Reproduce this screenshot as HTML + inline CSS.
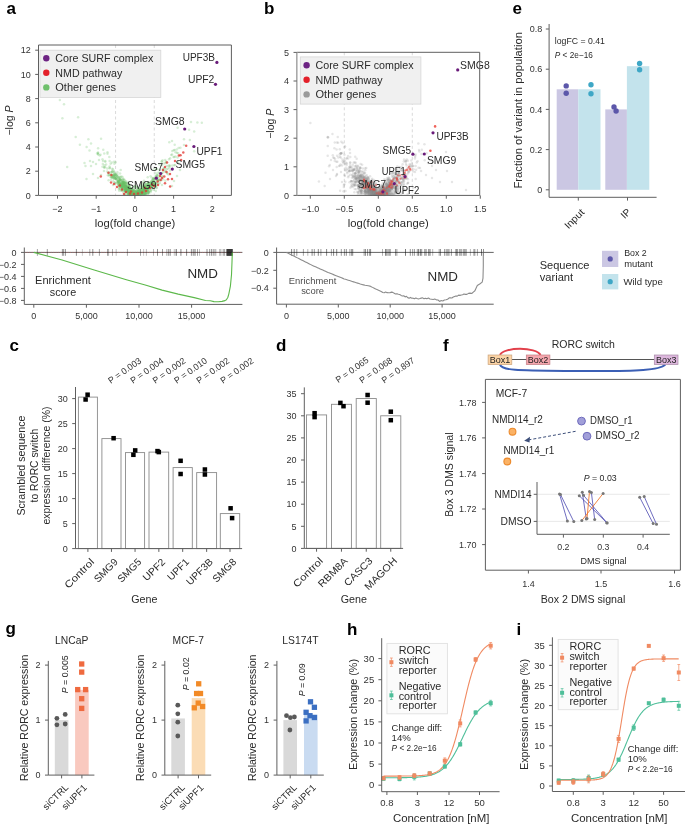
<!DOCTYPE html>
<html><head><meta charset="utf-8"><style>
html,body{margin:0;padding:0;background:#fff;}
svg{display:block;font-family:"Liberation Sans",sans-serif;will-change:transform;}
</style></head><body>
<svg width="685" height="825" viewBox="0 0 685 825">
<rect width="685" height="825" fill="#fff"/>
<text x="6.5" y="13.6" font-size="17" fill="#000" font-weight="bold" >a</text>
<text x="264" y="13.6" font-size="17" fill="#000" font-weight="bold" >b</text>
<text x="512.5" y="13.6" font-size="17" fill="#000" font-weight="bold" >e</text>
<text x="9.5" y="351.1" font-size="17" fill="#000" font-weight="bold" >c</text>
<text x="276" y="351.1" font-size="17" fill="#000" font-weight="bold" >d</text>
<text x="443" y="350.6" font-size="17" fill="#000" font-weight="bold" >f</text>
<text x="5.5" y="633.6" font-size="17" fill="#000" font-weight="bold" >g</text>
<text x="347" y="635.1" font-size="17" fill="#000" font-weight="bold" >h</text>
<text x="516.5" y="634.6" font-size="17" fill="#000" font-weight="bold" >i</text>
<line x1="115.55" y1="45" x2="115.55" y2="195.4" stroke="#d0d0d0" stroke-width="0.8" stroke-dasharray="3,2.5"/>
<line x1="154.25" y1="45" x2="154.25" y2="195.4" stroke="#d0d0d0" stroke-width="0.8" stroke-dasharray="3,2.5"/>
<g fill="#6cbf69" fill-opacity="0.27">
<circle cx="119.27" cy="180.8" r="1.25"/>
<circle cx="147.61" cy="189.91" r="1.25"/>
<circle cx="117.93" cy="180.93" r="1.25"/>
<circle cx="141" cy="189.65" r="1.25"/>
<circle cx="119.37" cy="186.57" r="1.25"/>
<circle cx="143.92" cy="189.47" r="1.25"/>
<circle cx="154.49" cy="178.83" r="1.25"/>
<circle cx="167.73" cy="168.78" r="1.25"/>
<circle cx="124.88" cy="190.82" r="1.25"/>
<circle cx="136.12" cy="194.59" r="1.25"/>
<circle cx="130.5" cy="192.32" r="1.25"/>
<circle cx="138.39" cy="192.22" r="1.25"/>
<circle cx="148.91" cy="186.6" r="1.25"/>
<circle cx="112.04" cy="171.41" r="1.25"/>
<circle cx="116.77" cy="180.09" r="1.25"/>
<circle cx="116.08" cy="178.72" r="1.25"/>
<circle cx="124.96" cy="186.89" r="1.25"/>
<circle cx="175.54" cy="156.4" r="1.25"/>
<circle cx="145.66" cy="193.68" r="1.25"/>
<circle cx="131.22" cy="191.09" r="1.25"/>
<circle cx="133.72" cy="193.73" r="1.25"/>
<circle cx="142.1" cy="194.17" r="1.25"/>
<circle cx="158.8" cy="180.17" r="1.25"/>
<circle cx="143.66" cy="190.99" r="1.25"/>
<circle cx="147.06" cy="190.57" r="1.25"/>
<circle cx="147.66" cy="188.64" r="1.25"/>
<circle cx="151.03" cy="183.41" r="1.25"/>
<circle cx="144.71" cy="188.94" r="1.25"/>
<circle cx="155.87" cy="182.58" r="1.25"/>
<circle cx="141.98" cy="190.62" r="1.25"/>
<circle cx="138.51" cy="193.34" r="1.25"/>
<circle cx="121.94" cy="185.99" r="1.25"/>
<circle cx="142.45" cy="187.56" r="1.25"/>
<circle cx="147.38" cy="185.13" r="1.25"/>
<circle cx="144.83" cy="188.18" r="1.25"/>
<circle cx="137.24" cy="192.62" r="1.25"/>
<circle cx="157.55" cy="180.73" r="1.25"/>
<circle cx="126.04" cy="182.85" r="1.25"/>
<circle cx="138.02" cy="191.73" r="1.25"/>
<circle cx="146.06" cy="192.87" r="1.25"/>
<circle cx="165.98" cy="161.51" r="1.25"/>
<circle cx="137.16" cy="192.71" r="1.25"/>
<circle cx="133.47" cy="193.54" r="1.25"/>
<circle cx="149.15" cy="184.77" r="1.25"/>
<circle cx="135.66" cy="192.08" r="1.25"/>
<circle cx="125.18" cy="185.4" r="1.25"/>
<circle cx="149.1" cy="188.1" r="1.25"/>
<circle cx="112.03" cy="177.77" r="1.25"/>
<circle cx="137.93" cy="192.86" r="1.25"/>
<circle cx="154.67" cy="186.04" r="1.25"/>
<circle cx="134.93" cy="193.98" r="1.25"/>
<circle cx="145.2" cy="183.1" r="1.25"/>
<circle cx="147.73" cy="191.11" r="1.25"/>
<circle cx="129.63" cy="190.91" r="1.25"/>
<circle cx="166.69" cy="165.9" r="1.25"/>
<circle cx="136.35" cy="191.26" r="1.25"/>
<circle cx="133.86" cy="190.46" r="1.25"/>
<circle cx="126.15" cy="189.94" r="1.25"/>
<circle cx="144.11" cy="186.59" r="1.25"/>
<circle cx="143.25" cy="190.4" r="1.25"/>
<circle cx="111.64" cy="176.56" r="1.25"/>
<circle cx="127.1" cy="190.88" r="1.25"/>
<circle cx="142.39" cy="192.7" r="1.25"/>
<circle cx="144.96" cy="189.91" r="1.25"/>
<circle cx="130.65" cy="191.99" r="1.25"/>
<circle cx="140.38" cy="190.67" r="1.25"/>
<circle cx="128.8" cy="191.43" r="1.25"/>
<circle cx="117.49" cy="174.56" r="1.25"/>
<circle cx="153.44" cy="184.09" r="1.25"/>
<circle cx="128.79" cy="194.09" r="1.25"/>
<circle cx="137.07" cy="194.03" r="1.25"/>
<circle cx="162.76" cy="172.58" r="1.25"/>
<circle cx="124.97" cy="194.75" r="1.25"/>
<circle cx="152.9" cy="183.26" r="1.25"/>
<circle cx="114.35" cy="176.14" r="1.25"/>
<circle cx="114.36" cy="163.67" r="1.25"/>
<circle cx="149.19" cy="185.18" r="1.25"/>
<circle cx="123.31" cy="182.25" r="1.25"/>
<circle cx="155.89" cy="185.62" r="1.25"/>
<circle cx="115.31" cy="174.63" r="1.25"/>
<circle cx="145.79" cy="192.58" r="1.25"/>
<circle cx="126.03" cy="190.47" r="1.25"/>
<circle cx="119.71" cy="184.82" r="1.25"/>
<circle cx="150.87" cy="183.33" r="1.25"/>
<circle cx="161.16" cy="175.88" r="1.25"/>
<circle cx="112.2" cy="171.62" r="1.25"/>
<circle cx="153.29" cy="180.55" r="1.25"/>
<circle cx="151.92" cy="183.92" r="1.25"/>
<circle cx="125.73" cy="187.96" r="1.25"/>
<circle cx="130.12" cy="194.71" r="1.25"/>
<circle cx="113.29" cy="181.36" r="1.25"/>
<circle cx="128.84" cy="187.06" r="1.25"/>
<circle cx="137.19" cy="193.09" r="1.25"/>
<circle cx="150.46" cy="188.82" r="1.25"/>
<circle cx="109.74" cy="168.33" r="1.25"/>
<circle cx="126.11" cy="184.78" r="1.25"/>
<circle cx="139.21" cy="190.98" r="1.25"/>
<circle cx="144.09" cy="192.68" r="1.25"/>
<circle cx="125.24" cy="189.05" r="1.25"/>
<circle cx="144.71" cy="187.72" r="1.25"/>
<circle cx="147.81" cy="193.42" r="1.25"/>
<circle cx="133.6" cy="193.12" r="1.25"/>
<circle cx="125.14" cy="186.97" r="1.25"/>
<circle cx="137.85" cy="191.74" r="1.25"/>
<circle cx="124.41" cy="189.51" r="1.25"/>
<circle cx="125.15" cy="182.54" r="1.25"/>
<circle cx="148.83" cy="187.76" r="1.25"/>
<circle cx="137.78" cy="193.92" r="1.25"/>
<circle cx="137.49" cy="194.83" r="1.25"/>
<circle cx="126.7" cy="184.4" r="1.25"/>
<circle cx="141.75" cy="191.97" r="1.25"/>
<circle cx="132.16" cy="193.28" r="1.25"/>
<circle cx="137.41" cy="193.8" r="1.25"/>
<circle cx="125.34" cy="190.17" r="1.25"/>
<circle cx="122.14" cy="188.29" r="1.25"/>
<circle cx="131.49" cy="194.43" r="1.25"/>
<circle cx="126.98" cy="189.02" r="1.25"/>
<circle cx="149.3" cy="186.73" r="1.25"/>
<circle cx="133.25" cy="192.13" r="1.25"/>
<circle cx="129.87" cy="194.62" r="1.25"/>
<circle cx="118.76" cy="185.36" r="1.25"/>
<circle cx="117.15" cy="175.96" r="1.25"/>
<circle cx="139.44" cy="194" r="1.25"/>
<circle cx="153.54" cy="185.75" r="1.25"/>
<circle cx="144.52" cy="188.1" r="1.25"/>
<circle cx="115.15" cy="183.52" r="1.25"/>
<circle cx="123.05" cy="182.96" r="1.25"/>
<circle cx="151.45" cy="189.47" r="1.25"/>
<circle cx="148.29" cy="189" r="1.25"/>
<circle cx="129.88" cy="193.1" r="1.25"/>
<circle cx="122.11" cy="188.81" r="1.25"/>
<circle cx="141.16" cy="186.91" r="1.25"/>
<circle cx="169.79" cy="166.26" r="1.25"/>
<circle cx="112.92" cy="176.79" r="1.25"/>
<circle cx="122.9" cy="179.46" r="1.25"/>
<circle cx="142.19" cy="193.89" r="1.25"/>
<circle cx="146.85" cy="187.17" r="1.25"/>
<circle cx="114.14" cy="178.62" r="1.25"/>
<circle cx="131.84" cy="193.15" r="1.25"/>
<circle cx="123.45" cy="181.49" r="1.25"/>
<circle cx="139.5" cy="192.25" r="1.25"/>
<circle cx="114.53" cy="177.66" r="1.25"/>
<circle cx="145.36" cy="193.75" r="1.25"/>
<circle cx="148.92" cy="188.56" r="1.25"/>
<circle cx="140.04" cy="193.43" r="1.25"/>
<circle cx="137.69" cy="191.36" r="1.25"/>
<circle cx="129.75" cy="187.54" r="1.25"/>
<circle cx="124.91" cy="190.24" r="1.25"/>
<circle cx="143.98" cy="193.87" r="1.25"/>
<circle cx="130.17" cy="189.6" r="1.25"/>
<circle cx="150.36" cy="192.13" r="1.25"/>
<circle cx="141.36" cy="187.31" r="1.25"/>
<circle cx="150.16" cy="187.1" r="1.25"/>
<circle cx="127.23" cy="190.33" r="1.25"/>
<circle cx="120.18" cy="183.88" r="1.25"/>
<circle cx="132.51" cy="194.04" r="1.25"/>
<circle cx="150" cy="187.19" r="1.25"/>
<circle cx="116.28" cy="175.14" r="1.25"/>
<circle cx="121.2" cy="185.46" r="1.25"/>
<circle cx="122.09" cy="185.66" r="1.25"/>
<circle cx="162.79" cy="176.26" r="1.25"/>
<circle cx="133.16" cy="191.57" r="1.25"/>
<circle cx="144.41" cy="188.29" r="1.25"/>
<circle cx="123.86" cy="186.14" r="1.25"/>
<circle cx="141.27" cy="188.96" r="1.25"/>
<circle cx="140.9" cy="193.26" r="1.25"/>
<circle cx="138.05" cy="192.44" r="1.25"/>
<circle cx="130.56" cy="194.27" r="1.25"/>
<circle cx="123.98" cy="183.31" r="1.25"/>
<circle cx="151.26" cy="181.94" r="1.25"/>
<circle cx="145.84" cy="187.03" r="1.25"/>
<circle cx="134.87" cy="193.93" r="1.25"/>
<circle cx="121.46" cy="184.92" r="1.25"/>
<circle cx="125.53" cy="185.92" r="1.25"/>
<circle cx="127.49" cy="190.03" r="1.25"/>
<circle cx="140.01" cy="189.61" r="1.25"/>
<circle cx="124.79" cy="190.16" r="1.25"/>
<circle cx="145.34" cy="193.21" r="1.25"/>
<circle cx="140.68" cy="194.25" r="1.25"/>
<circle cx="144.01" cy="192.22" r="1.25"/>
<circle cx="123.42" cy="179.74" r="1.25"/>
<circle cx="143.99" cy="180.65" r="1.25"/>
<circle cx="140.11" cy="193.95" r="1.25"/>
<circle cx="136.28" cy="191.18" r="1.25"/>
<circle cx="134.56" cy="194.17" r="1.25"/>
<circle cx="141.5" cy="194.74" r="1.25"/>
<circle cx="118.99" cy="178.82" r="1.25"/>
<circle cx="143.4" cy="190.95" r="1.25"/>
<circle cx="123.31" cy="192.2" r="1.25"/>
<circle cx="141.1" cy="192.77" r="1.25"/>
<circle cx="113.4" cy="175.98" r="1.25"/>
<circle cx="115.47" cy="178.17" r="1.25"/>
<circle cx="136.73" cy="193.84" r="1.25"/>
<circle cx="137.67" cy="193.84" r="1.25"/>
<circle cx="120.34" cy="184.43" r="1.25"/>
<circle cx="128.37" cy="191.09" r="1.25"/>
<circle cx="138.35" cy="192.42" r="1.25"/>
<circle cx="155.78" cy="191.01" r="1.25"/>
<circle cx="140.02" cy="193.61" r="1.25"/>
<circle cx="163.97" cy="168.05" r="1.25"/>
<circle cx="113.79" cy="174.66" r="1.25"/>
<circle cx="128.25" cy="187.68" r="1.25"/>
<circle cx="121.42" cy="184.55" r="1.25"/>
<circle cx="133.22" cy="194.44" r="1.25"/>
<circle cx="127.44" cy="194.76" r="1.25"/>
<circle cx="140.78" cy="190.06" r="1.25"/>
<circle cx="137.49" cy="192.98" r="1.25"/>
<circle cx="132.66" cy="193.84" r="1.25"/>
<circle cx="152.89" cy="187.95" r="1.25"/>
<circle cx="125.96" cy="190.54" r="1.25"/>
<circle cx="122.64" cy="187.56" r="1.25"/>
<circle cx="157.85" cy="179.91" r="1.25"/>
<circle cx="133.44" cy="189.34" r="1.25"/>
<circle cx="155.83" cy="185.93" r="1.25"/>
<circle cx="127.49" cy="194.15" r="1.25"/>
<circle cx="127.07" cy="186.74" r="1.25"/>
<circle cx="146.85" cy="188.65" r="1.25"/>
<circle cx="123.4" cy="189.4" r="1.25"/>
<circle cx="138.35" cy="188.08" r="1.25"/>
<circle cx="129.07" cy="193.1" r="1.25"/>
<circle cx="125.99" cy="191.59" r="1.25"/>
<circle cx="122.48" cy="185.89" r="1.25"/>
<circle cx="153.21" cy="183.66" r="1.25"/>
<circle cx="128.38" cy="194.81" r="1.25"/>
<circle cx="137.62" cy="194.33" r="1.25"/>
<circle cx="119.24" cy="185.75" r="1.25"/>
<circle cx="134.36" cy="192.78" r="1.25"/>
<circle cx="142.9" cy="190.89" r="1.25"/>
<circle cx="130.77" cy="191.58" r="1.25"/>
<circle cx="134.75" cy="190.53" r="1.25"/>
<circle cx="120.44" cy="184.48" r="1.25"/>
<circle cx="151.09" cy="186.42" r="1.25"/>
<circle cx="153.1" cy="183.91" r="1.25"/>
<circle cx="117.27" cy="183.46" r="1.25"/>
<circle cx="163.19" cy="170.32" r="1.25"/>
<circle cx="142.64" cy="188.97" r="1.25"/>
<circle cx="142.17" cy="189.1" r="1.25"/>
<circle cx="131.5" cy="193.49" r="1.25"/>
<circle cx="147.46" cy="189.5" r="1.25"/>
<circle cx="117.91" cy="181.47" r="1.25"/>
<circle cx="127.94" cy="188.44" r="1.25"/>
<circle cx="125.7" cy="191.26" r="1.25"/>
<circle cx="130.66" cy="188.4" r="1.25"/>
<circle cx="134.29" cy="194.62" r="1.25"/>
<circle cx="135.02" cy="194.71" r="1.25"/>
<circle cx="146.76" cy="184.57" r="1.25"/>
<circle cx="113.9" cy="171.12" r="1.25"/>
<circle cx="165.53" cy="171.04" r="1.25"/>
<circle cx="159.74" cy="173.12" r="1.25"/>
<circle cx="121.75" cy="182.97" r="1.25"/>
<circle cx="144.31" cy="190.95" r="1.25"/>
<circle cx="105.17" cy="167.22" r="1.25"/>
<circle cx="158.22" cy="179.72" r="1.25"/>
<circle cx="129.88" cy="192.45" r="1.25"/>
<circle cx="124.89" cy="189.76" r="1.25"/>
<circle cx="136.1" cy="194.22" r="1.25"/>
<circle cx="128.42" cy="190.75" r="1.25"/>
<circle cx="117.15" cy="178.02" r="1.25"/>
<circle cx="125.33" cy="187.22" r="1.25"/>
<circle cx="123.32" cy="187.61" r="1.25"/>
<circle cx="166.44" cy="169.27" r="1.25"/>
<circle cx="155.27" cy="176.5" r="1.25"/>
<circle cx="128.46" cy="188.88" r="1.25"/>
<circle cx="128.36" cy="193.64" r="1.25"/>
<circle cx="119.73" cy="185.15" r="1.25"/>
<circle cx="135.13" cy="189.18" r="1.25"/>
<circle cx="157.54" cy="183.55" r="1.25"/>
<circle cx="139.28" cy="193.26" r="1.25"/>
<circle cx="133.14" cy="191.74" r="1.25"/>
<circle cx="130.66" cy="193.11" r="1.25"/>
<circle cx="130.11" cy="192.12" r="1.25"/>
<circle cx="151.32" cy="182.63" r="1.25"/>
<circle cx="117.77" cy="182.09" r="1.25"/>
<circle cx="124.71" cy="184.88" r="1.25"/>
<circle cx="137.77" cy="192.07" r="1.25"/>
<circle cx="140.66" cy="192.16" r="1.25"/>
<circle cx="126.13" cy="187.54" r="1.25"/>
<circle cx="113.03" cy="184.96" r="1.25"/>
<circle cx="127.55" cy="186.69" r="1.25"/>
<circle cx="123.88" cy="185.27" r="1.25"/>
<circle cx="156.26" cy="176.26" r="1.25"/>
<circle cx="139.58" cy="192.82" r="1.25"/>
<circle cx="121.37" cy="185.64" r="1.25"/>
<circle cx="130.65" cy="194.23" r="1.25"/>
<circle cx="139.2" cy="189.91" r="1.25"/>
<circle cx="144.37" cy="189.32" r="1.25"/>
<circle cx="133.44" cy="193.13" r="1.25"/>
<circle cx="122.02" cy="180.81" r="1.25"/>
<circle cx="130.64" cy="191.34" r="1.25"/>
<circle cx="161.31" cy="180.28" r="1.25"/>
<circle cx="146.63" cy="190.72" r="1.25"/>
<circle cx="129.58" cy="189.06" r="1.25"/>
<circle cx="159.75" cy="180.59" r="1.25"/>
<circle cx="135.03" cy="193.28" r="1.25"/>
<circle cx="126.84" cy="187.18" r="1.25"/>
<circle cx="124.88" cy="185.66" r="1.25"/>
<circle cx="140.48" cy="189.69" r="1.25"/>
<circle cx="143.38" cy="194.3" r="1.25"/>
<circle cx="144.49" cy="186.04" r="1.25"/>
<circle cx="142.51" cy="193.24" r="1.25"/>
<circle cx="150.13" cy="185.75" r="1.25"/>
<circle cx="119" cy="183.02" r="1.25"/>
<circle cx="153.02" cy="184.92" r="1.25"/>
<circle cx="113.37" cy="177.69" r="1.25"/>
<circle cx="139.45" cy="192.86" r="1.25"/>
<circle cx="150.51" cy="183.56" r="1.25"/>
<circle cx="147.97" cy="183.85" r="1.25"/>
<circle cx="129.22" cy="192.74" r="1.25"/>
<circle cx="138.91" cy="189.49" r="1.25"/>
<circle cx="113.37" cy="176.61" r="1.25"/>
<circle cx="125.77" cy="186.62" r="1.25"/>
<circle cx="153.6" cy="184.37" r="1.25"/>
<circle cx="119.06" cy="181.7" r="1.25"/>
<circle cx="146.2" cy="190.9" r="1.25"/>
<circle cx="143.63" cy="194.78" r="1.25"/>
<circle cx="148.9" cy="192.01" r="1.25"/>
<circle cx="148.35" cy="193.57" r="1.25"/>
<circle cx="152.52" cy="185.6" r="1.25"/>
<circle cx="115.03" cy="178.46" r="1.25"/>
<circle cx="128.6" cy="189.93" r="1.25"/>
<circle cx="129.41" cy="190.19" r="1.25"/>
<circle cx="138.7" cy="191.27" r="1.25"/>
<circle cx="126.08" cy="181.2" r="1.25"/>
<circle cx="145.12" cy="189.12" r="1.25"/>
<circle cx="148.76" cy="184.3" r="1.25"/>
<circle cx="147.98" cy="186.65" r="1.25"/>
<circle cx="110.73" cy="177.13" r="1.25"/>
<circle cx="140.87" cy="192.36" r="1.25"/>
<circle cx="138.47" cy="192.3" r="1.25"/>
<circle cx="136.76" cy="190.98" r="1.25"/>
<circle cx="127.37" cy="190.73" r="1.25"/>
<circle cx="139.02" cy="191.74" r="1.25"/>
<circle cx="144.96" cy="185.75" r="1.25"/>
<circle cx="128.81" cy="187.73" r="1.25"/>
<circle cx="133.15" cy="189.33" r="1.25"/>
<circle cx="144.93" cy="191.56" r="1.25"/>
<circle cx="104.27" cy="167.84" r="1.25"/>
<circle cx="125.93" cy="188.16" r="1.25"/>
<circle cx="164.41" cy="168.32" r="1.25"/>
<circle cx="119.75" cy="183.27" r="1.25"/>
<circle cx="128.93" cy="182.97" r="1.25"/>
<circle cx="129.74" cy="193.16" r="1.25"/>
<circle cx="149.31" cy="186.72" r="1.25"/>
<circle cx="119.13" cy="177.54" r="1.25"/>
<circle cx="139" cy="192.4" r="1.25"/>
<circle cx="130.58" cy="190.48" r="1.25"/>
<circle cx="145.38" cy="192.51" r="1.25"/>
<circle cx="108.62" cy="180.2" r="1.25"/>
<circle cx="133.26" cy="191.41" r="1.25"/>
<circle cx="147.7" cy="183.79" r="1.25"/>
<circle cx="158.6" cy="178.27" r="1.25"/>
<circle cx="148.38" cy="192.64" r="1.25"/>
<circle cx="143.7" cy="189.85" r="1.25"/>
<circle cx="120.65" cy="183" r="1.25"/>
<circle cx="151.22" cy="186.67" r="1.25"/>
<circle cx="141.68" cy="193.98" r="1.25"/>
<circle cx="139.73" cy="193.81" r="1.25"/>
<circle cx="119.88" cy="183.8" r="1.25"/>
<circle cx="148.14" cy="182.81" r="1.25"/>
<circle cx="130.75" cy="190.37" r="1.25"/>
<circle cx="144.59" cy="189.25" r="1.25"/>
<circle cx="115.09" cy="176.44" r="1.25"/>
<circle cx="122.52" cy="181.57" r="1.25"/>
<circle cx="144.97" cy="188.32" r="1.25"/>
<circle cx="102.51" cy="159.18" r="1.25"/>
<circle cx="143.84" cy="194.56" r="1.25"/>
<circle cx="147.29" cy="188.28" r="1.25"/>
<circle cx="121.9" cy="186.06" r="1.25"/>
<circle cx="174.31" cy="156.96" r="1.25"/>
<circle cx="127.01" cy="190.86" r="1.25"/>
<circle cx="123.58" cy="183.59" r="1.25"/>
<circle cx="131.44" cy="190.78" r="1.25"/>
<circle cx="120.15" cy="179.87" r="1.25"/>
<circle cx="134.55" cy="193.69" r="1.25"/>
<circle cx="150.36" cy="187.6" r="1.25"/>
<circle cx="138.5" cy="193.01" r="1.25"/>
<circle cx="126.1" cy="192.58" r="1.25"/>
<circle cx="140.43" cy="190.49" r="1.25"/>
<circle cx="143.79" cy="194.21" r="1.25"/>
<circle cx="142.63" cy="190.56" r="1.25"/>
<circle cx="138.52" cy="192.79" r="1.25"/>
<circle cx="130.76" cy="191.84" r="1.25"/>
<circle cx="146.74" cy="190.49" r="1.25"/>
<circle cx="116.51" cy="179.58" r="1.25"/>
<circle cx="126.26" cy="186.99" r="1.25"/>
<circle cx="132.98" cy="193.83" r="1.25"/>
<circle cx="118.82" cy="178.51" r="1.25"/>
<circle cx="157.31" cy="180.48" r="1.25"/>
<circle cx="125.55" cy="191.42" r="1.25"/>
<circle cx="146.27" cy="188.93" r="1.25"/>
<circle cx="124.76" cy="183.74" r="1.25"/>
<circle cx="144.67" cy="188.58" r="1.25"/>
<circle cx="112.43" cy="175.04" r="1.25"/>
<circle cx="146.76" cy="184.46" r="1.25"/>
<circle cx="148.1" cy="190.23" r="1.25"/>
<circle cx="125.86" cy="185.61" r="1.25"/>
<circle cx="147.6" cy="184.39" r="1.25"/>
<circle cx="150.23" cy="186.57" r="1.25"/>
<circle cx="144.91" cy="183.44" r="1.25"/>
<circle cx="128.98" cy="192.22" r="1.25"/>
<circle cx="143.19" cy="190.23" r="1.25"/>
<circle cx="117.4" cy="182.68" r="1.25"/>
<circle cx="120.88" cy="177.07" r="1.25"/>
<circle cx="125.74" cy="185.75" r="1.25"/>
<circle cx="159.39" cy="169.73" r="1.25"/>
<circle cx="153.11" cy="177.88" r="1.25"/>
<circle cx="119.12" cy="183.11" r="1.25"/>
<circle cx="125.6" cy="188.94" r="1.25"/>
<circle cx="168.38" cy="174.59" r="1.25"/>
<circle cx="152" cy="180.17" r="1.25"/>
<circle cx="128.36" cy="184.89" r="1.25"/>
<circle cx="135.86" cy="192.09" r="1.25"/>
<circle cx="130.04" cy="192.11" r="1.25"/>
<circle cx="142.79" cy="191.19" r="1.25"/>
<circle cx="165.04" cy="171.75" r="1.25"/>
<circle cx="128.94" cy="192.83" r="1.25"/>
<circle cx="124.98" cy="191.79" r="1.25"/>
<circle cx="122.32" cy="182.22" r="1.25"/>
<circle cx="139.37" cy="190.73" r="1.25"/>
<circle cx="142.76" cy="189.39" r="1.25"/>
<circle cx="127.75" cy="190.66" r="1.25"/>
<circle cx="124.99" cy="187.83" r="1.25"/>
<circle cx="124.46" cy="188.19" r="1.25"/>
<circle cx="132.67" cy="194.32" r="1.25"/>
<circle cx="131.5" cy="194.14" r="1.25"/>
<circle cx="151.63" cy="186.25" r="1.25"/>
<circle cx="121.99" cy="184.15" r="1.25"/>
<circle cx="120.99" cy="187.3" r="1.25"/>
<circle cx="98.14" cy="154.46" r="1.25"/>
<circle cx="148.11" cy="193.27" r="1.25"/>
<circle cx="123.44" cy="184.37" r="1.25"/>
<circle cx="109.52" cy="174.82" r="1.25"/>
<circle cx="119.52" cy="183.01" r="1.25"/>
<circle cx="109.71" cy="167.69" r="1.25"/>
<circle cx="133.06" cy="193.4" r="1.25"/>
<circle cx="130.86" cy="192.97" r="1.25"/>
<circle cx="144.76" cy="188.02" r="1.25"/>
<circle cx="122.06" cy="184.89" r="1.25"/>
<circle cx="153.54" cy="181.56" r="1.25"/>
<circle cx="125.59" cy="188.43" r="1.25"/>
<circle cx="130.46" cy="189.76" r="1.25"/>
<circle cx="135.33" cy="194.41" r="1.25"/>
<circle cx="163.14" cy="179.25" r="1.25"/>
<circle cx="121.95" cy="190.26" r="1.25"/>
<circle cx="114.56" cy="173.83" r="1.25"/>
<circle cx="138.63" cy="189.77" r="1.25"/>
<circle cx="109.68" cy="175.03" r="1.25"/>
<circle cx="153.34" cy="179.81" r="1.25"/>
<circle cx="146.2" cy="186.63" r="1.25"/>
<circle cx="135.31" cy="193.38" r="1.25"/>
<circle cx="132.82" cy="193.17" r="1.25"/>
<circle cx="153.46" cy="187.51" r="1.25"/>
<circle cx="125.32" cy="186.19" r="1.25"/>
<circle cx="131.54" cy="193.35" r="1.25"/>
<circle cx="161.7" cy="173.13" r="1.25"/>
<circle cx="129.57" cy="188.58" r="1.25"/>
<circle cx="167.05" cy="173.51" r="1.25"/>
<circle cx="126.34" cy="188.41" r="1.25"/>
<circle cx="126.78" cy="183.01" r="1.25"/>
<circle cx="141.61" cy="193.3" r="1.25"/>
<circle cx="141.17" cy="194.6" r="1.25"/>
<circle cx="127.17" cy="189.16" r="1.25"/>
<circle cx="165.39" cy="180.7" r="1.25"/>
<circle cx="140.27" cy="189.46" r="1.25"/>
<circle cx="144.35" cy="184.95" r="1.25"/>
<circle cx="140.65" cy="192.38" r="1.25"/>
<circle cx="155.78" cy="185.73" r="1.25"/>
<circle cx="124.87" cy="194.03" r="1.25"/>
<circle cx="130.02" cy="191.45" r="1.25"/>
<circle cx="136.73" cy="192.7" r="1.25"/>
<circle cx="138.83" cy="192.05" r="1.25"/>
<circle cx="123.36" cy="190.74" r="1.25"/>
<circle cx="121.81" cy="181.21" r="1.25"/>
<circle cx="147.65" cy="191.07" r="1.25"/>
<circle cx="136.32" cy="192.92" r="1.25"/>
<circle cx="151.87" cy="187.15" r="1.25"/>
<circle cx="131.84" cy="189.79" r="1.25"/>
<circle cx="165.69" cy="163.05" r="1.25"/>
<circle cx="120.33" cy="181.66" r="1.25"/>
<circle cx="131.08" cy="192.77" r="1.25"/>
<circle cx="126.43" cy="190.19" r="1.25"/>
<circle cx="134.77" cy="191.36" r="1.25"/>
<circle cx="143.83" cy="189.66" r="1.25"/>
<circle cx="131.97" cy="190.31" r="1.25"/>
<circle cx="145.5" cy="183.88" r="1.25"/>
<circle cx="138.23" cy="194.04" r="1.25"/>
<circle cx="114.23" cy="175.19" r="1.25"/>
<circle cx="112.89" cy="169.22" r="1.25"/>
<circle cx="126.86" cy="189.19" r="1.25"/>
<circle cx="117.65" cy="182.16" r="1.25"/>
<circle cx="123" cy="182.22" r="1.25"/>
<circle cx="110.24" cy="172.33" r="1.25"/>
<circle cx="128.68" cy="193.68" r="1.25"/>
<circle cx="142.43" cy="192.26" r="1.25"/>
<circle cx="127.62" cy="191.1" r="1.25"/>
<circle cx="114.43" cy="174.54" r="1.25"/>
<circle cx="136.21" cy="192.25" r="1.25"/>
<circle cx="137.92" cy="191" r="1.25"/>
<circle cx="131.47" cy="192.92" r="1.25"/>
<circle cx="118.3" cy="184.24" r="1.25"/>
<circle cx="111.62" cy="177.27" r="1.25"/>
<circle cx="138.02" cy="192.83" r="1.25"/>
<circle cx="149.76" cy="186.18" r="1.25"/>
<circle cx="122.26" cy="183.66" r="1.25"/>
<circle cx="133.04" cy="189.94" r="1.25"/>
<circle cx="159.91" cy="172.95" r="1.25"/>
<circle cx="120.39" cy="184.94" r="1.25"/>
<circle cx="141.59" cy="190.39" r="1.25"/>
<circle cx="145.61" cy="189.03" r="1.25"/>
<circle cx="123.61" cy="188.88" r="1.25"/>
<circle cx="133.33" cy="191.24" r="1.25"/>
<circle cx="155.01" cy="178.31" r="1.25"/>
<circle cx="139.53" cy="191.63" r="1.25"/>
<circle cx="145.4" cy="185.98" r="1.25"/>
<circle cx="145.83" cy="194.22" r="1.25"/>
<circle cx="147.08" cy="187.47" r="1.25"/>
<circle cx="129.03" cy="189.61" r="1.25"/>
<circle cx="138.58" cy="193.95" r="1.25"/>
<circle cx="113.33" cy="175.25" r="1.25"/>
<circle cx="142.01" cy="192.13" r="1.25"/>
<circle cx="114.62" cy="175.4" r="1.25"/>
<circle cx="144.09" cy="190.2" r="1.25"/>
<circle cx="140.34" cy="193.85" r="1.25"/>
<circle cx="126.5" cy="187.39" r="1.25"/>
<circle cx="130.37" cy="191.61" r="1.25"/>
<circle cx="175.54" cy="152.33" r="1.25"/>
<circle cx="136.13" cy="193.19" r="1.25"/>
<circle cx="125.9" cy="189.05" r="1.25"/>
<circle cx="106.11" cy="164.43" r="1.25"/>
<circle cx="127.3" cy="187.67" r="1.25"/>
<circle cx="152.33" cy="185.02" r="1.25"/>
<circle cx="147.47" cy="187.59" r="1.25"/>
<circle cx="132.29" cy="194.2" r="1.25"/>
<circle cx="124.03" cy="182.79" r="1.25"/>
<circle cx="146.14" cy="192.42" r="1.25"/>
<circle cx="145.66" cy="191.88" r="1.25"/>
<circle cx="115.68" cy="173.88" r="1.25"/>
<circle cx="118.56" cy="177.26" r="1.25"/>
<circle cx="137.45" cy="192.21" r="1.25"/>
<circle cx="141.43" cy="189.22" r="1.25"/>
<circle cx="139.34" cy="191.99" r="1.25"/>
<circle cx="138.08" cy="191.4" r="1.25"/>
<circle cx="129.9" cy="189.09" r="1.25"/>
<circle cx="154.14" cy="183.03" r="1.25"/>
<circle cx="140.52" cy="194.18" r="1.25"/>
<circle cx="131.22" cy="192.08" r="1.25"/>
<circle cx="130.53" cy="194.43" r="1.25"/>
<circle cx="134.52" cy="194.72" r="1.25"/>
<circle cx="139.03" cy="191.83" r="1.25"/>
<circle cx="112.25" cy="168.85" r="1.25"/>
<circle cx="130.16" cy="190.78" r="1.25"/>
<circle cx="146.02" cy="190.55" r="1.25"/>
<circle cx="137.06" cy="194.78" r="1.25"/>
<circle cx="129.4" cy="188.98" r="1.25"/>
<circle cx="157.8" cy="175.09" r="1.25"/>
<circle cx="124.92" cy="182.97" r="1.25"/>
<circle cx="130.64" cy="192.38" r="1.25"/>
<circle cx="127.49" cy="188.47" r="1.25"/>
<circle cx="141.96" cy="191.63" r="1.25"/>
<circle cx="132.22" cy="193.82" r="1.25"/>
<circle cx="129.78" cy="189.1" r="1.25"/>
<circle cx="128.26" cy="190.76" r="1.25"/>
<circle cx="140.1" cy="191.66" r="1.25"/>
<circle cx="131.08" cy="188.78" r="1.25"/>
<circle cx="124.44" cy="185.4" r="1.25"/>
<circle cx="140.99" cy="193.99" r="1.25"/>
<circle cx="131.83" cy="191.04" r="1.25"/>
<circle cx="135.69" cy="194.47" r="1.25"/>
<circle cx="152.71" cy="183.34" r="1.25"/>
<circle cx="113.64" cy="178.84" r="1.25"/>
<circle cx="145.52" cy="190.16" r="1.25"/>
<circle cx="121.18" cy="190.38" r="1.25"/>
<circle cx="139.01" cy="189.87" r="1.25"/>
<circle cx="118.98" cy="189.17" r="1.25"/>
<circle cx="141.22" cy="193.88" r="1.25"/>
<circle cx="131.17" cy="193.48" r="1.25"/>
<circle cx="123.44" cy="184.79" r="1.25"/>
<circle cx="146.57" cy="187.92" r="1.25"/>
<circle cx="127.84" cy="187.19" r="1.25"/>
<circle cx="133.5" cy="193.1" r="1.25"/>
<circle cx="123.04" cy="183.73" r="1.25"/>
<circle cx="144.34" cy="186.83" r="1.25"/>
<circle cx="135.26" cy="194.29" r="1.25"/>
<circle cx="127.6" cy="187.41" r="1.25"/>
<circle cx="144.76" cy="187.13" r="1.25"/>
<circle cx="130.02" cy="194.89" r="1.25"/>
<circle cx="125.47" cy="186.23" r="1.25"/>
<circle cx="146.9" cy="187.58" r="1.25"/>
<circle cx="148.97" cy="185.95" r="1.25"/>
<circle cx="122.57" cy="187.14" r="1.25"/>
<circle cx="130.44" cy="190.4" r="1.25"/>
<circle cx="146.56" cy="188.63" r="1.25"/>
<circle cx="147.72" cy="190.78" r="1.25"/>
<circle cx="133.48" cy="191.01" r="1.25"/>
<circle cx="140.53" cy="190.12" r="1.25"/>
<circle cx="111.11" cy="179.74" r="1.25"/>
<circle cx="124.02" cy="183.66" r="1.25"/>
<circle cx="155.42" cy="183.88" r="1.25"/>
<circle cx="122.51" cy="188.41" r="1.25"/>
<circle cx="123.68" cy="184.68" r="1.25"/>
<circle cx="130.97" cy="187.92" r="1.25"/>
<circle cx="144.02" cy="192.72" r="1.25"/>
<circle cx="137.9" cy="194.5" r="1.25"/>
<circle cx="144.88" cy="187.55" r="1.25"/>
<circle cx="130.55" cy="189.99" r="1.25"/>
<circle cx="142.1" cy="192.17" r="1.25"/>
<circle cx="138.15" cy="192.39" r="1.25"/>
<circle cx="130.93" cy="194.15" r="1.25"/>
<circle cx="150.9" cy="185.65" r="1.25"/>
<circle cx="127.48" cy="188.45" r="1.25"/>
<circle cx="116.41" cy="178.88" r="1.25"/>
<circle cx="117.84" cy="182.07" r="1.25"/>
<circle cx="112.55" cy="177.54" r="1.25"/>
<circle cx="146.18" cy="189.85" r="1.25"/>
<circle cx="119.7" cy="176.75" r="1.25"/>
<circle cx="127.05" cy="185.27" r="1.25"/>
<circle cx="128.35" cy="194.31" r="1.25"/>
<circle cx="158.11" cy="180.53" r="1.25"/>
<circle cx="144.49" cy="187.03" r="1.25"/>
<circle cx="118.48" cy="181.01" r="1.25"/>
<circle cx="127.75" cy="188.3" r="1.25"/>
<circle cx="135.69" cy="193.41" r="1.25"/>
<circle cx="131.27" cy="191.39" r="1.25"/>
<circle cx="128.3" cy="190.52" r="1.25"/>
<circle cx="139.34" cy="193.08" r="1.25"/>
<circle cx="150.87" cy="182.49" r="1.25"/>
<circle cx="145.53" cy="187.62" r="1.25"/>
<circle cx="148.28" cy="182.26" r="1.25"/>
<circle cx="137.79" cy="194.77" r="1.25"/>
<circle cx="134.53" cy="192.52" r="1.25"/>
<circle cx="124.06" cy="182.3" r="1.25"/>
<circle cx="148.09" cy="192.95" r="1.25"/>
<circle cx="122.74" cy="186.83" r="1.25"/>
<circle cx="146.09" cy="194.17" r="1.25"/>
<circle cx="143.67" cy="189.02" r="1.25"/>
<circle cx="130.41" cy="193.7" r="1.25"/>
<circle cx="135.75" cy="194.73" r="1.25"/>
<circle cx="108.8" cy="175.43" r="1.25"/>
<circle cx="141.63" cy="192.49" r="1.25"/>
<circle cx="129.81" cy="194.11" r="1.25"/>
<circle cx="126.2" cy="190.73" r="1.25"/>
<circle cx="169.88" cy="170.47" r="1.25"/>
<circle cx="154.15" cy="181.04" r="1.25"/>
<circle cx="137.67" cy="193.77" r="1.25"/>
<circle cx="130.25" cy="187.96" r="1.25"/>
<circle cx="141.36" cy="192.43" r="1.25"/>
<circle cx="133.47" cy="193.93" r="1.25"/>
<circle cx="120.75" cy="184.56" r="1.25"/>
<circle cx="127.21" cy="187.78" r="1.25"/>
<circle cx="132.22" cy="191.15" r="1.25"/>
<circle cx="118.84" cy="185.59" r="1.25"/>
<circle cx="147.49" cy="188.74" r="1.25"/>
<circle cx="129.37" cy="194.36" r="1.25"/>
<circle cx="137.66" cy="193.24" r="1.25"/>
<circle cx="143.78" cy="191.81" r="1.25"/>
<circle cx="128.45" cy="190.43" r="1.25"/>
<circle cx="133.78" cy="194.21" r="1.25"/>
<circle cx="128.39" cy="191.08" r="1.25"/>
<circle cx="127.69" cy="191.45" r="1.25"/>
<circle cx="136.96" cy="191.91" r="1.25"/>
<circle cx="128.31" cy="188.85" r="1.25"/>
<circle cx="139.32" cy="193.17" r="1.25"/>
<circle cx="143.48" cy="192.64" r="1.25"/>
<circle cx="142.04" cy="191.16" r="1.25"/>
<circle cx="98.14" cy="154.12" r="1.25"/>
<circle cx="142.49" cy="186.39" r="1.25"/>
<circle cx="121.75" cy="184.21" r="1.25"/>
<circle cx="150" cy="184.91" r="1.25"/>
<circle cx="125.05" cy="191.04" r="1.25"/>
<circle cx="129.78" cy="185.6" r="1.25"/>
<circle cx="161.97" cy="184.96" r="1.25"/>
<circle cx="112.23" cy="171.8" r="1.25"/>
<circle cx="142.56" cy="191.39" r="1.25"/>
<circle cx="138.59" cy="193.16" r="1.25"/>
<circle cx="121.39" cy="179.99" r="1.25"/>
<circle cx="129.25" cy="188.25" r="1.25"/>
<circle cx="143.65" cy="190.87" r="1.25"/>
<circle cx="136.74" cy="194.75" r="1.25"/>
<circle cx="111.96" cy="175.33" r="1.25"/>
<circle cx="116.34" cy="175.14" r="1.25"/>
<circle cx="145.13" cy="194.53" r="1.25"/>
<circle cx="140.77" cy="192.81" r="1.25"/>
<circle cx="147.23" cy="189.54" r="1.25"/>
<circle cx="137.25" cy="194.72" r="1.25"/>
<circle cx="126.78" cy="190.06" r="1.25"/>
<circle cx="125.53" cy="186.23" r="1.25"/>
<circle cx="122.04" cy="189.66" r="1.25"/>
<circle cx="122.89" cy="182.28" r="1.25"/>
<circle cx="128.61" cy="188.95" r="1.25"/>
<circle cx="144.21" cy="192.08" r="1.25"/>
<circle cx="144.47" cy="189" r="1.25"/>
<circle cx="131.51" cy="194.33" r="1.25"/>
<circle cx="140.48" cy="191.96" r="1.25"/>
<circle cx="126.91" cy="186.83" r="1.25"/>
<circle cx="149.97" cy="186.21" r="1.25"/>
<circle cx="125.66" cy="186.69" r="1.25"/>
<circle cx="104.25" cy="167.06" r="1.25"/>
<circle cx="142.29" cy="186.38" r="1.25"/>
<circle cx="125.68" cy="183.79" r="1.25"/>
<circle cx="164.28" cy="163.49" r="1.25"/>
<circle cx="105.26" cy="160.88" r="1.25"/>
<circle cx="137.38" cy="191.99" r="1.25"/>
<circle cx="132.09" cy="189.82" r="1.25"/>
<circle cx="145.56" cy="190.6" r="1.25"/>
<circle cx="139.78" cy="191.03" r="1.25"/>
<circle cx="142.12" cy="192.04" r="1.25"/>
<circle cx="126.65" cy="191.07" r="1.25"/>
<circle cx="129.44" cy="192.75" r="1.25"/>
<circle cx="115.01" cy="182.77" r="1.25"/>
<circle cx="146.04" cy="192.79" r="1.25"/>
<circle cx="118.37" cy="181.29" r="1.25"/>
<circle cx="153.25" cy="179.09" r="1.25"/>
<circle cx="129.72" cy="194.19" r="1.25"/>
<circle cx="128.15" cy="192.71" r="1.25"/>
<circle cx="127.99" cy="188.84" r="1.25"/>
<circle cx="121.47" cy="186.75" r="1.25"/>
<circle cx="131.65" cy="193.11" r="1.25"/>
<circle cx="125.22" cy="190.05" r="1.25"/>
<circle cx="120.61" cy="185.88" r="1.25"/>
<circle cx="141.57" cy="192.9" r="1.25"/>
<circle cx="98.14" cy="152.81" r="1.25"/>
<circle cx="113.93" cy="171.93" r="1.25"/>
<circle cx="162.03" cy="165.18" r="1.25"/>
<circle cx="125.59" cy="187.96" r="1.25"/>
<circle cx="144.83" cy="193.85" r="1.25"/>
<circle cx="157.1" cy="182.71" r="1.25"/>
<circle cx="139.57" cy="193.37" r="1.25"/>
<circle cx="148.7" cy="191.2" r="1.25"/>
<circle cx="134.8" cy="191.36" r="1.25"/>
<circle cx="119.72" cy="181.35" r="1.25"/>
<circle cx="140.5" cy="194.13" r="1.25"/>
<circle cx="131.5" cy="189.49" r="1.25"/>
<circle cx="149.45" cy="184.98" r="1.25"/>
<circle cx="136.08" cy="190.87" r="1.25"/>
<circle cx="148.34" cy="192.11" r="1.25"/>
<circle cx="108.47" cy="172.69" r="1.25"/>
<circle cx="130.99" cy="191.7" r="1.25"/>
<circle cx="146.35" cy="188.55" r="1.25"/>
<circle cx="150.89" cy="190.56" r="1.25"/>
<circle cx="140.89" cy="191.51" r="1.25"/>
<circle cx="115.9" cy="173.95" r="1.25"/>
<circle cx="114.5" cy="182.45" r="1.25"/>
<circle cx="169.03" cy="159.37" r="1.25"/>
<circle cx="139.73" cy="189.78" r="1.25"/>
<circle cx="149.61" cy="190.49" r="1.25"/>
<circle cx="141.1" cy="188.78" r="1.25"/>
<circle cx="132.86" cy="193.78" r="1.25"/>
<circle cx="128.97" cy="189.01" r="1.25"/>
<circle cx="127.82" cy="191.61" r="1.25"/>
<circle cx="119.21" cy="185.18" r="1.25"/>
<circle cx="137.72" cy="193.09" r="1.25"/>
<circle cx="129.95" cy="194.43" r="1.25"/>
<circle cx="139.27" cy="192.58" r="1.25"/>
<circle cx="151.24" cy="187.11" r="1.25"/>
<circle cx="129.62" cy="190.14" r="1.25"/>
<circle cx="154.48" cy="182.66" r="1.25"/>
<circle cx="130.06" cy="189.39" r="1.25"/>
<circle cx="145.84" cy="186.15" r="1.25"/>
<circle cx="113.84" cy="173.03" r="1.25"/>
<circle cx="123.04" cy="183.9" r="1.25"/>
<circle cx="104.48" cy="165.2" r="1.25"/>
<circle cx="123.57" cy="182.32" r="1.25"/>
<circle cx="136.48" cy="191.76" r="1.25"/>
<circle cx="129.26" cy="186" r="1.25"/>
<circle cx="129.2" cy="186.12" r="1.25"/>
<circle cx="128.65" cy="193.32" r="1.25"/>
<circle cx="146.47" cy="190.35" r="1.25"/>
<circle cx="130.49" cy="191.87" r="1.25"/>
<circle cx="125.83" cy="187.16" r="1.25"/>
<circle cx="105.31" cy="161.81" r="1.25"/>
<circle cx="129.65" cy="187.66" r="1.25"/>
<circle cx="130.4" cy="193.76" r="1.25"/>
<circle cx="129.12" cy="190.34" r="1.25"/>
<circle cx="142.6" cy="192.94" r="1.25"/>
<circle cx="124.65" cy="185.94" r="1.25"/>
<circle cx="121.39" cy="186.38" r="1.25"/>
<circle cx="156.96" cy="175.18" r="1.25"/>
<circle cx="145.22" cy="188.49" r="1.25"/>
<circle cx="120.48" cy="179.54" r="1.25"/>
<circle cx="129.2" cy="193.24" r="1.25"/>
<circle cx="159.92" cy="182.96" r="1.25"/>
<circle cx="152.79" cy="183.3" r="1.25"/>
<circle cx="123.02" cy="185.18" r="1.25"/>
<circle cx="124.04" cy="186.11" r="1.25"/>
<circle cx="126.59" cy="192.35" r="1.25"/>
<circle cx="169.27" cy="167.79" r="1.25"/>
<circle cx="147.69" cy="188.37" r="1.25"/>
<circle cx="143.68" cy="194.64" r="1.25"/>
<circle cx="147.9" cy="186.62" r="1.25"/>
<circle cx="119.72" cy="179.68" r="1.25"/>
<circle cx="142.6" cy="183.4" r="1.25"/>
<circle cx="138" cy="191.85" r="1.25"/>
<circle cx="142.87" cy="189.29" r="1.25"/>
<circle cx="144.12" cy="187.07" r="1.25"/>
<circle cx="119.85" cy="186.52" r="1.25"/>
<circle cx="134.4" cy="191.01" r="1.25"/>
<circle cx="145.39" cy="187.56" r="1.25"/>
<circle cx="160.09" cy="175.91" r="1.25"/>
<circle cx="160.43" cy="179.38" r="1.25"/>
<circle cx="146.64" cy="188.55" r="1.25"/>
<circle cx="119.52" cy="183.27" r="1.25"/>
<circle cx="152.15" cy="180.59" r="1.25"/>
<circle cx="130.06" cy="188.94" r="1.25"/>
<circle cx="146.63" cy="186.17" r="1.25"/>
<circle cx="138.67" cy="193.01" r="1.25"/>
<circle cx="124.28" cy="187.1" r="1.25"/>
<circle cx="131.24" cy="192.32" r="1.25"/>
<circle cx="137.73" cy="191.65" r="1.25"/>
<circle cx="121.67" cy="185.73" r="1.25"/>
<circle cx="138.45" cy="194.82" r="1.25"/>
<circle cx="139.26" cy="194.67" r="1.25"/>
<circle cx="150.21" cy="187.01" r="1.25"/>
<circle cx="120.27" cy="180.56" r="1.25"/>
<circle cx="156.48" cy="188.05" r="1.25"/>
<circle cx="133.3" cy="194.1" r="1.25"/>
<circle cx="148.31" cy="182.85" r="1.25"/>
<circle cx="143.61" cy="188.1" r="1.25"/>
<circle cx="140.97" cy="192.36" r="1.25"/>
<circle cx="124.48" cy="179.69" r="1.25"/>
<circle cx="119.48" cy="187.43" r="1.25"/>
<circle cx="147.6" cy="187.35" r="1.25"/>
<circle cx="143.65" cy="189.95" r="1.25"/>
<circle cx="156.75" cy="174.63" r="1.25"/>
<circle cx="127.87" cy="187.26" r="1.25"/>
<circle cx="119.78" cy="188.38" r="1.25"/>
<circle cx="150.52" cy="187.45" r="1.25"/>
<circle cx="107.26" cy="168.42" r="1.25"/>
<circle cx="126.41" cy="187.33" r="1.25"/>
<circle cx="125.77" cy="185.99" r="1.25"/>
<circle cx="122.99" cy="185.3" r="1.25"/>
<circle cx="122.23" cy="183.53" r="1.25"/>
<circle cx="158" cy="176.65" r="1.25"/>
<circle cx="149.38" cy="185.38" r="1.25"/>
<circle cx="122.57" cy="186.25" r="1.25"/>
<circle cx="135.9" cy="194" r="1.25"/>
<circle cx="127.21" cy="187.75" r="1.25"/>
<circle cx="125.71" cy="187.98" r="1.25"/>
<circle cx="147.93" cy="187.86" r="1.25"/>
<circle cx="136.39" cy="194.87" r="1.25"/>
<circle cx="107.83" cy="175.13" r="1.25"/>
<circle cx="123.45" cy="183.04" r="1.25"/>
<circle cx="127.55" cy="188.07" r="1.25"/>
<circle cx="121.72" cy="187.22" r="1.25"/>
<circle cx="128.94" cy="188.08" r="1.25"/>
<circle cx="113.63" cy="176.67" r="1.25"/>
<circle cx="140.23" cy="192.61" r="1.25"/>
<circle cx="134.77" cy="193.58" r="1.25"/>
<circle cx="143.16" cy="193.51" r="1.25"/>
<circle cx="130.6" cy="188.55" r="1.25"/>
<circle cx="166.48" cy="162.2" r="1.25"/>
<circle cx="140.48" cy="194.88" r="1.25"/>
<circle cx="125.2" cy="182.78" r="1.25"/>
<circle cx="155.23" cy="179.53" r="1.25"/>
<circle cx="151.97" cy="183.29" r="1.25"/>
<circle cx="107.21" cy="171.5" r="1.25"/>
<circle cx="133.15" cy="194.54" r="1.25"/>
<circle cx="154.46" cy="184.98" r="1.25"/>
<circle cx="133.72" cy="194.69" r="1.25"/>
<circle cx="119.22" cy="190.86" r="1.25"/>
<circle cx="139.27" cy="193.98" r="1.25"/>
<circle cx="121.95" cy="183.62" r="1.25"/>
<circle cx="143.17" cy="189.63" r="1.25"/>
<circle cx="152.97" cy="179.35" r="1.25"/>
<circle cx="126.81" cy="192.21" r="1.25"/>
<circle cx="139.76" cy="192.4" r="1.25"/>
<circle cx="123.23" cy="178.82" r="1.25"/>
<circle cx="108.07" cy="172.96" r="1.25"/>
<circle cx="138.1" cy="191.61" r="1.25"/>
<circle cx="111.11" cy="174.84" r="1.25"/>
<circle cx="153.46" cy="178.26" r="1.25"/>
<circle cx="131.72" cy="193" r="1.25"/>
<circle cx="123.58" cy="185.04" r="1.25"/>
<circle cx="121.49" cy="190.87" r="1.25"/>
<circle cx="115.38" cy="177.75" r="1.25"/>
<circle cx="117.99" cy="176.83" r="1.25"/>
<circle cx="151.5" cy="181.65" r="1.25"/>
<circle cx="143.39" cy="187.9" r="1.25"/>
<circle cx="138.39" cy="191.76" r="1.25"/>
<circle cx="141" cy="190.46" r="1.25"/>
<circle cx="121.91" cy="186.79" r="1.25"/>
<circle cx="122.14" cy="182.24" r="1.25"/>
<circle cx="141.49" cy="194.42" r="1.25"/>
<circle cx="122.27" cy="186.85" r="1.25"/>
<circle cx="146.2" cy="189.63" r="1.25"/>
<circle cx="131.88" cy="194.89" r="1.25"/>
<circle cx="133.44" cy="190.67" r="1.25"/>
<circle cx="126.13" cy="189.56" r="1.25"/>
<circle cx="156.83" cy="177.33" r="1.25"/>
<circle cx="120.33" cy="179.49" r="1.25"/>
<circle cx="118.75" cy="179.59" r="1.25"/>
<circle cx="102.48" cy="166.75" r="1.25"/>
<circle cx="146.78" cy="190.74" r="1.25"/>
<circle cx="125.67" cy="187.98" r="1.25"/>
<circle cx="126.28" cy="183.51" r="1.25"/>
<circle cx="154.2" cy="181.5" r="1.25"/>
<circle cx="120.18" cy="184.75" r="1.25"/>
<circle cx="131.25" cy="191.53" r="1.25"/>
<circle cx="155.6" cy="183.37" r="1.25"/>
<circle cx="139.85" cy="190.17" r="1.25"/>
<circle cx="129.9" cy="192.53" r="1.25"/>
<circle cx="158.29" cy="184.05" r="1.25"/>
<circle cx="130.38" cy="194.31" r="1.25"/>
<circle cx="154.28" cy="184.45" r="1.25"/>
<circle cx="128.49" cy="185.45" r="1.25"/>
<circle cx="125.4" cy="188.43" r="1.25"/>
<circle cx="132.3" cy="191.78" r="1.25"/>
<circle cx="144.86" cy="187.71" r="1.25"/>
<circle cx="133.42" cy="192.5" r="1.25"/>
<circle cx="132.27" cy="190.72" r="1.25"/>
<circle cx="140.19" cy="194.1" r="1.25"/>
<circle cx="150.84" cy="190.91" r="1.25"/>
<circle cx="122.53" cy="187.79" r="1.25"/>
<circle cx="119.54" cy="188.76" r="1.25"/>
<circle cx="163.17" cy="169.72" r="1.25"/>
<circle cx="120.29" cy="178.67" r="1.25"/>
<circle cx="136.36" cy="192.32" r="1.25"/>
<circle cx="120.72" cy="179.68" r="1.25"/>
<circle cx="149.12" cy="188.48" r="1.25"/>
<circle cx="124.08" cy="187.85" r="1.25"/>
<circle cx="138.39" cy="187.95" r="1.25"/>
<circle cx="158.24" cy="172.64" r="1.25"/>
<circle cx="132.18" cy="194.22" r="1.25"/>
<circle cx="139.73" cy="193.93" r="1.25"/>
<circle cx="128.99" cy="191.5" r="1.25"/>
<circle cx="145.86" cy="189.72" r="1.25"/>
<circle cx="138.06" cy="194.69" r="1.25"/>
<circle cx="132.5" cy="194.45" r="1.25"/>
<circle cx="151.23" cy="184.57" r="1.25"/>
<circle cx="154.2" cy="183.34" r="1.25"/>
<circle cx="148.66" cy="191.99" r="1.25"/>
<circle cx="129.83" cy="191.78" r="1.25"/>
<circle cx="126.86" cy="189.49" r="1.25"/>
<circle cx="123.12" cy="186.33" r="1.25"/>
<circle cx="126.43" cy="188.81" r="1.25"/>
<circle cx="129.75" cy="191.49" r="1.25"/>
<circle cx="118.65" cy="181.08" r="1.25"/>
<circle cx="151.05" cy="186.3" r="1.25"/>
<circle cx="142.04" cy="190.25" r="1.25"/>
<circle cx="124.72" cy="183.33" r="1.25"/>
<circle cx="167.24" cy="172.87" r="1.25"/>
<circle cx="162.57" cy="176.95" r="1.25"/>
<circle cx="153.73" cy="189.8" r="1.25"/>
<circle cx="149.59" cy="186.26" r="1.25"/>
<circle cx="118.54" cy="184.17" r="1.25"/>
<circle cx="121.53" cy="187.22" r="1.25"/>
<circle cx="139.86" cy="193.63" r="1.25"/>
<circle cx="102.8" cy="163.93" r="1.25"/>
<circle cx="140.99" cy="192.32" r="1.25"/>
<circle cx="156.7" cy="187.45" r="1.25"/>
<circle cx="138.12" cy="193.95" r="1.25"/>
<circle cx="144.27" cy="194.51" r="1.25"/>
<circle cx="118.21" cy="181.56" r="1.25"/>
<circle cx="139.69" cy="193.27" r="1.25"/>
<circle cx="141.44" cy="194.71" r="1.25"/>
<circle cx="128.87" cy="188.77" r="1.25"/>
<circle cx="156.71" cy="179.68" r="1.25"/>
<circle cx="133.6" cy="191.47" r="1.25"/>
<circle cx="123.51" cy="186.66" r="1.25"/>
<circle cx="128.51" cy="193.2" r="1.25"/>
<circle cx="137.49" cy="189.44" r="1.25"/>
<circle cx="138.18" cy="192.78" r="1.25"/>
<circle cx="134.59" cy="192.67" r="1.25"/>
<circle cx="161.4" cy="173.61" r="1.25"/>
<circle cx="150.65" cy="181.7" r="1.25"/>
<circle cx="117.41" cy="172.25" r="1.25"/>
<circle cx="115.52" cy="175.95" r="1.25"/>
<circle cx="156.64" cy="169.12" r="1.25"/>
<circle cx="141.14" cy="185.79" r="1.25"/>
<circle cx="116.54" cy="177.25" r="1.25"/>
<circle cx="178.56" cy="148" r="1.25"/>
<circle cx="172" cy="141.01" r="1.25"/>
<circle cx="107.48" cy="152.19" r="1.25"/>
<circle cx="124.34" cy="180.48" r="1.25"/>
<circle cx="120.09" cy="173.54" r="1.25"/>
<circle cx="135.79" cy="194.8" r="1.25"/>
<circle cx="137.72" cy="193.59" r="1.25"/>
<circle cx="172.29" cy="165.41" r="1.25"/>
<circle cx="169.27" cy="142.23" r="1.25"/>
<circle cx="124.65" cy="182.25" r="1.25"/>
<circle cx="155.65" cy="173.07" r="1.25"/>
<circle cx="107.49" cy="153.63" r="1.25"/>
<circle cx="156.65" cy="169.06" r="1.25"/>
<circle cx="127.18" cy="188.03" r="1.25"/>
<circle cx="174.32" cy="165.3" r="1.25"/>
<circle cx="125.12" cy="186.71" r="1.25"/>
<circle cx="111.41" cy="172.78" r="1.25"/>
<circle cx="141.16" cy="184.65" r="1.25"/>
<circle cx="140.03" cy="191.25" r="1.25"/>
<circle cx="114.75" cy="178.61" r="1.25"/>
<circle cx="159.49" cy="164.58" r="1.25"/>
<circle cx="109.54" cy="166.56" r="1.25"/>
<circle cx="120.7" cy="170.12" r="1.25"/>
<circle cx="134.45" cy="186.85" r="1.25"/>
<circle cx="134.89" cy="186.26" r="1.25"/>
<circle cx="177.57" cy="157.45" r="1.25"/>
<circle cx="129.53" cy="190.86" r="1.25"/>
<circle cx="110.6" cy="163.81" r="1.25"/>
<circle cx="97.83" cy="152.69" r="1.25"/>
<circle cx="137.73" cy="189.46" r="1.25"/>
<circle cx="111.39" cy="176.8" r="1.25"/>
<circle cx="99.66" cy="155.54" r="1.25"/>
<circle cx="126.93" cy="182.73" r="1.25"/>
<circle cx="122.58" cy="176.93" r="1.25"/>
<circle cx="144.54" cy="185.04" r="1.25"/>
<circle cx="134.5" cy="186.29" r="1.25"/>
<circle cx="115.62" cy="162.27" r="1.25"/>
<circle cx="169.59" cy="165.15" r="1.25"/>
<circle cx="178.12" cy="153.36" r="1.25"/>
<circle cx="156.39" cy="176.63" r="1.25"/>
<circle cx="109.31" cy="156.97" r="1.25"/>
<circle cx="104.27" cy="153.38" r="1.25"/>
<circle cx="142.74" cy="182.26" r="1.25"/>
<circle cx="138.98" cy="193.6" r="1.25"/>
<circle cx="137.51" cy="188.85" r="1.25"/>
<circle cx="148.78" cy="185.96" r="1.25"/>
<circle cx="137.59" cy="187.98" r="1.25"/>
<circle cx="176.92" cy="152.82" r="1.25"/>
<circle cx="103.24" cy="149.85" r="1.25"/>
<circle cx="165.18" cy="159.88" r="1.25"/>
<circle cx="171.32" cy="154.92" r="1.25"/>
<circle cx="142.39" cy="185.37" r="1.25"/>
<circle cx="136.32" cy="186.73" r="1.25"/>
<circle cx="138.05" cy="192.2" r="1.25"/>
<circle cx="114.1" cy="161.85" r="1.25"/>
<circle cx="177.63" cy="127.71" r="1.25"/>
<circle cx="162.55" cy="160.28" r="1.25"/>
<circle cx="162.87" cy="169.12" r="1.25"/>
<circle cx="121.44" cy="176.5" r="1.25"/>
<circle cx="98.1" cy="148.22" r="1.25"/>
<circle cx="162.08" cy="161.7" r="1.25"/>
<circle cx="173.79" cy="150.31" r="1.25"/>
<circle cx="151.72" cy="177.69" r="1.25"/>
<circle cx="168.7" cy="165.81" r="1.25"/>
<circle cx="153.96" cy="169.61" r="1.25"/>
<circle cx="148.03" cy="182.42" r="1.25"/>
<circle cx="101.07" cy="138.76" r="1.25"/>
<circle cx="161.55" cy="161.46" r="1.25"/>
<circle cx="174.7" cy="144.65" r="1.25"/>
<circle cx="128.19" cy="190.18" r="1.25"/>
<circle cx="109.6" cy="160.94" r="1.25"/>
<circle cx="150.58" cy="176.19" r="1.25"/>
<circle cx="139.12" cy="191" r="1.25"/>
<circle cx="111.79" cy="162.55" r="1.25"/>
<circle cx="174.6" cy="149.96" r="1.25"/>
<circle cx="172.04" cy="154.48" r="1.25"/>
<circle cx="147.73" cy="177.31" r="1.25"/>
<circle cx="123.93" cy="182.21" r="1.25"/>
<circle cx="136.79" cy="186.5" r="1.25"/>
<circle cx="140.75" cy="185.29" r="1.25"/>
<circle cx="116.98" cy="176.29" r="1.25"/>
<circle cx="116.28" cy="178.9" r="1.25"/>
<circle cx="100.54" cy="154.83" r="1.25"/>
<circle cx="59.9" cy="99.9" r="1.25"/>
<circle cx="64" cy="104.2" r="1.25"/>
<circle cx="62.4" cy="118.2" r="1.25"/>
<circle cx="78.1" cy="117.3" r="1.25"/>
<circle cx="75.7" cy="137" r="1.25"/>
<circle cx="88.4" cy="139.3" r="1.25"/>
<circle cx="91" cy="143.6" r="1.25"/>
<circle cx="79.9" cy="144.7" r="1.25"/>
<circle cx="86.6" cy="146.9" r="1.25"/>
<circle cx="89.5" cy="150.6" r="1.25"/>
<circle cx="97.1" cy="153.5" r="1.25"/>
<circle cx="67.2" cy="167.1" r="1.25"/>
<circle cx="90" cy="161" r="1.25"/>
<circle cx="93" cy="162" r="1.25"/>
<circle cx="99" cy="160" r="1.25"/>
<circle cx="103" cy="161" r="1.25"/>
<circle cx="84.5" cy="163" r="1.25"/>
<circle cx="85.5" cy="166" r="1.25"/>
<circle cx="91" cy="166" r="1.25"/>
<circle cx="96" cy="164" r="1.25"/>
<circle cx="86.5" cy="179" r="1.25"/>
<circle cx="98" cy="178" r="1.25"/>
<circle cx="93" cy="174" r="1.25"/>
<circle cx="101" cy="175" r="1.25"/>
<circle cx="104" cy="171" r="1.25"/>
<circle cx="191" cy="122" r="1.25"/>
<circle cx="197.4" cy="122.4" r="1.25"/>
<circle cx="201.8" cy="122.8" r="1.25"/>
<circle cx="189.1" cy="129.7" r="1.25"/>
<circle cx="194.2" cy="131.6" r="1.25"/>
<circle cx="184" cy="139.2" r="1.25"/>
<circle cx="189.9" cy="139.9" r="1.25"/>
<circle cx="184" cy="145" r="1.25"/>
<circle cx="180.4" cy="147.7" r="1.25"/>
<circle cx="176.7" cy="149.4" r="1.25"/>
<circle cx="172.3" cy="150.9" r="1.25"/>
<circle cx="173.5" cy="157" r="1.25"/>
<circle cx="170.1" cy="158.2" r="1.25"/>
<circle cx="194.2" cy="151.2" r="1.25"/>
<circle cx="178" cy="162" r="1.25"/>
<circle cx="175" cy="165" r="1.25"/>
<circle cx="180" cy="170" r="1.25"/>
<circle cx="177" cy="176" r="1.25"/>
<circle cx="174" cy="181" r="1.25"/>
<circle cx="172" cy="186" r="1.25"/>
</g>
<circle cx="108.5" cy="172.8" r="1.25" fill="#e2332e" fill-opacity="0.75"/>
<circle cx="111.4" cy="175.1" r="1.25" fill="#e2332e" fill-opacity="0.75"/>
<circle cx="100.8" cy="176.6" r="1.25" fill="#e2332e" fill-opacity="0.75"/>
<circle cx="111" cy="182.4" r="1.25" fill="#e2332e" fill-opacity="0.75"/>
<circle cx="119.8" cy="185.6" r="1.25" fill="#e2332e" fill-opacity="0.75"/>
<circle cx="186.2" cy="145.8" r="1.25" fill="#e2332e" fill-opacity="0.75"/>
<circle cx="183.3" cy="152.6" r="1.25" fill="#e2332e" fill-opacity="0.75"/>
<circle cx="178.9" cy="155.5" r="1.25" fill="#e2332e" fill-opacity="0.75"/>
<circle cx="180.5" cy="155.3" r="1.25" fill="#e2332e" fill-opacity="0.75"/>
<circle cx="181.1" cy="159.9" r="1.25" fill="#e2332e" fill-opacity="0.75"/>
<circle cx="165" cy="166.9" r="1.25" fill="#e2332e" fill-opacity="0.75"/>
<circle cx="166.5" cy="172" r="1.25" fill="#e2332e" fill-opacity="0.75"/>
<circle cx="164.3" cy="176.4" r="1.25" fill="#e2332e" fill-opacity="0.75"/>
<circle cx="168" cy="179.3" r="1.25" fill="#e2332e" fill-opacity="0.75"/>
<circle cx="170.1" cy="186.6" r="1.25" fill="#e2332e" fill-opacity="0.75"/>
<circle cx="165" cy="183.3" r="1.25" fill="#e2332e" fill-opacity="0.75"/>
<circle cx="160.7" cy="180.1" r="1.25" fill="#e2332e" fill-opacity="0.75"/>
<circle cx="157.7" cy="181.5" r="1.25" fill="#e2332e" fill-opacity="0.75"/>
<circle cx="162" cy="178" r="1.25" fill="#e2332e" fill-opacity="0.75"/>
<circle cx="158" cy="185" r="1.25" fill="#e2332e" fill-opacity="0.75"/>
<circle cx="154" cy="186" r="1.25" fill="#e2332e" fill-opacity="0.75"/>
<circle cx="150" cy="188" r="1.25" fill="#e2332e" fill-opacity="0.75"/>
<circle cx="146" cy="191" r="1.25" fill="#e2332e" fill-opacity="0.75"/>
<circle cx="142" cy="192.5" r="1.25" fill="#e2332e" fill-opacity="0.75"/>
<circle cx="138" cy="193.5" r="1.25" fill="#e2332e" fill-opacity="0.75"/>
<circle cx="134" cy="194" r="1.25" fill="#e2332e" fill-opacity="0.75"/>
<circle cx="130" cy="193.5" r="1.25" fill="#e2332e" fill-opacity="0.75"/>
<circle cx="126" cy="192" r="1.25" fill="#e2332e" fill-opacity="0.75"/>
<circle cx="122" cy="189.5" r="1.25" fill="#e2332e" fill-opacity="0.75"/>
<circle cx="117" cy="187" r="1.25" fill="#e2332e" fill-opacity="0.75"/>
<circle cx="114" cy="184" r="1.25" fill="#e2332e" fill-opacity="0.75"/>
<circle cx="124" cy="194" r="1.25" fill="#e2332e" fill-opacity="0.75"/>
<circle cx="131" cy="191.6" r="1.25" fill="#e2332e" fill-opacity="0.75"/>
<circle cx="145" cy="188" r="1.25" fill="#e2332e" fill-opacity="0.75"/>
<circle cx="152" cy="184.5" r="1.25" fill="#e2332e" fill-opacity="0.75"/>
<circle cx="160" cy="176" r="1.25" fill="#e2332e" fill-opacity="0.75"/>
<circle cx="163" cy="170" r="1.25" fill="#e2332e" fill-opacity="0.75"/>
<circle cx="170" cy="174" r="1.25" fill="#e2332e" fill-opacity="0.75"/>
<circle cx="172" cy="179" r="1.25" fill="#e2332e" fill-opacity="0.75"/>
<circle cx="167" cy="162.5" r="1.25" fill="#e2332e" fill-opacity="0.75"/>
<circle cx="175" cy="161" r="1.25" fill="#e2332e" fill-opacity="0.75"/>
<rect x="40" y="50.2" width="120.8" height="47.2" fill="#f0f0f0" stroke="#d6d6d6" stroke-width="0.8" />
<circle cx="46.3" cy="58.2" r="3.2" fill="#6d2383"/>
<text x="55.3" y="61.9" font-size="10.6" fill="#2a2a2a" textLength="98" lengthAdjust="spacingAndGlyphs" >Core SURF complex</text>
<circle cx="46.3" cy="72.8" r="3.2" fill="#e3202a"/>
<text x="55.3" y="76.5" font-size="10.6" fill="#2a2a2a" textLength="67" lengthAdjust="spacingAndGlyphs" >NMD pathway</text>
<circle cx="46.3" cy="87.4" r="3.2" fill="#6fc06c"/>
<text x="55.3" y="91.1" font-size="10.6" fill="#2a2a2a" textLength="60.7" lengthAdjust="spacingAndGlyphs" >Other genes</text>
<circle cx="216.9" cy="62.4" r="1.6" fill="#6a1b7a"/>
<circle cx="215.5" cy="84.3" r="1.6" fill="#6a1b7a"/>
<circle cx="184.7" cy="129" r="1.6" fill="#6a1b7a"/>
<circle cx="193.9" cy="146.5" r="1.6" fill="#6a1b7a"/>
<circle cx="172.3" cy="169.1" r="1.6" fill="#6a1b7a"/>
<circle cx="160.7" cy="173.5" r="1.6" fill="#6a1b7a"/>
<circle cx="156.3" cy="178.2" r="1.6" fill="#6a1b7a"/>
<text x="182.7" y="60.7" font-size="10.2" fill="#2a2a2a" textLength="32.3" lengthAdjust="spacingAndGlyphs" >UPF3B</text>
<text x="187.9" y="83" font-size="10.2" fill="#2a2a2a" textLength="26.5" lengthAdjust="spacingAndGlyphs" >UPF2</text>
<text x="155" y="124.7" font-size="10.2" fill="#2a2a2a" textLength="29.7" lengthAdjust="spacingAndGlyphs" >SMG8</text>
<text x="196.5" y="155.3" font-size="10.2" fill="#2a2a2a" textLength="26" lengthAdjust="spacingAndGlyphs" >UPF1</text>
<text x="175.5" y="168.2" font-size="10.2" fill="#2a2a2a" textLength="29.5" lengthAdjust="spacingAndGlyphs" >SMG5</text>
<text x="134.6" y="170.7" font-size="10.2" fill="#2a2a2a" textLength="28.6" lengthAdjust="spacingAndGlyphs" >SMG7</text>
<text x="127" y="189.3" font-size="10.2" fill="#2a2a2a" textLength="29.5" lengthAdjust="spacingAndGlyphs" >SMG9</text>
<path d="M38.5,45 H231.4 V195.4 H38.5 Z" fill="none" stroke="#5f5f5f" stroke-width="1"/>
<line x1="57.5" y1="195.4" x2="57.5" y2="198.7" stroke="#5f5f5f" stroke-width="1" />
<text x="57.5" y="211.7" font-size="9" text-anchor="middle" fill="#333" >−2</text>
<line x1="96.2" y1="195.4" x2="96.2" y2="198.7" stroke="#5f5f5f" stroke-width="1" />
<text x="96.2" y="211.7" font-size="9" text-anchor="middle" fill="#333" >−1</text>
<line x1="134.9" y1="195.4" x2="134.9" y2="198.7" stroke="#5f5f5f" stroke-width="1" />
<text x="134.9" y="211.7" font-size="9" text-anchor="middle" fill="#333" >0</text>
<line x1="173.6" y1="195.4" x2="173.6" y2="198.7" stroke="#5f5f5f" stroke-width="1" />
<text x="173.6" y="211.7" font-size="9" text-anchor="middle" fill="#333" >1</text>
<line x1="212.3" y1="195.4" x2="212.3" y2="198.7" stroke="#5f5f5f" stroke-width="1" />
<text x="212.3" y="211.7" font-size="9" text-anchor="middle" fill="#333" >2</text>
<line x1="35.2" y1="195.4" x2="38.5" y2="195.4" stroke="#5f5f5f" stroke-width="1" />
<text x="30.7" y="198.6" font-size="9" text-anchor="end" fill="#333" >0</text>
<line x1="35.2" y1="171.2" x2="38.5" y2="171.2" stroke="#5f5f5f" stroke-width="1" />
<text x="30.7" y="174.4" font-size="9" text-anchor="end" fill="#333" >2</text>
<line x1="35.2" y1="147" x2="38.5" y2="147" stroke="#5f5f5f" stroke-width="1" />
<text x="30.7" y="150.2" font-size="9" text-anchor="end" fill="#333" >4</text>
<line x1="35.2" y1="122.8" x2="38.5" y2="122.8" stroke="#5f5f5f" stroke-width="1" />
<text x="30.7" y="126" font-size="9" text-anchor="end" fill="#333" >6</text>
<line x1="35.2" y1="98.6" x2="38.5" y2="98.6" stroke="#5f5f5f" stroke-width="1" />
<text x="30.7" y="101.8" font-size="9" text-anchor="end" fill="#333" >8</text>
<line x1="35.2" y1="74.4" x2="38.5" y2="74.4" stroke="#5f5f5f" stroke-width="1" />
<text x="30.7" y="77.6" font-size="9" text-anchor="end" fill="#333" >10</text>
<line x1="35.2" y1="50.2" x2="38.5" y2="50.2" stroke="#5f5f5f" stroke-width="1" />
<text x="30.7" y="53.4" font-size="9" text-anchor="end" fill="#333" >12</text>
<text x="134.95" y="226.5" font-size="10.5" text-anchor="middle" fill="#2a2a2a" textLength="80.6" lengthAdjust="spacingAndGlyphs" >log(fold change)</text>
<text transform="translate(12.6,120.5) rotate(-90)" font-size="10.5" text-anchor="middle" fill="#2a2a2a" >−log <tspan font-style="italic">P</tspan></text>
<line x1="33.8" y1="304.4" x2="33.8" y2="307.7" stroke="#5f5f5f" stroke-width="1" />
<text x="33.8" y="318.8" font-size="9" text-anchor="middle" fill="#333" >0</text>
<line x1="86.4" y1="304.4" x2="86.4" y2="307.7" stroke="#5f5f5f" stroke-width="1" />
<text x="86.4" y="318.8" font-size="9" text-anchor="middle" fill="#333" >5,000</text>
<line x1="139" y1="304.4" x2="139" y2="307.7" stroke="#5f5f5f" stroke-width="1" />
<text x="139" y="318.8" font-size="9" text-anchor="middle" fill="#333" >10,000</text>
<line x1="191.6" y1="304.4" x2="191.6" y2="307.7" stroke="#5f5f5f" stroke-width="1" />
<text x="191.6" y="318.8" font-size="9" text-anchor="middle" fill="#333" >15,000</text>
<line x1="21" y1="252.4" x2="24.3" y2="252.4" stroke="#5f5f5f" stroke-width="1" />
<text x="16.5" y="255.6" font-size="9" text-anchor="end" fill="#333" >0</text>
<line x1="21" y1="264.4" x2="24.3" y2="264.4" stroke="#5f5f5f" stroke-width="1" />
<text x="16.5" y="267.6" font-size="9" text-anchor="end" fill="#333" >−0.2</text>
<line x1="21" y1="276.4" x2="24.3" y2="276.4" stroke="#5f5f5f" stroke-width="1" />
<text x="16.5" y="279.6" font-size="9" text-anchor="end" fill="#333" >−0.4</text>
<line x1="21" y1="288.4" x2="24.3" y2="288.4" stroke="#5f5f5f" stroke-width="1" />
<text x="16.5" y="291.6" font-size="9" text-anchor="end" fill="#333" >−0.6</text>
<line x1="21" y1="300.4" x2="24.3" y2="300.4" stroke="#5f5f5f" stroke-width="1" />
<text x="16.5" y="303.6" font-size="9" text-anchor="end" fill="#333" >−0.8</text>
<line x1="24.3" y1="252.4" x2="242.4" y2="252.4" stroke="#3a3a3a" stroke-width="0.8" />
<line x1="24.3" y1="252.4" x2="242.4" y2="252.4" stroke="#c66" stroke-width="0.5" stroke-dasharray="1.2,1.2"/>
<line x1="37.4" y1="249" x2="37.4" y2="255.8" stroke="#111" stroke-width="0.6" stroke-opacity="0.63"/>
<line x1="47.3" y1="249" x2="47.3" y2="255.8" stroke="#111" stroke-width="0.6" stroke-opacity="0.68"/>
<line x1="62.4" y1="249" x2="62.4" y2="255.8" stroke="#111" stroke-width="0.6" stroke-opacity="0.71"/>
<line x1="63.7" y1="249" x2="63.7" y2="255.8" stroke="#111" stroke-width="0.6" stroke-opacity="0.77"/>
<line x1="65.5" y1="249" x2="65.5" y2="255.8" stroke="#111" stroke-width="0.6" stroke-opacity="0.68"/>
<line x1="76.4" y1="249" x2="76.4" y2="255.8" stroke="#111" stroke-width="0.6" stroke-opacity="0.77"/>
<line x1="82.4" y1="249" x2="82.4" y2="255.8" stroke="#111" stroke-width="0.6" stroke-opacity="0.36"/>
<line x1="89.8" y1="249" x2="89.8" y2="255.8" stroke="#111" stroke-width="0.6" stroke-opacity="0.56"/>
<line x1="92.8" y1="249" x2="92.8" y2="255.8" stroke="#111" stroke-width="0.6" stroke-opacity="0.77"/>
<line x1="99.4" y1="249" x2="99.4" y2="255.8" stroke="#111" stroke-width="0.6" stroke-opacity="0.64"/>
<line x1="107.7" y1="249" x2="107.7" y2="255.8" stroke="#111" stroke-width="0.6" stroke-opacity="0.76"/>
<line x1="108.6" y1="249" x2="108.6" y2="255.8" stroke="#111" stroke-width="0.6" stroke-opacity="0.4"/>
<line x1="112.5" y1="249" x2="112.5" y2="255.8" stroke="#111" stroke-width="0.6" stroke-opacity="0.56"/>
<line x1="116.2" y1="249" x2="116.2" y2="255.8" stroke="#111" stroke-width="0.6" stroke-opacity="0.46"/>
<line x1="127.4" y1="249" x2="127.4" y2="255.8" stroke="#111" stroke-width="0.6" stroke-opacity="0.59"/>
<line x1="140.5" y1="249" x2="140.5" y2="255.8" stroke="#111" stroke-width="0.6" stroke-opacity="0.61"/>
<line x1="143.6" y1="249" x2="143.6" y2="255.8" stroke="#111" stroke-width="0.6" stroke-opacity="0.36"/>
<line x1="146.4" y1="249" x2="146.4" y2="255.8" stroke="#111" stroke-width="0.6" stroke-opacity="0.45"/>
<line x1="153.5" y1="249" x2="153.5" y2="255.8" stroke="#111" stroke-width="0.6" stroke-opacity="0.48"/>
<line x1="157.5" y1="249" x2="157.5" y2="255.8" stroke="#111" stroke-width="0.6" stroke-opacity="0.76"/>
<line x1="162.5" y1="249" x2="162.5" y2="255.8" stroke="#111" stroke-width="0.6" stroke-opacity="0.69"/>
<line x1="166.5" y1="249" x2="166.5" y2="255.8" stroke="#111" stroke-width="0.6" stroke-opacity="0.42"/>
<line x1="168.2" y1="249" x2="168.2" y2="255.8" stroke="#111" stroke-width="0.6" stroke-opacity="0.71"/>
<line x1="169.1" y1="249" x2="169.1" y2="255.8" stroke="#111" stroke-width="0.6" stroke-opacity="0.41"/>
<line x1="170.4" y1="249" x2="170.4" y2="255.8" stroke="#111" stroke-width="0.6" stroke-opacity="0.63"/>
<line x1="174.3" y1="249" x2="174.3" y2="255.8" stroke="#111" stroke-width="0.6" stroke-opacity="0.41"/>
<line x1="175.6" y1="249" x2="175.6" y2="255.8" stroke="#111" stroke-width="0.6" stroke-opacity="0.35"/>
<line x1="176.5" y1="249" x2="176.5" y2="255.8" stroke="#111" stroke-width="0.6" stroke-opacity="0.74"/>
<line x1="180.5" y1="249" x2="180.5" y2="255.8" stroke="#111" stroke-width="0.6" stroke-opacity="0.44"/>
<line x1="181.3" y1="249" x2="181.3" y2="255.8" stroke="#111" stroke-width="0.6" stroke-opacity="0.45"/>
<line x1="186.6" y1="249" x2="186.6" y2="255.8" stroke="#111" stroke-width="0.6" stroke-opacity="0.79"/>
<line x1="191.4" y1="249" x2="191.4" y2="255.8" stroke="#111" stroke-width="0.6" stroke-opacity="0.74"/>
<line x1="193" y1="249" x2="193" y2="255.8" stroke="#111" stroke-width="0.6" stroke-opacity="0.48"/>
<line x1="194" y1="249" x2="194" y2="255.8" stroke="#111" stroke-width="0.6" stroke-opacity="0.78"/>
<line x1="195.3" y1="249" x2="195.3" y2="255.8" stroke="#111" stroke-width="0.6" stroke-opacity="0.59"/>
<line x1="197.5" y1="249" x2="197.5" y2="255.8" stroke="#111" stroke-width="0.6" stroke-opacity="0.66"/>
<line x1="199.5" y1="249" x2="199.5" y2="255.8" stroke="#111" stroke-width="0.6" stroke-opacity="0.44"/>
<line x1="207" y1="249" x2="207" y2="255.8" stroke="#111" stroke-width="0.6" stroke-opacity="0.77"/>
<line x1="209.6" y1="249" x2="209.6" y2="255.8" stroke="#111" stroke-width="0.6" stroke-opacity="0.66"/>
<line x1="211.4" y1="249" x2="211.4" y2="255.8" stroke="#111" stroke-width="0.6" stroke-opacity="0.78"/>
<line x1="213.2" y1="249" x2="213.2" y2="255.8" stroke="#111" stroke-width="0.6" stroke-opacity="0.75"/>
<line x1="214.7" y1="249" x2="214.7" y2="255.8" stroke="#111" stroke-width="0.6" stroke-opacity="0.48"/>
<line x1="215.8" y1="249" x2="215.8" y2="255.8" stroke="#111" stroke-width="0.6" stroke-opacity="0.51"/>
<line x1="219.5" y1="249" x2="219.5" y2="255.8" stroke="#111" stroke-width="0.6" stroke-opacity="0.42"/>
<line x1="220.5" y1="249" x2="220.5" y2="255.8" stroke="#111" stroke-width="0.6" stroke-opacity="0.42"/>
<line x1="222" y1="249" x2="222" y2="255.8" stroke="#111" stroke-width="0.6" stroke-opacity="0.38"/>
<line x1="223.5" y1="249" x2="223.5" y2="255.8" stroke="#111" stroke-width="0.6" stroke-opacity="0.49"/>
<line x1="224.6" y1="249" x2="224.6" y2="255.8" stroke="#111" stroke-width="0.6" stroke-opacity="0.62"/>
<line x1="226.8" y1="249" x2="226.8" y2="255.8" stroke="#111" stroke-width="0.6" stroke-opacity="0.95"/>
<line x1="227.2" y1="249" x2="227.2" y2="255.8" stroke="#111" stroke-width="0.6" stroke-opacity="0.95"/>
<line x1="227.6" y1="249" x2="227.6" y2="255.8" stroke="#111" stroke-width="0.6" stroke-opacity="0.95"/>
<line x1="228" y1="249" x2="228" y2="255.8" stroke="#111" stroke-width="0.6" stroke-opacity="0.95"/>
<line x1="228.4" y1="249" x2="228.4" y2="255.8" stroke="#111" stroke-width="0.6" stroke-opacity="0.95"/>
<line x1="228.8" y1="249" x2="228.8" y2="255.8" stroke="#111" stroke-width="0.6" stroke-opacity="0.95"/>
<line x1="229.2" y1="249" x2="229.2" y2="255.8" stroke="#111" stroke-width="0.6" stroke-opacity="0.95"/>
<line x1="229.6" y1="249" x2="229.6" y2="255.8" stroke="#111" stroke-width="0.6" stroke-opacity="0.95"/>
<line x1="230" y1="249" x2="230" y2="255.8" stroke="#111" stroke-width="0.6" stroke-opacity="0.95"/>
<line x1="230.4" y1="249" x2="230.4" y2="255.8" stroke="#111" stroke-width="0.6" stroke-opacity="0.95"/>
<line x1="230.8" y1="249" x2="230.8" y2="255.8" stroke="#111" stroke-width="0.6" stroke-opacity="0.95"/>
<line x1="231.2" y1="249" x2="231.2" y2="255.8" stroke="#111" stroke-width="0.6" stroke-opacity="0.95"/>
<line x1="231.6" y1="249" x2="231.6" y2="255.8" stroke="#111" stroke-width="0.6" stroke-opacity="0.95"/>
<line x1="232" y1="249" x2="232" y2="255.8" stroke="#111" stroke-width="0.6" stroke-opacity="0.95"/>
<line x1="232.4" y1="249" x2="232.4" y2="255.8" stroke="#111" stroke-width="0.6" stroke-opacity="0.95"/>
<path d="M33.8,252.4 L62.1,260 L94.2,270.1 L126.4,279.7 L146.1,285.3 L162.1,290.1 L178.2,294.1 L194.2,297.6 L205.5,300.5 L210.3,300.8 L214,301.6 L218.3,301.8 L222,301.4 L225,300.6 L226.4,299.7 L227.8,297.5 L228.8,294.1 L230.4,286.1 L231.5,274.8 L232,262 L232.3,252.6" fill="none" stroke="#5cb84a" stroke-width="1.1" stroke-linejoin="round"/>
<line x1="24.3" y1="247.5" x2="24.3" y2="304.4" stroke="#5f5f5f" stroke-width="1" />
<line x1="24.3" y1="304.4" x2="242.4" y2="304.4" stroke="#5f5f5f" stroke-width="1" />
<text x="63" y="283.5" font-size="10.8" text-anchor="middle" fill="#2a2a2a" textLength="55.9" lengthAdjust="spacingAndGlyphs" >Enrichment</text>
<text x="63" y="295.6" font-size="10.8" text-anchor="middle" fill="#2a2a2a" >score</text>
<text x="187.4" y="277.8" font-size="12.8" fill="#2a2a2a" textLength="30.5" lengthAdjust="spacingAndGlyphs" >NMD</text>
<line x1="344.3" y1="52.3" x2="344.3" y2="195.4" stroke="#d0d0d0" stroke-width="0.8" stroke-dasharray="3,2.5"/>
<line x1="412.3" y1="52.3" x2="412.3" y2="195.4" stroke="#d0d0d0" stroke-width="0.8" stroke-dasharray="3,2.5"/>
<g fill="#8c8c8c" fill-opacity="0.22">
<circle cx="387.39" cy="182.36" r="1.25"/>
<circle cx="366.38" cy="186.39" r="1.25"/>
<circle cx="389.99" cy="185.11" r="1.25"/>
<circle cx="366.27" cy="167.92" r="1.25"/>
<circle cx="389.28" cy="187.67" r="1.25"/>
<circle cx="373.45" cy="191.56" r="1.25"/>
<circle cx="369.18" cy="192.02" r="1.25"/>
<circle cx="376.37" cy="192.94" r="1.25"/>
<circle cx="369.54" cy="191.5" r="1.25"/>
<circle cx="363.87" cy="183.6" r="1.25"/>
<circle cx="405.93" cy="178.3" r="1.25"/>
<circle cx="370.36" cy="188.33" r="1.25"/>
<circle cx="369.02" cy="185.43" r="1.25"/>
<circle cx="367.79" cy="186.71" r="1.25"/>
<circle cx="364.78" cy="180.26" r="1.25"/>
<circle cx="341.34" cy="141.83" r="1.25"/>
<circle cx="382.49" cy="192.08" r="1.25"/>
<circle cx="362.15" cy="184.95" r="1.25"/>
<circle cx="379.94" cy="192.35" r="1.25"/>
<circle cx="388.08" cy="189.43" r="1.25"/>
<circle cx="373.94" cy="189.79" r="1.25"/>
<circle cx="367.54" cy="185.84" r="1.25"/>
<circle cx="356.68" cy="158.85" r="1.25"/>
<circle cx="373.77" cy="188.08" r="1.25"/>
<circle cx="365.14" cy="183.05" r="1.25"/>
<circle cx="405.44" cy="161.53" r="1.25"/>
<circle cx="387.16" cy="191.8" r="1.25"/>
<circle cx="372.57" cy="186.23" r="1.25"/>
<circle cx="388.02" cy="187.76" r="1.25"/>
<circle cx="381.74" cy="194.01" r="1.25"/>
<circle cx="375.76" cy="184.74" r="1.25"/>
<circle cx="375.8" cy="193.87" r="1.25"/>
<circle cx="389.65" cy="189.76" r="1.25"/>
<circle cx="354.64" cy="185.12" r="1.25"/>
<circle cx="362.7" cy="185.27" r="1.25"/>
<circle cx="362.25" cy="193.22" r="1.25"/>
<circle cx="359.19" cy="184.7" r="1.25"/>
<circle cx="364.87" cy="193.69" r="1.25"/>
<circle cx="396.41" cy="192.84" r="1.25"/>
<circle cx="381.51" cy="191.99" r="1.25"/>
<circle cx="368.83" cy="189.5" r="1.25"/>
<circle cx="373.22" cy="190.27" r="1.25"/>
<circle cx="384.71" cy="194.74" r="1.25"/>
<circle cx="391.86" cy="176.8" r="1.25"/>
<circle cx="382.7" cy="192.64" r="1.25"/>
<circle cx="376.71" cy="194.31" r="1.25"/>
<circle cx="398.62" cy="175.02" r="1.25"/>
<circle cx="373.65" cy="193.8" r="1.25"/>
<circle cx="374.63" cy="191.07" r="1.25"/>
<circle cx="365.07" cy="172.97" r="1.25"/>
<circle cx="358.23" cy="192.73" r="1.25"/>
<circle cx="375.06" cy="194.37" r="1.25"/>
<circle cx="370.81" cy="193.25" r="1.25"/>
<circle cx="400.41" cy="188.56" r="1.25"/>
<circle cx="386.48" cy="186.84" r="1.25"/>
<circle cx="375.97" cy="187.9" r="1.25"/>
<circle cx="387.91" cy="191.75" r="1.25"/>
<circle cx="374.2" cy="192.09" r="1.25"/>
<circle cx="360.13" cy="176.07" r="1.25"/>
<circle cx="367.94" cy="183.91" r="1.25"/>
<circle cx="366.42" cy="186.31" r="1.25"/>
<circle cx="380.6" cy="194.51" r="1.25"/>
<circle cx="377.46" cy="191.67" r="1.25"/>
<circle cx="351.45" cy="184.52" r="1.25"/>
<circle cx="359.78" cy="180.04" r="1.25"/>
<circle cx="377.4" cy="194.8" r="1.25"/>
<circle cx="355.08" cy="173.47" r="1.25"/>
<circle cx="408.08" cy="182.64" r="1.25"/>
<circle cx="358.67" cy="177.42" r="1.25"/>
<circle cx="388.61" cy="187" r="1.25"/>
<circle cx="370.05" cy="186.26" r="1.25"/>
<circle cx="386.9" cy="190.21" r="1.25"/>
<circle cx="382.07" cy="185.6" r="1.25"/>
<circle cx="398.7" cy="191.4" r="1.25"/>
<circle cx="365.81" cy="177.74" r="1.25"/>
<circle cx="373.86" cy="182.45" r="1.25"/>
<circle cx="375.53" cy="186.41" r="1.25"/>
<circle cx="372.26" cy="192.16" r="1.25"/>
<circle cx="373.87" cy="193.38" r="1.25"/>
<circle cx="389.99" cy="188.96" r="1.25"/>
<circle cx="368.48" cy="189.01" r="1.25"/>
<circle cx="383.81" cy="190.02" r="1.25"/>
<circle cx="375.34" cy="192.83" r="1.25"/>
<circle cx="375.47" cy="193.41" r="1.25"/>
<circle cx="395.21" cy="191.64" r="1.25"/>
<circle cx="381.03" cy="194.64" r="1.25"/>
<circle cx="384.87" cy="185.5" r="1.25"/>
<circle cx="395.23" cy="187.92" r="1.25"/>
<circle cx="385.03" cy="189.24" r="1.25"/>
<circle cx="366.6" cy="186.18" r="1.25"/>
<circle cx="372.99" cy="191.03" r="1.25"/>
<circle cx="395.01" cy="181.22" r="1.25"/>
<circle cx="395.38" cy="192.28" r="1.25"/>
<circle cx="362.31" cy="177.58" r="1.25"/>
<circle cx="358.37" cy="187.92" r="1.25"/>
<circle cx="380.89" cy="193.71" r="1.25"/>
<circle cx="389.49" cy="193.41" r="1.25"/>
<circle cx="354.76" cy="166.18" r="1.25"/>
<circle cx="383.31" cy="190.31" r="1.25"/>
<circle cx="386.78" cy="183.74" r="1.25"/>
<circle cx="369.38" cy="182.23" r="1.25"/>
<circle cx="368.79" cy="189.21" r="1.25"/>
<circle cx="354.8" cy="162.4" r="1.25"/>
<circle cx="388.9" cy="182.74" r="1.25"/>
<circle cx="369.89" cy="191.36" r="1.25"/>
<circle cx="390.89" cy="186.23" r="1.25"/>
<circle cx="399.97" cy="175.78" r="1.25"/>
<circle cx="400.5" cy="185.52" r="1.25"/>
<circle cx="408.02" cy="182.98" r="1.25"/>
<circle cx="407.6" cy="193.98" r="1.25"/>
<circle cx="364.27" cy="187.81" r="1.25"/>
<circle cx="363.48" cy="186.29" r="1.25"/>
<circle cx="393.69" cy="172.41" r="1.25"/>
<circle cx="383.42" cy="193.04" r="1.25"/>
<circle cx="369.68" cy="189.4" r="1.25"/>
<circle cx="386.3" cy="191.69" r="1.25"/>
<circle cx="368.84" cy="185.09" r="1.25"/>
<circle cx="391.02" cy="184.35" r="1.25"/>
<circle cx="397.1" cy="178.91" r="1.25"/>
<circle cx="401.86" cy="166.83" r="1.25"/>
<circle cx="389.82" cy="189.73" r="1.25"/>
<circle cx="377.2" cy="191.19" r="1.25"/>
<circle cx="375.98" cy="189.81" r="1.25"/>
<circle cx="365.07" cy="182.89" r="1.25"/>
<circle cx="372.55" cy="192.17" r="1.25"/>
<circle cx="377.24" cy="194.67" r="1.25"/>
<circle cx="375.29" cy="192.43" r="1.25"/>
<circle cx="359.94" cy="191.37" r="1.25"/>
<circle cx="367.09" cy="185.89" r="1.25"/>
<circle cx="350.27" cy="162.6" r="1.25"/>
<circle cx="380.91" cy="194.31" r="1.25"/>
<circle cx="362.49" cy="179.46" r="1.25"/>
<circle cx="358.38" cy="181.33" r="1.25"/>
<circle cx="363.53" cy="181.76" r="1.25"/>
<circle cx="401.18" cy="178.36" r="1.25"/>
<circle cx="385.02" cy="194.74" r="1.25"/>
<circle cx="402.54" cy="178.63" r="1.25"/>
<circle cx="370.28" cy="193.16" r="1.25"/>
<circle cx="371.33" cy="192.03" r="1.25"/>
<circle cx="380.74" cy="194.9" r="1.25"/>
<circle cx="392.41" cy="187.99" r="1.25"/>
<circle cx="394.05" cy="181.76" r="1.25"/>
<circle cx="383.64" cy="192.42" r="1.25"/>
<circle cx="362.33" cy="174.71" r="1.25"/>
<circle cx="362.06" cy="181.56" r="1.25"/>
<circle cx="357.31" cy="192.34" r="1.25"/>
<circle cx="360.94" cy="184.85" r="1.25"/>
<circle cx="395.95" cy="188.04" r="1.25"/>
<circle cx="380.85" cy="193.2" r="1.25"/>
<circle cx="373.49" cy="193.44" r="1.25"/>
<circle cx="373.23" cy="187.32" r="1.25"/>
<circle cx="398.29" cy="181.48" r="1.25"/>
<circle cx="385.03" cy="189.14" r="1.25"/>
<circle cx="383.81" cy="189.46" r="1.25"/>
<circle cx="368" cy="188.09" r="1.25"/>
<circle cx="374.74" cy="191.95" r="1.25"/>
<circle cx="366.66" cy="186.6" r="1.25"/>
<circle cx="374.81" cy="193.43" r="1.25"/>
<circle cx="364.04" cy="182.57" r="1.25"/>
<circle cx="405" cy="173.64" r="1.25"/>
<circle cx="372.58" cy="185.01" r="1.25"/>
<circle cx="360.8" cy="173.72" r="1.25"/>
<circle cx="405.95" cy="160.63" r="1.25"/>
<circle cx="370.82" cy="191.57" r="1.25"/>
<circle cx="382.97" cy="188.82" r="1.25"/>
<circle cx="368.36" cy="194.47" r="1.25"/>
<circle cx="364.48" cy="178.74" r="1.25"/>
<circle cx="383.07" cy="192.48" r="1.25"/>
<circle cx="383.51" cy="188.65" r="1.25"/>
<circle cx="368.14" cy="190.2" r="1.25"/>
<circle cx="356.15" cy="165.53" r="1.25"/>
<circle cx="368.97" cy="192.57" r="1.25"/>
<circle cx="363.52" cy="183.49" r="1.25"/>
<circle cx="364.1" cy="182.1" r="1.25"/>
<circle cx="388.52" cy="177.9" r="1.25"/>
<circle cx="377.38" cy="193.82" r="1.25"/>
<circle cx="385.03" cy="192.68" r="1.25"/>
<circle cx="378.79" cy="190.77" r="1.25"/>
<circle cx="372.65" cy="191.71" r="1.25"/>
<circle cx="395.1" cy="187.65" r="1.25"/>
<circle cx="402.76" cy="191.71" r="1.25"/>
<circle cx="365.7" cy="191.47" r="1.25"/>
<circle cx="404.88" cy="177.51" r="1.25"/>
<circle cx="388.98" cy="186.95" r="1.25"/>
<circle cx="384.81" cy="190.56" r="1.25"/>
<circle cx="368.25" cy="188.68" r="1.25"/>
<circle cx="381.65" cy="193.26" r="1.25"/>
<circle cx="357.35" cy="177.97" r="1.25"/>
<circle cx="371.12" cy="190.94" r="1.25"/>
<circle cx="359.9" cy="180.93" r="1.25"/>
<circle cx="366.02" cy="186.06" r="1.25"/>
<circle cx="381.34" cy="189.87" r="1.25"/>
<circle cx="384.89" cy="194.89" r="1.25"/>
<circle cx="371.73" cy="190.78" r="1.25"/>
<circle cx="371.86" cy="192.76" r="1.25"/>
<circle cx="391.14" cy="185.47" r="1.25"/>
<circle cx="369.24" cy="189.5" r="1.25"/>
<circle cx="350.39" cy="187.8" r="1.25"/>
<circle cx="367.53" cy="186.89" r="1.25"/>
<circle cx="367.51" cy="191.58" r="1.25"/>
<circle cx="403.97" cy="183.83" r="1.25"/>
<circle cx="356.79" cy="175.38" r="1.25"/>
<circle cx="375.07" cy="190.85" r="1.25"/>
<circle cx="387.66" cy="180.02" r="1.25"/>
<circle cx="368.2" cy="187.42" r="1.25"/>
<circle cx="369.99" cy="194.3" r="1.25"/>
<circle cx="370.25" cy="192.84" r="1.25"/>
<circle cx="376.09" cy="191.09" r="1.25"/>
<circle cx="383.5" cy="192.31" r="1.25"/>
<circle cx="349.15" cy="171.29" r="1.25"/>
<circle cx="387.23" cy="178.06" r="1.25"/>
<circle cx="342.63" cy="143.05" r="1.25"/>
<circle cx="369.2" cy="189.69" r="1.25"/>
<circle cx="352.84" cy="186.93" r="1.25"/>
<circle cx="349.39" cy="170.89" r="1.25"/>
<circle cx="395.75" cy="176.8" r="1.25"/>
<circle cx="383.52" cy="192.45" r="1.25"/>
<circle cx="395" cy="194.34" r="1.25"/>
<circle cx="393.99" cy="177.94" r="1.25"/>
<circle cx="392.02" cy="172.72" r="1.25"/>
<circle cx="389.71" cy="191.13" r="1.25"/>
<circle cx="364.13" cy="184.53" r="1.25"/>
<circle cx="363.9" cy="192.37" r="1.25"/>
<circle cx="385.43" cy="189.45" r="1.25"/>
<circle cx="366.1" cy="181.65" r="1.25"/>
<circle cx="371.82" cy="190.6" r="1.25"/>
<circle cx="386.51" cy="190.89" r="1.25"/>
<circle cx="374.61" cy="190.65" r="1.25"/>
<circle cx="389.29" cy="183.04" r="1.25"/>
<circle cx="358.38" cy="175.7" r="1.25"/>
<circle cx="354.72" cy="182.01" r="1.25"/>
<circle cx="360.54" cy="178.84" r="1.25"/>
<circle cx="356.05" cy="189.2" r="1.25"/>
<circle cx="357.72" cy="191.64" r="1.25"/>
<circle cx="381.53" cy="194.62" r="1.25"/>
<circle cx="372.69" cy="193.05" r="1.25"/>
<circle cx="365.73" cy="184.59" r="1.25"/>
<circle cx="389.87" cy="191.32" r="1.25"/>
<circle cx="385.15" cy="194.07" r="1.25"/>
<circle cx="384.17" cy="192.23" r="1.25"/>
<circle cx="360.14" cy="168.47" r="1.25"/>
<circle cx="371.62" cy="192.98" r="1.25"/>
<circle cx="382.59" cy="193.24" r="1.25"/>
<circle cx="366.37" cy="185.13" r="1.25"/>
<circle cx="382.87" cy="183.36" r="1.25"/>
<circle cx="374.68" cy="189.53" r="1.25"/>
<circle cx="363.28" cy="180.02" r="1.25"/>
<circle cx="373.16" cy="193.03" r="1.25"/>
<circle cx="385.53" cy="183.86" r="1.25"/>
<circle cx="383.83" cy="194.2" r="1.25"/>
<circle cx="381.32" cy="194.76" r="1.25"/>
<circle cx="388.11" cy="193.72" r="1.25"/>
<circle cx="357.39" cy="181.78" r="1.25"/>
<circle cx="407.12" cy="183.73" r="1.25"/>
<circle cx="394.36" cy="187.43" r="1.25"/>
<circle cx="383.29" cy="193.44" r="1.25"/>
<circle cx="388.78" cy="185.53" r="1.25"/>
<circle cx="384.17" cy="193.3" r="1.25"/>
<circle cx="364.03" cy="177.51" r="1.25"/>
<circle cx="373.23" cy="189.45" r="1.25"/>
<circle cx="392.72" cy="180.25" r="1.25"/>
<circle cx="384.71" cy="194.48" r="1.25"/>
<circle cx="390.37" cy="184.18" r="1.25"/>
<circle cx="360.66" cy="179.91" r="1.25"/>
<circle cx="361.93" cy="180.6" r="1.25"/>
<circle cx="365.54" cy="184.17" r="1.25"/>
<circle cx="363.74" cy="181.88" r="1.25"/>
<circle cx="359.5" cy="181.94" r="1.25"/>
<circle cx="388.69" cy="188.66" r="1.25"/>
<circle cx="358.83" cy="172.72" r="1.25"/>
<circle cx="365.06" cy="189.82" r="1.25"/>
<circle cx="405.43" cy="179.09" r="1.25"/>
<circle cx="359.95" cy="189.99" r="1.25"/>
<circle cx="395.42" cy="179.3" r="1.25"/>
<circle cx="349.51" cy="182.19" r="1.25"/>
<circle cx="387.22" cy="185.63" r="1.25"/>
<circle cx="381.04" cy="193.29" r="1.25"/>
<circle cx="362.66" cy="184.33" r="1.25"/>
<circle cx="381.42" cy="192.35" r="1.25"/>
<circle cx="360.58" cy="185.74" r="1.25"/>
<circle cx="365.05" cy="191.51" r="1.25"/>
<circle cx="392" cy="180.69" r="1.25"/>
<circle cx="408.41" cy="172.67" r="1.25"/>
<circle cx="366.52" cy="181.51" r="1.25"/>
<circle cx="355.66" cy="173.1" r="1.25"/>
<circle cx="369.02" cy="190.47" r="1.25"/>
<circle cx="374.43" cy="194" r="1.25"/>
<circle cx="396.76" cy="181.91" r="1.25"/>
<circle cx="366.36" cy="186.23" r="1.25"/>
<circle cx="398.67" cy="175.9" r="1.25"/>
<circle cx="374.81" cy="193.97" r="1.25"/>
<circle cx="378.16" cy="194.58" r="1.25"/>
<circle cx="384.47" cy="193.62" r="1.25"/>
<circle cx="367.68" cy="191.67" r="1.25"/>
<circle cx="352.87" cy="170.72" r="1.25"/>
<circle cx="365.65" cy="190.2" r="1.25"/>
<circle cx="355.52" cy="176.7" r="1.25"/>
<circle cx="367.65" cy="192.2" r="1.25"/>
<circle cx="379.23" cy="192.95" r="1.25"/>
<circle cx="373.52" cy="193.79" r="1.25"/>
<circle cx="375.99" cy="192.33" r="1.25"/>
<circle cx="370.69" cy="190.8" r="1.25"/>
<circle cx="367.76" cy="177.17" r="1.25"/>
<circle cx="366.24" cy="182.53" r="1.25"/>
<circle cx="393.62" cy="185.95" r="1.25"/>
<circle cx="382.66" cy="194.62" r="1.25"/>
<circle cx="383.77" cy="193.85" r="1.25"/>
<circle cx="384.29" cy="192.74" r="1.25"/>
<circle cx="363.95" cy="187.34" r="1.25"/>
<circle cx="368.71" cy="189.61" r="1.25"/>
<circle cx="395.71" cy="181.04" r="1.25"/>
<circle cx="359.58" cy="185.99" r="1.25"/>
<circle cx="381.3" cy="194.16" r="1.25"/>
<circle cx="369.86" cy="191.17" r="1.25"/>
<circle cx="392.05" cy="184.63" r="1.25"/>
<circle cx="380.57" cy="194.32" r="1.25"/>
<circle cx="409.62" cy="164.29" r="1.25"/>
<circle cx="371.55" cy="189.66" r="1.25"/>
<circle cx="363.27" cy="182.89" r="1.25"/>
<circle cx="361.42" cy="190.16" r="1.25"/>
<circle cx="378.84" cy="189.63" r="1.25"/>
<circle cx="372.17" cy="192.47" r="1.25"/>
<circle cx="365.54" cy="186.69" r="1.25"/>
<circle cx="395.66" cy="183.38" r="1.25"/>
<circle cx="359.08" cy="170.72" r="1.25"/>
<circle cx="362.84" cy="187.61" r="1.25"/>
<circle cx="389.11" cy="191.9" r="1.25"/>
<circle cx="364.98" cy="191.24" r="1.25"/>
<circle cx="396.97" cy="179.33" r="1.25"/>
<circle cx="373.96" cy="194.56" r="1.25"/>
<circle cx="397.47" cy="186.87" r="1.25"/>
<circle cx="388.23" cy="185.64" r="1.25"/>
<circle cx="376.87" cy="194.72" r="1.25"/>
<circle cx="370.45" cy="189.59" r="1.25"/>
<circle cx="383.97" cy="191.52" r="1.25"/>
<circle cx="370.74" cy="191.29" r="1.25"/>
<circle cx="368.21" cy="192.18" r="1.25"/>
<circle cx="365.88" cy="194.34" r="1.25"/>
<circle cx="345.52" cy="191.12" r="1.25"/>
<circle cx="382.2" cy="189.32" r="1.25"/>
<circle cx="373.97" cy="194.11" r="1.25"/>
<circle cx="364.62" cy="181.44" r="1.25"/>
<circle cx="339.79" cy="149.28" r="1.25"/>
<circle cx="392.62" cy="188.41" r="1.25"/>
<circle cx="394.45" cy="190.47" r="1.25"/>
<circle cx="385.94" cy="192.01" r="1.25"/>
<circle cx="400.12" cy="171.02" r="1.25"/>
<circle cx="352.27" cy="174.66" r="1.25"/>
<circle cx="379.25" cy="193.65" r="1.25"/>
<circle cx="388.06" cy="190.13" r="1.25"/>
<circle cx="386.85" cy="186.16" r="1.25"/>
<circle cx="375.38" cy="193.73" r="1.25"/>
<circle cx="368.79" cy="183.05" r="1.25"/>
<circle cx="386.84" cy="181.31" r="1.25"/>
<circle cx="407.04" cy="178.21" r="1.25"/>
<circle cx="380.94" cy="194.37" r="1.25"/>
<circle cx="403.89" cy="181.33" r="1.25"/>
<circle cx="390.73" cy="188.03" r="1.25"/>
<circle cx="390.93" cy="187.19" r="1.25"/>
<circle cx="390.55" cy="190.91" r="1.25"/>
<circle cx="358.33" cy="172.32" r="1.25"/>
<circle cx="367.32" cy="186.21" r="1.25"/>
<circle cx="356.08" cy="178.84" r="1.25"/>
<circle cx="371.2" cy="193.62" r="1.25"/>
<circle cx="391.11" cy="186.72" r="1.25"/>
<circle cx="345.34" cy="170.55" r="1.25"/>
<circle cx="385.24" cy="187.86" r="1.25"/>
<circle cx="382.8" cy="192.19" r="1.25"/>
<circle cx="371.23" cy="185.19" r="1.25"/>
<circle cx="375.86" cy="194.59" r="1.25"/>
<circle cx="351.38" cy="181.45" r="1.25"/>
<circle cx="381.71" cy="186.78" r="1.25"/>
<circle cx="363.85" cy="180.16" r="1.25"/>
<circle cx="408.97" cy="171.39" r="1.25"/>
<circle cx="364.41" cy="172.93" r="1.25"/>
<circle cx="374.06" cy="193.55" r="1.25"/>
<circle cx="382.66" cy="192.53" r="1.25"/>
<circle cx="383.49" cy="187.75" r="1.25"/>
<circle cx="373.13" cy="192.59" r="1.25"/>
<circle cx="386.66" cy="192.57" r="1.25"/>
<circle cx="350.19" cy="174.64" r="1.25"/>
<circle cx="383.43" cy="194.89" r="1.25"/>
<circle cx="369.75" cy="185.09" r="1.25"/>
<circle cx="394.73" cy="192.51" r="1.25"/>
<circle cx="371.44" cy="192.51" r="1.25"/>
<circle cx="369.47" cy="185.69" r="1.25"/>
<circle cx="370.73" cy="185" r="1.25"/>
<circle cx="374.83" cy="194.29" r="1.25"/>
<circle cx="391.83" cy="193.37" r="1.25"/>
<circle cx="377.22" cy="187.92" r="1.25"/>
<circle cx="364.89" cy="190.09" r="1.25"/>
<circle cx="400" cy="183.09" r="1.25"/>
<circle cx="380.39" cy="190.57" r="1.25"/>
<circle cx="386.62" cy="189.26" r="1.25"/>
<circle cx="378.64" cy="194.49" r="1.25"/>
<circle cx="377.63" cy="194.01" r="1.25"/>
<circle cx="375.85" cy="194.31" r="1.25"/>
<circle cx="365.88" cy="186.01" r="1.25"/>
<circle cx="389.59" cy="181.73" r="1.25"/>
<circle cx="362.14" cy="187.75" r="1.25"/>
<circle cx="372.33" cy="189.86" r="1.25"/>
<circle cx="389.6" cy="179.91" r="1.25"/>
<circle cx="387.82" cy="188.04" r="1.25"/>
<circle cx="362.04" cy="191.16" r="1.25"/>
<circle cx="361.33" cy="192.66" r="1.25"/>
<circle cx="365.27" cy="170.37" r="1.25"/>
<circle cx="369.67" cy="183" r="1.25"/>
<circle cx="369.8" cy="189" r="1.25"/>
<circle cx="364.35" cy="183.08" r="1.25"/>
<circle cx="366.1" cy="194.77" r="1.25"/>
<circle cx="374.53" cy="194.29" r="1.25"/>
<circle cx="391.99" cy="188.64" r="1.25"/>
<circle cx="382.22" cy="192.38" r="1.25"/>
<circle cx="403.76" cy="161.56" r="1.25"/>
<circle cx="362.46" cy="184.72" r="1.25"/>
<circle cx="392.74" cy="181.25" r="1.25"/>
<circle cx="359.57" cy="179.85" r="1.25"/>
<circle cx="387.35" cy="186.15" r="1.25"/>
<circle cx="368.45" cy="178.64" r="1.25"/>
<circle cx="404.28" cy="189.66" r="1.25"/>
<circle cx="360.33" cy="186.65" r="1.25"/>
<circle cx="399.01" cy="172.78" r="1.25"/>
<circle cx="383.46" cy="193.35" r="1.25"/>
<circle cx="370.58" cy="184.74" r="1.25"/>
<circle cx="352.57" cy="183.87" r="1.25"/>
<circle cx="382.48" cy="194.49" r="1.25"/>
<circle cx="403.47" cy="178.58" r="1.25"/>
<circle cx="368.98" cy="183.41" r="1.25"/>
<circle cx="391.87" cy="194.13" r="1.25"/>
<circle cx="398.31" cy="175.01" r="1.25"/>
<circle cx="395.71" cy="192.52" r="1.25"/>
<circle cx="389.73" cy="194.43" r="1.25"/>
<circle cx="357.11" cy="167.99" r="1.25"/>
<circle cx="381.31" cy="191.97" r="1.25"/>
<circle cx="350.09" cy="167.1" r="1.25"/>
<circle cx="356.71" cy="168.07" r="1.25"/>
<circle cx="382.34" cy="192.73" r="1.25"/>
<circle cx="392.9" cy="194.56" r="1.25"/>
<circle cx="392.02" cy="182.25" r="1.25"/>
<circle cx="387.8" cy="188.68" r="1.25"/>
<circle cx="387.04" cy="194.02" r="1.25"/>
<circle cx="365.79" cy="184.64" r="1.25"/>
<circle cx="360.39" cy="175.33" r="1.25"/>
<circle cx="365.85" cy="191.38" r="1.25"/>
<circle cx="395.41" cy="184.14" r="1.25"/>
<circle cx="413.17" cy="188.12" r="1.25"/>
<circle cx="371.77" cy="190.96" r="1.25"/>
<circle cx="364.57" cy="177.02" r="1.25"/>
<circle cx="343.48" cy="191.3" r="1.25"/>
<circle cx="399.94" cy="191.72" r="1.25"/>
<circle cx="402.84" cy="176.53" r="1.25"/>
<circle cx="369.99" cy="184.71" r="1.25"/>
<circle cx="392.1" cy="182.73" r="1.25"/>
<circle cx="369.39" cy="188.82" r="1.25"/>
<circle cx="362.54" cy="175.49" r="1.25"/>
<circle cx="400.12" cy="167.46" r="1.25"/>
<circle cx="348.46" cy="169.23" r="1.25"/>
<circle cx="375.87" cy="194.82" r="1.25"/>
<circle cx="379.81" cy="194.51" r="1.25"/>
<circle cx="385.26" cy="189.91" r="1.25"/>
<circle cx="364.7" cy="190.97" r="1.25"/>
<circle cx="370.66" cy="186.84" r="1.25"/>
<circle cx="383.43" cy="193.8" r="1.25"/>
<circle cx="364.99" cy="181.05" r="1.25"/>
<circle cx="345.31" cy="181.63" r="1.25"/>
<circle cx="369.08" cy="186.17" r="1.25"/>
<circle cx="390.65" cy="183.35" r="1.25"/>
<circle cx="397.48" cy="191.72" r="1.25"/>
<circle cx="374.91" cy="192.66" r="1.25"/>
<circle cx="370.91" cy="189.24" r="1.25"/>
<circle cx="373.89" cy="190.86" r="1.25"/>
<circle cx="367.97" cy="189.86" r="1.25"/>
<circle cx="382.98" cy="193.8" r="1.25"/>
<circle cx="395.5" cy="188.99" r="1.25"/>
<circle cx="386.59" cy="193.41" r="1.25"/>
<circle cx="383.93" cy="189.02" r="1.25"/>
<circle cx="398.35" cy="172.94" r="1.25"/>
<circle cx="364.04" cy="180.24" r="1.25"/>
<circle cx="358.32" cy="185.35" r="1.25"/>
<circle cx="369.31" cy="182.85" r="1.25"/>
<circle cx="369.84" cy="191.02" r="1.25"/>
<circle cx="357.11" cy="169.38" r="1.25"/>
<circle cx="358.82" cy="188.99" r="1.25"/>
<circle cx="383.05" cy="186.32" r="1.25"/>
<circle cx="396.12" cy="192.02" r="1.25"/>
<circle cx="366.46" cy="193.54" r="1.25"/>
<circle cx="393.07" cy="185.72" r="1.25"/>
<circle cx="361.77" cy="183.66" r="1.25"/>
<circle cx="353.61" cy="176.82" r="1.25"/>
<circle cx="371.29" cy="188.68" r="1.25"/>
<circle cx="407.26" cy="174.32" r="1.25"/>
<circle cx="386.17" cy="192.38" r="1.25"/>
<circle cx="373.27" cy="191.08" r="1.25"/>
<circle cx="372.42" cy="189.21" r="1.25"/>
<circle cx="367.85" cy="186.05" r="1.25"/>
<circle cx="389.82" cy="191.03" r="1.25"/>
<circle cx="384.35" cy="191.87" r="1.25"/>
<circle cx="384.58" cy="189.7" r="1.25"/>
<circle cx="366.22" cy="178.57" r="1.25"/>
<circle cx="374.2" cy="191.62" r="1.25"/>
<circle cx="384.66" cy="194.47" r="1.25"/>
<circle cx="367.61" cy="193.37" r="1.25"/>
<circle cx="357.32" cy="185.47" r="1.25"/>
<circle cx="373.93" cy="193" r="1.25"/>
<circle cx="367.89" cy="191.87" r="1.25"/>
<circle cx="357.46" cy="179.94" r="1.25"/>
<circle cx="397.06" cy="180.97" r="1.25"/>
<circle cx="370.22" cy="183.4" r="1.25"/>
<circle cx="387.51" cy="183.73" r="1.25"/>
<circle cx="349.68" cy="166.93" r="1.25"/>
<circle cx="385.86" cy="189.54" r="1.25"/>
<circle cx="396.8" cy="176.94" r="1.25"/>
<circle cx="380.19" cy="194.24" r="1.25"/>
<circle cx="396.2" cy="182.02" r="1.25"/>
<circle cx="366.35" cy="192.56" r="1.25"/>
<circle cx="392.92" cy="186.05" r="1.25"/>
<circle cx="366.41" cy="184.69" r="1.25"/>
<circle cx="357.65" cy="177.75" r="1.25"/>
<circle cx="362.86" cy="181.73" r="1.25"/>
<circle cx="376.28" cy="194.52" r="1.25"/>
<circle cx="385.13" cy="192.7" r="1.25"/>
<circle cx="384.1" cy="185.53" r="1.25"/>
<circle cx="367.89" cy="187.66" r="1.25"/>
<circle cx="375.01" cy="189.9" r="1.25"/>
<circle cx="381.47" cy="193.61" r="1.25"/>
<circle cx="375.92" cy="194.78" r="1.25"/>
<circle cx="381.5" cy="188.99" r="1.25"/>
<circle cx="381.62" cy="193.66" r="1.25"/>
<circle cx="361.21" cy="183.11" r="1.25"/>
<circle cx="388.03" cy="190.64" r="1.25"/>
<circle cx="383.36" cy="190.24" r="1.25"/>
<circle cx="376.48" cy="194.88" r="1.25"/>
<circle cx="386.96" cy="186.93" r="1.25"/>
<circle cx="371.9" cy="189.81" r="1.25"/>
<circle cx="365.56" cy="188.55" r="1.25"/>
<circle cx="390.47" cy="193.16" r="1.25"/>
<circle cx="346.1" cy="163.15" r="1.25"/>
<circle cx="374.06" cy="188.11" r="1.25"/>
<circle cx="376.38" cy="194.13" r="1.25"/>
<circle cx="362.65" cy="187.38" r="1.25"/>
<circle cx="371.91" cy="183.61" r="1.25"/>
<circle cx="391.08" cy="183.46" r="1.25"/>
<circle cx="386.31" cy="191.01" r="1.25"/>
<circle cx="369.26" cy="187.6" r="1.25"/>
<circle cx="404.26" cy="185.61" r="1.25"/>
<circle cx="363.32" cy="183.71" r="1.25"/>
<circle cx="371.51" cy="194.45" r="1.25"/>
<circle cx="384.64" cy="191.84" r="1.25"/>
<circle cx="358.63" cy="172.59" r="1.25"/>
<circle cx="353.16" cy="175.95" r="1.25"/>
<circle cx="346.94" cy="169.56" r="1.25"/>
<circle cx="385.46" cy="179.53" r="1.25"/>
<circle cx="344.53" cy="174.97" r="1.25"/>
<circle cx="368.87" cy="191.23" r="1.25"/>
<circle cx="381.08" cy="192.15" r="1.25"/>
<circle cx="370.05" cy="187.49" r="1.25"/>
<circle cx="380.2" cy="194.49" r="1.25"/>
<circle cx="372.24" cy="191.5" r="1.25"/>
<circle cx="379.96" cy="190.23" r="1.25"/>
<circle cx="386.2" cy="190.63" r="1.25"/>
<circle cx="415.7" cy="179.12" r="1.25"/>
<circle cx="382.68" cy="188.21" r="1.25"/>
<circle cx="350.12" cy="167.92" r="1.25"/>
<circle cx="366.29" cy="178.13" r="1.25"/>
<circle cx="381.63" cy="193.96" r="1.25"/>
<circle cx="362.31" cy="189.25" r="1.25"/>
<circle cx="388.27" cy="193.98" r="1.25"/>
<circle cx="368.86" cy="185.52" r="1.25"/>
<circle cx="361.17" cy="192.03" r="1.25"/>
<circle cx="374.48" cy="193.35" r="1.25"/>
<circle cx="391.21" cy="181.32" r="1.25"/>
<circle cx="359.94" cy="179.87" r="1.25"/>
<circle cx="376.7" cy="188.65" r="1.25"/>
<circle cx="352.76" cy="164.79" r="1.25"/>
<circle cx="384.05" cy="187.56" r="1.25"/>
<circle cx="388.32" cy="189.9" r="1.25"/>
<circle cx="370.51" cy="189.36" r="1.25"/>
<circle cx="372.28" cy="178.87" r="1.25"/>
<circle cx="354.9" cy="176.01" r="1.25"/>
<circle cx="364.67" cy="184.37" r="1.25"/>
<circle cx="377.39" cy="190.5" r="1.25"/>
<circle cx="396.76" cy="186.08" r="1.25"/>
<circle cx="363.62" cy="177.11" r="1.25"/>
<circle cx="387.23" cy="187.13" r="1.25"/>
<circle cx="381.72" cy="191.94" r="1.25"/>
<circle cx="369.13" cy="194.06" r="1.25"/>
<circle cx="386.25" cy="192.73" r="1.25"/>
<circle cx="353.87" cy="185.37" r="1.25"/>
<circle cx="358.01" cy="185.26" r="1.25"/>
<circle cx="397.35" cy="177.54" r="1.25"/>
<circle cx="379.46" cy="190.97" r="1.25"/>
<circle cx="375.03" cy="190.09" r="1.25"/>
<circle cx="387.29" cy="192.04" r="1.25"/>
<circle cx="351.04" cy="181.13" r="1.25"/>
<circle cx="373.46" cy="191.18" r="1.25"/>
<circle cx="380.59" cy="194.22" r="1.25"/>
<circle cx="396.72" cy="179.48" r="1.25"/>
<circle cx="371.19" cy="194.8" r="1.25"/>
<circle cx="399.61" cy="186.74" r="1.25"/>
<circle cx="370.99" cy="194.14" r="1.25"/>
<circle cx="390.32" cy="194.27" r="1.25"/>
<circle cx="383.22" cy="194.16" r="1.25"/>
<circle cx="374.08" cy="180.07" r="1.25"/>
<circle cx="364.13" cy="177.42" r="1.25"/>
<circle cx="365.24" cy="182.21" r="1.25"/>
<circle cx="383.49" cy="191.52" r="1.25"/>
<circle cx="353.11" cy="170.14" r="1.25"/>
<circle cx="354.68" cy="188.88" r="1.25"/>
<circle cx="378.71" cy="193.8" r="1.25"/>
<circle cx="373.71" cy="187.26" r="1.25"/>
<circle cx="393.18" cy="185.59" r="1.25"/>
<circle cx="387.97" cy="189.5" r="1.25"/>
<circle cx="391.86" cy="180.97" r="1.25"/>
<circle cx="359.95" cy="187.55" r="1.25"/>
<circle cx="397.04" cy="185.81" r="1.25"/>
<circle cx="352.94" cy="177.46" r="1.25"/>
<circle cx="372.86" cy="186.02" r="1.25"/>
<circle cx="392.26" cy="185.67" r="1.25"/>
<circle cx="381.66" cy="193.72" r="1.25"/>
<circle cx="363.16" cy="178.43" r="1.25"/>
<circle cx="360.3" cy="190.87" r="1.25"/>
<circle cx="350.99" cy="181.1" r="1.25"/>
<circle cx="366.3" cy="183.1" r="1.25"/>
<circle cx="370.78" cy="189.17" r="1.25"/>
<circle cx="388.4" cy="193.66" r="1.25"/>
<circle cx="369.01" cy="190.16" r="1.25"/>
<circle cx="387.57" cy="189.29" r="1.25"/>
<circle cx="387.05" cy="186.85" r="1.25"/>
<circle cx="389.01" cy="184.41" r="1.25"/>
<circle cx="366.19" cy="187.26" r="1.25"/>
<circle cx="383.87" cy="194.58" r="1.25"/>
<circle cx="363.22" cy="183.87" r="1.25"/>
<circle cx="391.24" cy="188.35" r="1.25"/>
<circle cx="393.56" cy="193.83" r="1.25"/>
<circle cx="339.68" cy="154.43" r="1.25"/>
<circle cx="369.54" cy="184.3" r="1.25"/>
<circle cx="360.86" cy="176.39" r="1.25"/>
<circle cx="343.35" cy="163.09" r="1.25"/>
<circle cx="376.38" cy="193.97" r="1.25"/>
<circle cx="408.1" cy="171.96" r="1.25"/>
<circle cx="376.08" cy="194.01" r="1.25"/>
<circle cx="376.76" cy="189.33" r="1.25"/>
<circle cx="361.74" cy="184.54" r="1.25"/>
<circle cx="366.57" cy="186.68" r="1.25"/>
<circle cx="398.42" cy="188.35" r="1.25"/>
<circle cx="373.44" cy="194.67" r="1.25"/>
<circle cx="396.63" cy="175.12" r="1.25"/>
<circle cx="360.83" cy="182.13" r="1.25"/>
<circle cx="367" cy="188.63" r="1.25"/>
<circle cx="401.34" cy="182.13" r="1.25"/>
<circle cx="364.52" cy="181.48" r="1.25"/>
<circle cx="344.92" cy="176.07" r="1.25"/>
<circle cx="374.77" cy="194.08" r="1.25"/>
<circle cx="369.1" cy="189.45" r="1.25"/>
<circle cx="384.18" cy="189.57" r="1.25"/>
<circle cx="393.08" cy="176.72" r="1.25"/>
<circle cx="369.56" cy="185.5" r="1.25"/>
<circle cx="395.14" cy="189.73" r="1.25"/>
<circle cx="355.94" cy="166.39" r="1.25"/>
<circle cx="359.77" cy="167.43" r="1.25"/>
<circle cx="381.32" cy="192.55" r="1.25"/>
<circle cx="389.01" cy="182.04" r="1.25"/>
<circle cx="369.93" cy="185.4" r="1.25"/>
<circle cx="384.67" cy="194.57" r="1.25"/>
<circle cx="355.21" cy="177.74" r="1.25"/>
<circle cx="413.3" cy="165.95" r="1.25"/>
<circle cx="398.06" cy="189.11" r="1.25"/>
<circle cx="383.27" cy="185.57" r="1.25"/>
<circle cx="382.01" cy="191.07" r="1.25"/>
<circle cx="361.08" cy="188.33" r="1.25"/>
<circle cx="382.43" cy="192.06" r="1.25"/>
<circle cx="377.9" cy="192.94" r="1.25"/>
<circle cx="358.52" cy="188.34" r="1.25"/>
<circle cx="352.19" cy="180.95" r="1.25"/>
<circle cx="373.15" cy="193.21" r="1.25"/>
<circle cx="388.62" cy="186.67" r="1.25"/>
<circle cx="360.78" cy="193.09" r="1.25"/>
<circle cx="369.58" cy="193.72" r="1.25"/>
<circle cx="358.98" cy="180.88" r="1.25"/>
<circle cx="389.98" cy="185.21" r="1.25"/>
<circle cx="363.66" cy="181.23" r="1.25"/>
<circle cx="374.14" cy="186.8" r="1.25"/>
<circle cx="367" cy="180.16" r="1.25"/>
<circle cx="392.06" cy="184.43" r="1.25"/>
<circle cx="398.53" cy="182.95" r="1.25"/>
<circle cx="369.33" cy="194.45" r="1.25"/>
<circle cx="367.27" cy="185.85" r="1.25"/>
<circle cx="399.05" cy="172.53" r="1.25"/>
<circle cx="362.23" cy="178.15" r="1.25"/>
<circle cx="397.8" cy="184.41" r="1.25"/>
<circle cx="367.67" cy="184.83" r="1.25"/>
<circle cx="389.2" cy="191.81" r="1.25"/>
<circle cx="336.92" cy="174.66" r="1.25"/>
<circle cx="388.52" cy="186.01" r="1.25"/>
<circle cx="365.94" cy="185.82" r="1.25"/>
<circle cx="399.94" cy="168.4" r="1.25"/>
<circle cx="371.13" cy="193.66" r="1.25"/>
<circle cx="368.35" cy="181.28" r="1.25"/>
<circle cx="378.06" cy="192.37" r="1.25"/>
<circle cx="374.45" cy="194.75" r="1.25"/>
<circle cx="394.92" cy="177.59" r="1.25"/>
<circle cx="367.99" cy="193.15" r="1.25"/>
<circle cx="370.45" cy="187.42" r="1.25"/>
<circle cx="379.91" cy="193.7" r="1.25"/>
<circle cx="367.63" cy="187.21" r="1.25"/>
<circle cx="384.94" cy="190.93" r="1.25"/>
<circle cx="391.57" cy="194.75" r="1.25"/>
<circle cx="390.58" cy="181.35" r="1.25"/>
<circle cx="391.96" cy="181.21" r="1.25"/>
<circle cx="359.23" cy="185.26" r="1.25"/>
<circle cx="391.43" cy="187.63" r="1.25"/>
<circle cx="389.45" cy="190.38" r="1.25"/>
<circle cx="376.57" cy="192.47" r="1.25"/>
<circle cx="386.69" cy="189.43" r="1.25"/>
<circle cx="388.42" cy="190.39" r="1.25"/>
<circle cx="404.68" cy="173.42" r="1.25"/>
<circle cx="384.28" cy="192.47" r="1.25"/>
<circle cx="336.66" cy="166.93" r="1.25"/>
<circle cx="368.65" cy="182.37" r="1.25"/>
<circle cx="377.79" cy="188.3" r="1.25"/>
<circle cx="344.46" cy="184.26" r="1.25"/>
<circle cx="384.7" cy="193.36" r="1.25"/>
<circle cx="372.58" cy="190.64" r="1.25"/>
<circle cx="393.88" cy="194.06" r="1.25"/>
<circle cx="383.44" cy="194.73" r="1.25"/>
<circle cx="375.52" cy="194.5" r="1.25"/>
<circle cx="381.5" cy="189.56" r="1.25"/>
<circle cx="384.27" cy="187.76" r="1.25"/>
<circle cx="352.18" cy="171.1" r="1.25"/>
<circle cx="375.64" cy="194.76" r="1.25"/>
<circle cx="398.34" cy="193.68" r="1.25"/>
<circle cx="381.36" cy="194.16" r="1.25"/>
<circle cx="389.18" cy="186.49" r="1.25"/>
<circle cx="392.28" cy="193.22" r="1.25"/>
<circle cx="358.82" cy="180.7" r="1.25"/>
<circle cx="340.55" cy="164.62" r="1.25"/>
<circle cx="351.24" cy="186.57" r="1.25"/>
<circle cx="350.05" cy="165" r="1.25"/>
<circle cx="341.08" cy="153.41" r="1.25"/>
<circle cx="362.55" cy="178.47" r="1.25"/>
<circle cx="343.8" cy="184.88" r="1.25"/>
<circle cx="392.42" cy="183.29" r="1.25"/>
<circle cx="376.14" cy="190.73" r="1.25"/>
<circle cx="358.11" cy="186.73" r="1.25"/>
<circle cx="392.5" cy="190.59" r="1.25"/>
<circle cx="372.09" cy="190.72" r="1.25"/>
<circle cx="379.48" cy="194.55" r="1.25"/>
<circle cx="363.71" cy="182.8" r="1.25"/>
<circle cx="360.52" cy="185.6" r="1.25"/>
<circle cx="355.99" cy="178.73" r="1.25"/>
<circle cx="402.19" cy="181.95" r="1.25"/>
<circle cx="364.96" cy="193.61" r="1.25"/>
<circle cx="389.3" cy="184.57" r="1.25"/>
<circle cx="383.13" cy="192.7" r="1.25"/>
<circle cx="377.17" cy="193.56" r="1.25"/>
<circle cx="357" cy="177.43" r="1.25"/>
<circle cx="371.25" cy="191.25" r="1.25"/>
<circle cx="356.33" cy="179.07" r="1.25"/>
<circle cx="379.93" cy="191.71" r="1.25"/>
<circle cx="371.6" cy="189.51" r="1.25"/>
<circle cx="376.19" cy="192.96" r="1.25"/>
<circle cx="382.6" cy="194.66" r="1.25"/>
<circle cx="373.18" cy="191.26" r="1.25"/>
<circle cx="387.16" cy="192.31" r="1.25"/>
<circle cx="362.03" cy="187.44" r="1.25"/>
<circle cx="345.8" cy="167.82" r="1.25"/>
<circle cx="392.01" cy="192.31" r="1.25"/>
<circle cx="392.44" cy="180.24" r="1.25"/>
<circle cx="374.78" cy="193.46" r="1.25"/>
<circle cx="364.89" cy="183.07" r="1.25"/>
<circle cx="386.56" cy="194.59" r="1.25"/>
<circle cx="384.68" cy="190.17" r="1.25"/>
<circle cx="385.93" cy="183.53" r="1.25"/>
<circle cx="386.82" cy="187.52" r="1.25"/>
<circle cx="376.33" cy="194.22" r="1.25"/>
<circle cx="400.8" cy="182.62" r="1.25"/>
<circle cx="354.27" cy="179.36" r="1.25"/>
<circle cx="377.75" cy="192.91" r="1.25"/>
<circle cx="360.19" cy="167.68" r="1.25"/>
<circle cx="358.77" cy="171.56" r="1.25"/>
<circle cx="397.14" cy="178.6" r="1.25"/>
<circle cx="370.87" cy="186.98" r="1.25"/>
<circle cx="368.68" cy="186.62" r="1.25"/>
<circle cx="362.56" cy="188.22" r="1.25"/>
<circle cx="361.22" cy="184.36" r="1.25"/>
<circle cx="374.69" cy="194.55" r="1.25"/>
<circle cx="371.9" cy="190.31" r="1.25"/>
<circle cx="375.16" cy="193.43" r="1.25"/>
<circle cx="406.53" cy="176.56" r="1.25"/>
<circle cx="355.54" cy="177.63" r="1.25"/>
<circle cx="384.86" cy="189" r="1.25"/>
<circle cx="388.38" cy="185.13" r="1.25"/>
<circle cx="364.54" cy="180.8" r="1.25"/>
<circle cx="361.56" cy="180.36" r="1.25"/>
<circle cx="385.44" cy="190.09" r="1.25"/>
<circle cx="369.29" cy="182.76" r="1.25"/>
<circle cx="394.57" cy="178.04" r="1.25"/>
<circle cx="415.03" cy="155.49" r="1.25"/>
<circle cx="374.19" cy="194.72" r="1.25"/>
<circle cx="357.52" cy="180.53" r="1.25"/>
<circle cx="385.66" cy="190.85" r="1.25"/>
<circle cx="370.09" cy="191.88" r="1.25"/>
<circle cx="382.52" cy="193.07" r="1.25"/>
<circle cx="355.24" cy="173.23" r="1.25"/>
<circle cx="358.54" cy="169.15" r="1.25"/>
<circle cx="386.35" cy="188.73" r="1.25"/>
<circle cx="372.86" cy="185.85" r="1.25"/>
<circle cx="347.11" cy="173.15" r="1.25"/>
<circle cx="389.32" cy="194.58" r="1.25"/>
<circle cx="367.81" cy="187.25" r="1.25"/>
<circle cx="382.34" cy="194.11" r="1.25"/>
<circle cx="396.12" cy="185.6" r="1.25"/>
<circle cx="361" cy="184.82" r="1.25"/>
<circle cx="382.63" cy="193.85" r="1.25"/>
<circle cx="366.24" cy="180.17" r="1.25"/>
<circle cx="367.33" cy="188.66" r="1.25"/>
<circle cx="366.21" cy="188.8" r="1.25"/>
<circle cx="365.95" cy="191.58" r="1.25"/>
<circle cx="384.51" cy="190.22" r="1.25"/>
<circle cx="386.99" cy="192.05" r="1.25"/>
<circle cx="354.86" cy="182.88" r="1.25"/>
<circle cx="362.91" cy="187.2" r="1.25"/>
<circle cx="370.53" cy="181.34" r="1.25"/>
<circle cx="393.35" cy="178.56" r="1.25"/>
<circle cx="362.9" cy="168.55" r="1.25"/>
<circle cx="353.31" cy="173.01" r="1.25"/>
<circle cx="372.32" cy="194.38" r="1.25"/>
<circle cx="358.67" cy="184.1" r="1.25"/>
<circle cx="382.9" cy="192.94" r="1.25"/>
<circle cx="370.26" cy="185.14" r="1.25"/>
<circle cx="381.15" cy="189.98" r="1.25"/>
<circle cx="358.58" cy="175.18" r="1.25"/>
<circle cx="380.52" cy="191.99" r="1.25"/>
<circle cx="393" cy="185.31" r="1.25"/>
<circle cx="381.83" cy="191.58" r="1.25"/>
<circle cx="362.66" cy="182.03" r="1.25"/>
<circle cx="388.74" cy="189.39" r="1.25"/>
<circle cx="382.44" cy="188.74" r="1.25"/>
<circle cx="379.67" cy="194.76" r="1.25"/>
<circle cx="374.39" cy="187.83" r="1.25"/>
<circle cx="387.24" cy="183.94" r="1.25"/>
<circle cx="384.18" cy="188.95" r="1.25"/>
<circle cx="375.35" cy="193.71" r="1.25"/>
<circle cx="351.91" cy="177.72" r="1.25"/>
<circle cx="365.67" cy="191.97" r="1.25"/>
<circle cx="356.34" cy="176.23" r="1.25"/>
<circle cx="354.74" cy="175.65" r="1.25"/>
<circle cx="372.65" cy="186.47" r="1.25"/>
<circle cx="386.37" cy="186.24" r="1.25"/>
<circle cx="358.99" cy="177.79" r="1.25"/>
<circle cx="382.39" cy="190.95" r="1.25"/>
<circle cx="356.91" cy="170.76" r="1.25"/>
<circle cx="381.56" cy="194.62" r="1.25"/>
<circle cx="399.18" cy="183.35" r="1.25"/>
<circle cx="372.78" cy="181.92" r="1.25"/>
<circle cx="387.95" cy="179.83" r="1.25"/>
<circle cx="359.54" cy="175.57" r="1.25"/>
<circle cx="386.46" cy="194.73" r="1.25"/>
<circle cx="375.26" cy="189.95" r="1.25"/>
<circle cx="391.53" cy="188.32" r="1.25"/>
<circle cx="374.59" cy="193.92" r="1.25"/>
<circle cx="386.32" cy="188.7" r="1.25"/>
<circle cx="386.25" cy="191.69" r="1.25"/>
<circle cx="365.02" cy="181.69" r="1.25"/>
<circle cx="374.39" cy="191.14" r="1.25"/>
<circle cx="358.21" cy="173.23" r="1.25"/>
<circle cx="358.02" cy="185.47" r="1.25"/>
<circle cx="354.55" cy="185.72" r="1.25"/>
<circle cx="373.09" cy="194.11" r="1.25"/>
<circle cx="360.75" cy="194.19" r="1.25"/>
<circle cx="348.63" cy="175.88" r="1.25"/>
<circle cx="367.4" cy="189.71" r="1.25"/>
<circle cx="357.71" cy="175.3" r="1.25"/>
<circle cx="366.58" cy="185.27" r="1.25"/>
<circle cx="367.99" cy="178.35" r="1.25"/>
<circle cx="395.44" cy="188.53" r="1.25"/>
<circle cx="367.6" cy="187.94" r="1.25"/>
<circle cx="376.07" cy="193.59" r="1.25"/>
<circle cx="380.88" cy="190.86" r="1.25"/>
<circle cx="369.03" cy="191.41" r="1.25"/>
<circle cx="392.54" cy="185.97" r="1.25"/>
<circle cx="359.09" cy="190.77" r="1.25"/>
<circle cx="385.67" cy="189.09" r="1.25"/>
<circle cx="366.13" cy="185.28" r="1.25"/>
<circle cx="404.54" cy="171.65" r="1.25"/>
<circle cx="364.06" cy="183.85" r="1.25"/>
<circle cx="368.26" cy="177.3" r="1.25"/>
<circle cx="374.25" cy="192.9" r="1.25"/>
<circle cx="361.75" cy="181.5" r="1.25"/>
<circle cx="373.41" cy="190.29" r="1.25"/>
<circle cx="368.94" cy="186.55" r="1.25"/>
<circle cx="393.31" cy="172.67" r="1.25"/>
<circle cx="394.62" cy="185.14" r="1.25"/>
<circle cx="373.54" cy="186.21" r="1.25"/>
<circle cx="349.24" cy="170.9" r="1.25"/>
<circle cx="386.53" cy="187" r="1.25"/>
<circle cx="348.05" cy="155.99" r="1.25"/>
<circle cx="375.2" cy="194.05" r="1.25"/>
<circle cx="362.43" cy="187.5" r="1.25"/>
<circle cx="363.22" cy="182.32" r="1.25"/>
<circle cx="361.95" cy="190.86" r="1.25"/>
<circle cx="360.62" cy="174.98" r="1.25"/>
<circle cx="385.11" cy="192.79" r="1.25"/>
<circle cx="370.24" cy="189.85" r="1.25"/>
<circle cx="388.52" cy="186.59" r="1.25"/>
<circle cx="369.15" cy="187.85" r="1.25"/>
<circle cx="400.92" cy="185.09" r="1.25"/>
<circle cx="367.85" cy="183.01" r="1.25"/>
<circle cx="373.78" cy="194.35" r="1.25"/>
<circle cx="404.54" cy="174.49" r="1.25"/>
<circle cx="401.36" cy="169.78" r="1.25"/>
<circle cx="399.93" cy="179.54" r="1.25"/>
<circle cx="369.48" cy="190.59" r="1.25"/>
<circle cx="378.08" cy="193.38" r="1.25"/>
<circle cx="370.24" cy="188.56" r="1.25"/>
<circle cx="359.75" cy="170.3" r="1.25"/>
<circle cx="388.6" cy="188.96" r="1.25"/>
<circle cx="389.72" cy="179.65" r="1.25"/>
<circle cx="372.49" cy="187.79" r="1.25"/>
<circle cx="384.46" cy="188.18" r="1.25"/>
<circle cx="398.43" cy="180.88" r="1.25"/>
<circle cx="383.97" cy="191.32" r="1.25"/>
<circle cx="372.83" cy="193.12" r="1.25"/>
<circle cx="385.08" cy="187.81" r="1.25"/>
<circle cx="354.84" cy="173.5" r="1.25"/>
<circle cx="348.11" cy="177.17" r="1.25"/>
<circle cx="362.86" cy="183.32" r="1.25"/>
<circle cx="351.8" cy="167.57" r="1.25"/>
<circle cx="385.11" cy="194.46" r="1.25"/>
<circle cx="363.5" cy="194" r="1.25"/>
<circle cx="399.97" cy="178.83" r="1.25"/>
<circle cx="372.99" cy="187.64" r="1.25"/>
<circle cx="377.34" cy="192.68" r="1.25"/>
<circle cx="377.02" cy="193.81" r="1.25"/>
<circle cx="389.58" cy="189.91" r="1.25"/>
<circle cx="379.69" cy="193.46" r="1.25"/>
<circle cx="360.51" cy="176.54" r="1.25"/>
<circle cx="376.74" cy="194.87" r="1.25"/>
<circle cx="407.92" cy="160.82" r="1.25"/>
<circle cx="360.51" cy="180.21" r="1.25"/>
<circle cx="364.83" cy="178.71" r="1.25"/>
<circle cx="368.97" cy="187.81" r="1.25"/>
<circle cx="345.46" cy="169.73" r="1.25"/>
<circle cx="367.89" cy="185.8" r="1.25"/>
<circle cx="369.3" cy="186.02" r="1.25"/>
<circle cx="363.1" cy="184.18" r="1.25"/>
<circle cx="366.13" cy="191.66" r="1.25"/>
<circle cx="382.61" cy="192.23" r="1.25"/>
<circle cx="385.72" cy="182.51" r="1.25"/>
<circle cx="390.4" cy="188.6" r="1.25"/>
<circle cx="388.01" cy="184.92" r="1.25"/>
<circle cx="358.82" cy="178.24" r="1.25"/>
<circle cx="340.89" cy="153.4" r="1.25"/>
<circle cx="360.85" cy="185.17" r="1.25"/>
<circle cx="386.23" cy="192.9" r="1.25"/>
<circle cx="382.21" cy="192.29" r="1.25"/>
<circle cx="350.3" cy="170.88" r="1.25"/>
<circle cx="393.69" cy="176.25" r="1.25"/>
<circle cx="389.51" cy="192.71" r="1.25"/>
<circle cx="369.2" cy="180.57" r="1.25"/>
<circle cx="395.68" cy="186.65" r="1.25"/>
<circle cx="364.23" cy="191.79" r="1.25"/>
<circle cx="372.47" cy="188.97" r="1.25"/>
<circle cx="397.09" cy="175.5" r="1.25"/>
<circle cx="394.63" cy="173.71" r="1.25"/>
<circle cx="356.1" cy="181.01" r="1.25"/>
<circle cx="382.6" cy="190.06" r="1.25"/>
<circle cx="383.65" cy="194.27" r="1.25"/>
<circle cx="375.63" cy="193.5" r="1.25"/>
<circle cx="385.32" cy="190.05" r="1.25"/>
<circle cx="371.77" cy="179.64" r="1.25"/>
<circle cx="361.4" cy="191.07" r="1.25"/>
<circle cx="380.76" cy="187.79" r="1.25"/>
<circle cx="379" cy="194.88" r="1.25"/>
<circle cx="375.43" cy="193.92" r="1.25"/>
<circle cx="385.56" cy="192.65" r="1.25"/>
<circle cx="366.93" cy="187.64" r="1.25"/>
<circle cx="369.81" cy="185.5" r="1.25"/>
<circle cx="377.23" cy="194.52" r="1.25"/>
<circle cx="361.05" cy="191.71" r="1.25"/>
<circle cx="413.59" cy="169.35" r="1.25"/>
<circle cx="370.45" cy="188.13" r="1.25"/>
<circle cx="392.82" cy="180.95" r="1.25"/>
<circle cx="402.01" cy="183.39" r="1.25"/>
<circle cx="387.49" cy="188.95" r="1.25"/>
<circle cx="389.66" cy="178.87" r="1.25"/>
<circle cx="379.01" cy="192.49" r="1.25"/>
<circle cx="379.54" cy="192.32" r="1.25"/>
<circle cx="397.79" cy="185.99" r="1.25"/>
<circle cx="373.17" cy="193.89" r="1.25"/>
<circle cx="360.05" cy="176.29" r="1.25"/>
<circle cx="397.41" cy="173.93" r="1.25"/>
<circle cx="371.33" cy="191.26" r="1.25"/>
<circle cx="401.43" cy="193.55" r="1.25"/>
<circle cx="403.43" cy="189.04" r="1.25"/>
<circle cx="391.81" cy="187.1" r="1.25"/>
<circle cx="384.92" cy="194.86" r="1.25"/>
<circle cx="365.16" cy="168.2" r="1.25"/>
<circle cx="366.38" cy="184.83" r="1.25"/>
<circle cx="387.92" cy="191.48" r="1.25"/>
<circle cx="402.09" cy="178.16" r="1.25"/>
<circle cx="367.62" cy="184.38" r="1.25"/>
<circle cx="373.27" cy="191.54" r="1.25"/>
<circle cx="394.48" cy="187.12" r="1.25"/>
<circle cx="385.1" cy="191.27" r="1.25"/>
<circle cx="362.56" cy="181.3" r="1.25"/>
<circle cx="398.02" cy="180.77" r="1.25"/>
<circle cx="367.33" cy="192.26" r="1.25"/>
<circle cx="411.29" cy="160.56" r="1.25"/>
<circle cx="403.89" cy="169.95" r="1.25"/>
<circle cx="369.82" cy="194.87" r="1.25"/>
<circle cx="377.66" cy="194.84" r="1.25"/>
<circle cx="367.48" cy="193.99" r="1.25"/>
<circle cx="385.41" cy="187.72" r="1.25"/>
<circle cx="366.89" cy="190.99" r="1.25"/>
<circle cx="364.3" cy="184.37" r="1.25"/>
<circle cx="389.06" cy="193.82" r="1.25"/>
<circle cx="365.5" cy="193.24" r="1.25"/>
<circle cx="353.8" cy="184.14" r="1.25"/>
<circle cx="365.27" cy="184.8" r="1.25"/>
<circle cx="361.34" cy="187.17" r="1.25"/>
<circle cx="373.77" cy="192" r="1.25"/>
<circle cx="382.93" cy="194.37" r="1.25"/>
<circle cx="382.33" cy="192.49" r="1.25"/>
<circle cx="388.62" cy="182.05" r="1.25"/>
<circle cx="394.75" cy="177.91" r="1.25"/>
<circle cx="361.44" cy="190.71" r="1.25"/>
<circle cx="396.13" cy="183.66" r="1.25"/>
<circle cx="375.09" cy="189.72" r="1.25"/>
<circle cx="369.27" cy="186.25" r="1.25"/>
<circle cx="367.24" cy="188.25" r="1.25"/>
<circle cx="372.48" cy="187.29" r="1.25"/>
<circle cx="358.89" cy="192.53" r="1.25"/>
<circle cx="362.63" cy="175.66" r="1.25"/>
<circle cx="368.12" cy="190.74" r="1.25"/>
<circle cx="373.44" cy="189.24" r="1.25"/>
<circle cx="363.11" cy="186.75" r="1.25"/>
<circle cx="366.31" cy="186.58" r="1.25"/>
<circle cx="365.47" cy="192.22" r="1.25"/>
<circle cx="360.79" cy="176.18" r="1.25"/>
<circle cx="358.8" cy="188.36" r="1.25"/>
<circle cx="366.55" cy="190.93" r="1.25"/>
<circle cx="372.85" cy="189.97" r="1.25"/>
<circle cx="392.75" cy="187.52" r="1.25"/>
<circle cx="355.99" cy="173.09" r="1.25"/>
<circle cx="382.14" cy="186.17" r="1.25"/>
<circle cx="386.6" cy="190.42" r="1.25"/>
<circle cx="357.68" cy="181.64" r="1.25"/>
<circle cx="362.99" cy="182.46" r="1.25"/>
<circle cx="360.65" cy="179.97" r="1.25"/>
<circle cx="387.74" cy="194.37" r="1.25"/>
<circle cx="386.97" cy="190.71" r="1.25"/>
<circle cx="373.66" cy="191.33" r="1.25"/>
<circle cx="380.53" cy="193.26" r="1.25"/>
<circle cx="373.11" cy="192.42" r="1.25"/>
<circle cx="359.49" cy="171.59" r="1.25"/>
<circle cx="375.05" cy="192.54" r="1.25"/>
<circle cx="352.07" cy="170.69" r="1.25"/>
<circle cx="381.82" cy="187.41" r="1.25"/>
<circle cx="368.37" cy="191.51" r="1.25"/>
<circle cx="361.81" cy="177.56" r="1.25"/>
<circle cx="354.91" cy="168.98" r="1.25"/>
<circle cx="378.76" cy="188.2" r="1.25"/>
<circle cx="368.8" cy="189.29" r="1.25"/>
<circle cx="383.73" cy="189.14" r="1.25"/>
<circle cx="369.25" cy="191.26" r="1.25"/>
<circle cx="348.81" cy="167.6" r="1.25"/>
<circle cx="381.81" cy="194.78" r="1.25"/>
<circle cx="387.94" cy="187.28" r="1.25"/>
<circle cx="383.15" cy="194.63" r="1.25"/>
<circle cx="369.06" cy="184.29" r="1.25"/>
<circle cx="375.56" cy="183.96" r="1.25"/>
<circle cx="390.61" cy="188.35" r="1.25"/>
<circle cx="371.83" cy="189.18" r="1.25"/>
<circle cx="382.09" cy="193.78" r="1.25"/>
<circle cx="366.73" cy="187.68" r="1.25"/>
<circle cx="353.72" cy="177.04" r="1.25"/>
<circle cx="398.16" cy="189.7" r="1.25"/>
<circle cx="385.69" cy="189.17" r="1.25"/>
<circle cx="368.01" cy="182.06" r="1.25"/>
<circle cx="375.19" cy="187.9" r="1.25"/>
<circle cx="376.47" cy="193.19" r="1.25"/>
<circle cx="366.57" cy="188.11" r="1.25"/>
<circle cx="370.45" cy="191.42" r="1.25"/>
<circle cx="383.01" cy="188.41" r="1.25"/>
<circle cx="366.88" cy="179.99" r="1.25"/>
<circle cx="360.57" cy="167.74" r="1.25"/>
<circle cx="389.16" cy="185.74" r="1.25"/>
<circle cx="388.36" cy="186.11" r="1.25"/>
<circle cx="344.42" cy="154.82" r="1.25"/>
<circle cx="375.98" cy="194.67" r="1.25"/>
<circle cx="373.65" cy="194.69" r="1.25"/>
<circle cx="368.34" cy="191.35" r="1.25"/>
<circle cx="373.64" cy="191.81" r="1.25"/>
<circle cx="376.56" cy="194.84" r="1.25"/>
<circle cx="387.47" cy="179.65" r="1.25"/>
<circle cx="380.71" cy="193.67" r="1.25"/>
<circle cx="415.7" cy="166.07" r="1.25"/>
<circle cx="389.93" cy="182.64" r="1.25"/>
<circle cx="351.17" cy="166.81" r="1.25"/>
<circle cx="352.28" cy="175.52" r="1.25"/>
<circle cx="387.44" cy="193.5" r="1.25"/>
<circle cx="393.96" cy="184.87" r="1.25"/>
<circle cx="366.9" cy="184.06" r="1.25"/>
<circle cx="379.68" cy="189.78" r="1.25"/>
<circle cx="389.01" cy="187.37" r="1.25"/>
<circle cx="374.01" cy="189.65" r="1.25"/>
<circle cx="377.13" cy="194.49" r="1.25"/>
<circle cx="389.46" cy="181.47" r="1.25"/>
<circle cx="373.82" cy="193.63" r="1.25"/>
<circle cx="385.48" cy="185.03" r="1.25"/>
<circle cx="354.35" cy="192.23" r="1.25"/>
<circle cx="393.11" cy="187.57" r="1.25"/>
<circle cx="369.52" cy="192.55" r="1.25"/>
<circle cx="359.89" cy="177.63" r="1.25"/>
<circle cx="368.7" cy="189.85" r="1.25"/>
<circle cx="355.74" cy="178.98" r="1.25"/>
<circle cx="369.58" cy="185.08" r="1.25"/>
<circle cx="355.42" cy="181.9" r="1.25"/>
<circle cx="367.11" cy="184.8" r="1.25"/>
<circle cx="374.11" cy="194.31" r="1.25"/>
<circle cx="354.1" cy="180.59" r="1.25"/>
<circle cx="361.48" cy="193.33" r="1.25"/>
<circle cx="367.45" cy="177.57" r="1.25"/>
<circle cx="362.15" cy="164.67" r="1.25"/>
<circle cx="375.06" cy="191.34" r="1.25"/>
<circle cx="391.95" cy="189.8" r="1.25"/>
<circle cx="412.73" cy="166.02" r="1.25"/>
<circle cx="409.2" cy="166.89" r="1.25"/>
<circle cx="376.87" cy="193.07" r="1.25"/>
<circle cx="403.29" cy="179.94" r="1.25"/>
<circle cx="358.19" cy="194.24" r="1.25"/>
<circle cx="390.34" cy="188.5" r="1.25"/>
<circle cx="352.02" cy="185.95" r="1.25"/>
<circle cx="383.04" cy="192.25" r="1.25"/>
<circle cx="369.09" cy="193.35" r="1.25"/>
<circle cx="354.54" cy="185.11" r="1.25"/>
<circle cx="363.67" cy="186.37" r="1.25"/>
<circle cx="372.94" cy="193" r="1.25"/>
<circle cx="388.82" cy="184.45" r="1.25"/>
<circle cx="354.15" cy="168.79" r="1.25"/>
<circle cx="368.86" cy="188.03" r="1.25"/>
<circle cx="362.08" cy="181.54" r="1.25"/>
<circle cx="373.12" cy="194.46" r="1.25"/>
<circle cx="371.41" cy="194.31" r="1.25"/>
<circle cx="379.82" cy="193.98" r="1.25"/>
<circle cx="415.7" cy="154.4" r="1.25"/>
<circle cx="387.63" cy="194.78" r="1.25"/>
<circle cx="366.92" cy="185.3" r="1.25"/>
<circle cx="357.99" cy="165.79" r="1.25"/>
<circle cx="391.22" cy="190.99" r="1.25"/>
<circle cx="371.56" cy="194.2" r="1.25"/>
<circle cx="373.45" cy="187.67" r="1.25"/>
<circle cx="380.58" cy="190.95" r="1.25"/>
<circle cx="376.31" cy="193.96" r="1.25"/>
<circle cx="395.92" cy="173.28" r="1.25"/>
<circle cx="362.67" cy="175.91" r="1.25"/>
<circle cx="361.01" cy="177.22" r="1.25"/>
<circle cx="415.23" cy="156.64" r="1.25"/>
<circle cx="358.42" cy="176.96" r="1.25"/>
<circle cx="391.71" cy="188.69" r="1.25"/>
<circle cx="375.57" cy="192.46" r="1.25"/>
<circle cx="386.74" cy="184.31" r="1.25"/>
<circle cx="355.53" cy="185.37" r="1.25"/>
<circle cx="383.37" cy="189.97" r="1.25"/>
<circle cx="343.84" cy="186.96" r="1.25"/>
<circle cx="396.22" cy="190.78" r="1.25"/>
<circle cx="352.23" cy="169.23" r="1.25"/>
<circle cx="350.4" cy="169.91" r="1.25"/>
<circle cx="386.7" cy="194.28" r="1.25"/>
<circle cx="385.34" cy="190.86" r="1.25"/>
<circle cx="394.3" cy="175.34" r="1.25"/>
<circle cx="376.38" cy="189.98" r="1.25"/>
<circle cx="365.8" cy="179.37" r="1.25"/>
<circle cx="363.69" cy="174.2" r="1.25"/>
<circle cx="390.02" cy="188.3" r="1.25"/>
<circle cx="359.87" cy="184.29" r="1.25"/>
<circle cx="403.5" cy="181.66" r="1.25"/>
<circle cx="350.07" cy="162.78" r="1.25"/>
<circle cx="381.43" cy="191.06" r="1.25"/>
<circle cx="336.97" cy="173.94" r="1.25"/>
<circle cx="392.38" cy="187.88" r="1.25"/>
<circle cx="365.21" cy="191.08" r="1.25"/>
<circle cx="366.81" cy="179.34" r="1.25"/>
<circle cx="381.18" cy="193.72" r="1.25"/>
<circle cx="371.64" cy="194.63" r="1.25"/>
<circle cx="396.6" cy="189.02" r="1.25"/>
<circle cx="382.43" cy="192.62" r="1.25"/>
<circle cx="386.91" cy="187.34" r="1.25"/>
<circle cx="373.73" cy="192.59" r="1.25"/>
<circle cx="391.39" cy="184.73" r="1.25"/>
<circle cx="354.2" cy="170.08" r="1.25"/>
<circle cx="378.22" cy="193.28" r="1.25"/>
<circle cx="380.25" cy="192.74" r="1.25"/>
<circle cx="385.82" cy="191.15" r="1.25"/>
<circle cx="367.92" cy="185.8" r="1.25"/>
<circle cx="367.47" cy="186.32" r="1.25"/>
<circle cx="384.14" cy="190.34" r="1.25"/>
<circle cx="367.91" cy="183.19" r="1.25"/>
<circle cx="386.29" cy="191.81" r="1.25"/>
<circle cx="381.9" cy="194.72" r="1.25"/>
<circle cx="413.08" cy="171.41" r="1.25"/>
<circle cx="363.37" cy="171.57" r="1.25"/>
<circle cx="355.58" cy="178.28" r="1.25"/>
<circle cx="346.62" cy="164.96" r="1.25"/>
<circle cx="397.01" cy="187.67" r="1.25"/>
<circle cx="396.11" cy="184.65" r="1.25"/>
<circle cx="392.31" cy="187.12" r="1.25"/>
<circle cx="366.72" cy="182.53" r="1.25"/>
<circle cx="355.94" cy="182.03" r="1.25"/>
<circle cx="364.07" cy="190.17" r="1.25"/>
<circle cx="383.64" cy="187.49" r="1.25"/>
<circle cx="369.43" cy="181.62" r="1.25"/>
<circle cx="388.11" cy="190.24" r="1.25"/>
<circle cx="405.2" cy="190.27" r="1.25"/>
<circle cx="354.13" cy="169.72" r="1.25"/>
<circle cx="375.09" cy="189.12" r="1.25"/>
<circle cx="402.58" cy="170.37" r="1.25"/>
<circle cx="366" cy="186.55" r="1.25"/>
<circle cx="373.94" cy="192.11" r="1.25"/>
<circle cx="383.41" cy="190.44" r="1.25"/>
<circle cx="363.69" cy="182.44" r="1.25"/>
<circle cx="397.14" cy="191.56" r="1.25"/>
<circle cx="380.36" cy="192.58" r="1.25"/>
<circle cx="400.9" cy="185.15" r="1.25"/>
<circle cx="364.98" cy="186.47" r="1.25"/>
<circle cx="356.12" cy="183.63" r="1.25"/>
<circle cx="388.18" cy="191.52" r="1.25"/>
<circle cx="374.67" cy="192.07" r="1.25"/>
<circle cx="379.62" cy="192.61" r="1.25"/>
<circle cx="397.11" cy="189.89" r="1.25"/>
<circle cx="397.85" cy="180.02" r="1.25"/>
<circle cx="347.44" cy="172.11" r="1.25"/>
<circle cx="382.48" cy="189.08" r="1.25"/>
<circle cx="372.52" cy="184.54" r="1.25"/>
<circle cx="373.26" cy="192.57" r="1.25"/>
<circle cx="390.12" cy="190.09" r="1.25"/>
<circle cx="384.27" cy="191.78" r="1.25"/>
<circle cx="367.82" cy="187.67" r="1.25"/>
<circle cx="384.33" cy="188.56" r="1.25"/>
<circle cx="403.64" cy="178.97" r="1.25"/>
<circle cx="389.56" cy="184.83" r="1.25"/>
<circle cx="361.04" cy="189.72" r="1.25"/>
<circle cx="364.87" cy="183.29" r="1.25"/>
<circle cx="371.73" cy="193.17" r="1.25"/>
<circle cx="373.65" cy="192.68" r="1.25"/>
<circle cx="373.44" cy="194.63" r="1.25"/>
<circle cx="375.76" cy="188.77" r="1.25"/>
<circle cx="372.56" cy="183.88" r="1.25"/>
<circle cx="380.26" cy="194.05" r="1.25"/>
<circle cx="395.32" cy="178.09" r="1.25"/>
<circle cx="373.56" cy="192.63" r="1.25"/>
<circle cx="381.73" cy="190.4" r="1.25"/>
<circle cx="355.74" cy="181.44" r="1.25"/>
<circle cx="391.47" cy="188.92" r="1.25"/>
<circle cx="389.1" cy="190.73" r="1.25"/>
<circle cx="401.72" cy="176.39" r="1.25"/>
<circle cx="366.92" cy="180.88" r="1.25"/>
<circle cx="386.25" cy="190.43" r="1.25"/>
<circle cx="371.96" cy="190.76" r="1.25"/>
<circle cx="366.51" cy="179.55" r="1.25"/>
<circle cx="369.25" cy="186.58" r="1.25"/>
<circle cx="366.75" cy="187.5" r="1.25"/>
<circle cx="377.15" cy="194.29" r="1.25"/>
<circle cx="388.3" cy="191.62" r="1.25"/>
<circle cx="386.28" cy="184.78" r="1.25"/>
<circle cx="376.3" cy="194.16" r="1.25"/>
<circle cx="386.76" cy="186.32" r="1.25"/>
<circle cx="391.48" cy="186.82" r="1.25"/>
<circle cx="387.99" cy="194.78" r="1.25"/>
<circle cx="379.58" cy="194.26" r="1.25"/>
<circle cx="364.02" cy="182.8" r="1.25"/>
<circle cx="395.86" cy="181.25" r="1.25"/>
<circle cx="383.47" cy="192.2" r="1.25"/>
<circle cx="391.91" cy="175.05" r="1.25"/>
<circle cx="397.18" cy="186.05" r="1.25"/>
<circle cx="366.38" cy="188.71" r="1.25"/>
<circle cx="353.65" cy="169.54" r="1.25"/>
<circle cx="367.24" cy="186.26" r="1.25"/>
<circle cx="363.18" cy="172.87" r="1.25"/>
<circle cx="398.94" cy="176.26" r="1.25"/>
<circle cx="398.32" cy="171.28" r="1.25"/>
<circle cx="385.45" cy="189.24" r="1.25"/>
<circle cx="394.45" cy="183.95" r="1.25"/>
<circle cx="371.72" cy="187.32" r="1.25"/>
<circle cx="357.62" cy="170.48" r="1.25"/>
<circle cx="366.97" cy="187.3" r="1.25"/>
<circle cx="381.04" cy="192.97" r="1.25"/>
<circle cx="369.13" cy="190.1" r="1.25"/>
<circle cx="381.31" cy="194.49" r="1.25"/>
<circle cx="368.32" cy="179.39" r="1.25"/>
<circle cx="368.86" cy="194.56" r="1.25"/>
<circle cx="371.38" cy="194.85" r="1.25"/>
<circle cx="393.89" cy="188.13" r="1.25"/>
<circle cx="392.9" cy="184.44" r="1.25"/>
<circle cx="360.76" cy="171.56" r="1.25"/>
<circle cx="358.42" cy="178.54" r="1.25"/>
<circle cx="384.08" cy="192.42" r="1.25"/>
<circle cx="381.54" cy="187.9" r="1.25"/>
<circle cx="393.39" cy="180.09" r="1.25"/>
<circle cx="395.35" cy="182.45" r="1.25"/>
<circle cx="388.06" cy="179.45" r="1.25"/>
<circle cx="372.53" cy="192.99" r="1.25"/>
<circle cx="390.47" cy="183.66" r="1.25"/>
<circle cx="358.29" cy="186.28" r="1.25"/>
<circle cx="367.99" cy="193.04" r="1.25"/>
<circle cx="359.3" cy="187.54" r="1.25"/>
<circle cx="371.38" cy="193.37" r="1.25"/>
<circle cx="380.62" cy="192" r="1.25"/>
<circle cx="383.3" cy="190.49" r="1.25"/>
<circle cx="381.04" cy="193.84" r="1.25"/>
<circle cx="383.87" cy="191.37" r="1.25"/>
<circle cx="402.82" cy="184.86" r="1.25"/>
<circle cx="378.98" cy="191.43" r="1.25"/>
<circle cx="365.89" cy="188.33" r="1.25"/>
<circle cx="368.31" cy="185.79" r="1.25"/>
<circle cx="353.11" cy="181.51" r="1.25"/>
<circle cx="378.2" cy="194.18" r="1.25"/>
<circle cx="374.5" cy="192.94" r="1.25"/>
<circle cx="390.99" cy="193.41" r="1.25"/>
<circle cx="373.68" cy="189.09" r="1.25"/>
<circle cx="365.62" cy="190.17" r="1.25"/>
<circle cx="368.47" cy="190.75" r="1.25"/>
<circle cx="365.9" cy="181.69" r="1.25"/>
<circle cx="398.31" cy="177.17" r="1.25"/>
<circle cx="376.97" cy="191.61" r="1.25"/>
<circle cx="394.18" cy="191.39" r="1.25"/>
<circle cx="374.59" cy="185.46" r="1.25"/>
<circle cx="390.59" cy="183.06" r="1.25"/>
<circle cx="375.21" cy="190.41" r="1.25"/>
<circle cx="387.86" cy="185.02" r="1.25"/>
<circle cx="421.8" cy="149.82" r="1.25"/>
<circle cx="341.98" cy="165.46" r="1.25"/>
<circle cx="388.78" cy="185.97" r="1.25"/>
<circle cx="334.36" cy="148.21" r="1.25"/>
<circle cx="380.09" cy="188.4" r="1.25"/>
<circle cx="338.1" cy="142.64" r="1.25"/>
<circle cx="336.59" cy="149.43" r="1.25"/>
<circle cx="340.82" cy="153.14" r="1.25"/>
<circle cx="392.01" cy="173.28" r="1.25"/>
<circle cx="395.3" cy="168.41" r="1.25"/>
<circle cx="380.05" cy="186.48" r="1.25"/>
<circle cx="339.91" cy="165.85" r="1.25"/>
<circle cx="342.5" cy="159.41" r="1.25"/>
<circle cx="354.97" cy="174.54" r="1.25"/>
<circle cx="397.25" cy="169.59" r="1.25"/>
<circle cx="360.19" cy="179.37" r="1.25"/>
<circle cx="418.32" cy="143.48" r="1.25"/>
<circle cx="402.04" cy="178.38" r="1.25"/>
<circle cx="361.83" cy="171.44" r="1.25"/>
<circle cx="398.98" cy="173.61" r="1.25"/>
<circle cx="381.94" cy="186.5" r="1.25"/>
<circle cx="385.84" cy="183.72" r="1.25"/>
<circle cx="372.17" cy="180.83" r="1.25"/>
<circle cx="388.86" cy="177.6" r="1.25"/>
<circle cx="329.72" cy="164.92" r="1.25"/>
<circle cx="344.08" cy="160.83" r="1.25"/>
<circle cx="345.04" cy="146.26" r="1.25"/>
<circle cx="344.63" cy="147.21" r="1.25"/>
<circle cx="416.7" cy="162.48" r="1.25"/>
<circle cx="360.64" cy="164.08" r="1.25"/>
<circle cx="426.61" cy="153.29" r="1.25"/>
<circle cx="406.8" cy="159.44" r="1.25"/>
<circle cx="360.79" cy="177.18" r="1.25"/>
<circle cx="361.25" cy="174.74" r="1.25"/>
<circle cx="379.54" cy="187.61" r="1.25"/>
<circle cx="411.96" cy="166.59" r="1.25"/>
<circle cx="332.45" cy="134.12" r="1.25"/>
<circle cx="407" cy="168.72" r="1.25"/>
<circle cx="371.23" cy="182.05" r="1.25"/>
<circle cx="340.01" cy="156.7" r="1.25"/>
<circle cx="333.24" cy="157.55" r="1.25"/>
<circle cx="334.77" cy="161.09" r="1.25"/>
<circle cx="346.1" cy="158.82" r="1.25"/>
<circle cx="381.09" cy="185.32" r="1.25"/>
<circle cx="350.29" cy="156.88" r="1.25"/>
<circle cx="376.16" cy="193.21" r="1.25"/>
<circle cx="402.17" cy="170.74" r="1.25"/>
<circle cx="335.03" cy="158.8" r="1.25"/>
<circle cx="398.9" cy="172.22" r="1.25"/>
<circle cx="375.85" cy="187.73" r="1.25"/>
<circle cx="340.82" cy="157.84" r="1.25"/>
<circle cx="328.16" cy="137.34" r="1.25"/>
<circle cx="357.73" cy="166.53" r="1.25"/>
<circle cx="327.69" cy="155.66" r="1.25"/>
<circle cx="363.16" cy="177.35" r="1.25"/>
<circle cx="416.14" cy="169.76" r="1.25"/>
<circle cx="424.43" cy="144.18" r="1.25"/>
<circle cx="411.81" cy="163.54" r="1.25"/>
<circle cx="421.53" cy="154.07" r="1.25"/>
<circle cx="340.66" cy="153.27" r="1.25"/>
<circle cx="386.99" cy="189.14" r="1.25"/>
<circle cx="336.94" cy="142.38" r="1.25"/>
<circle cx="402.66" cy="164.36" r="1.25"/>
<circle cx="390.85" cy="184.45" r="1.25"/>
<circle cx="350.07" cy="153.05" r="1.25"/>
<circle cx="409.92" cy="167.11" r="1.25"/>
<circle cx="337.34" cy="161.63" r="1.25"/>
<circle cx="418.5" cy="167.87" r="1.25"/>
<circle cx="424.71" cy="160.36" r="1.25"/>
<circle cx="377.19" cy="192.4" r="1.25"/>
<circle cx="403.2" cy="180.26" r="1.25"/>
<circle cx="366.81" cy="175.22" r="1.25"/>
<circle cx="368.87" cy="178.68" r="1.25"/>
<circle cx="379.7" cy="188.11" r="1.25"/>
<circle cx="355.19" cy="156.67" r="1.25"/>
<circle cx="399.19" cy="166.91" r="1.25"/>
<circle cx="407.94" cy="179.17" r="1.25"/>
<circle cx="393.97" cy="179.65" r="1.25"/>
<circle cx="380.39" cy="192.37" r="1.25"/>
<circle cx="384.07" cy="179.38" r="1.25"/>
<circle cx="342.15" cy="153.02" r="1.25"/>
<circle cx="410.35" cy="164.9" r="1.25"/>
<circle cx="337.75" cy="137" r="1.25"/>
<circle cx="379.22" cy="188.64" r="1.25"/>
<circle cx="346.76" cy="163.29" r="1.25"/>
<circle cx="355.95" cy="170.99" r="1.25"/>
<circle cx="386.23" cy="184.5" r="1.25"/>
<circle cx="370.08" cy="176.18" r="1.25"/>
<circle cx="374.77" cy="186.33" r="1.25"/>
<circle cx="355.7" cy="162.64" r="1.25"/>
<circle cx="383.37" cy="190.8" r="1.25"/>
<circle cx="357.43" cy="179.06" r="1.25"/>
<circle cx="388.65" cy="180.04" r="1.25"/>
<circle cx="342.6" cy="161.41" r="1.25"/>
<circle cx="362.45" cy="180.75" r="1.25"/>
<circle cx="364.68" cy="176.79" r="1.25"/>
<circle cx="404.07" cy="159.49" r="1.25"/>
<circle cx="397.26" cy="166.49" r="1.25"/>
<circle cx="327.74" cy="146.09" r="1.25"/>
<circle cx="419.33" cy="151.44" r="1.25"/>
<circle cx="334.75" cy="142.41" r="1.25"/>
<circle cx="375.88" cy="183.08" r="1.25"/>
<circle cx="390.11" cy="173" r="1.25"/>
<circle cx="406.58" cy="165.52" r="1.25"/>
<circle cx="345.06" cy="161.33" r="1.25"/>
<circle cx="348.15" cy="158.42" r="1.25"/>
<circle cx="327.78" cy="137.57" r="1.25"/>
<circle cx="421.09" cy="170.98" r="1.25"/>
<circle cx="417.58" cy="161.2" r="1.25"/>
<circle cx="375.71" cy="185.84" r="1.25"/>
<circle cx="349.75" cy="149.46" r="1.25"/>
<circle cx="414.91" cy="158.53" r="1.25"/>
<circle cx="365.64" cy="175.74" r="1.25"/>
<circle cx="405.98" cy="161.48" r="1.25"/>
<circle cx="409.48" cy="171.01" r="1.25"/>
<circle cx="353.78" cy="162.5" r="1.25"/>
<circle cx="371.03" cy="188.92" r="1.25"/>
<circle cx="406.03" cy="163.88" r="1.25"/>
<circle cx="410.87" cy="166.26" r="1.25"/>
<circle cx="337.08" cy="155.83" r="1.25"/>
<circle cx="310.4" cy="123.1" r="1.25"/>
<circle cx="327.7" cy="137" r="1.25"/>
<circle cx="332.8" cy="155.3" r="1.25"/>
<circle cx="338.3" cy="157.4" r="1.25"/>
<circle cx="336.4" cy="161.8" r="1.25"/>
<circle cx="329.1" cy="166.2" r="1.25"/>
<circle cx="325.5" cy="172.8" r="1.25"/>
<circle cx="318.9" cy="181.5" r="1.25"/>
<circle cx="324.7" cy="185.9" r="1.25"/>
<circle cx="340.1" cy="190.7" r="1.25"/>
<circle cx="343.7" cy="161.8" r="1.25"/>
<circle cx="334" cy="158" r="1.25"/>
<circle cx="331" cy="160" r="1.25"/>
<circle cx="339" cy="166" r="1.25"/>
<circle cx="333" cy="170" r="1.25"/>
<circle cx="341" cy="172" r="1.25"/>
<circle cx="336" cy="176" r="1.25"/>
<circle cx="330" cy="179" r="1.25"/>
<circle cx="342" cy="182" r="1.25"/>
<circle cx="345" cy="164" r="1.25"/>
<circle cx="347" cy="158" r="1.25"/>
<circle cx="419" cy="150" r="1.25"/>
<circle cx="428" cy="163" r="1.25"/>
<circle cx="432" cy="166" r="1.25"/>
<circle cx="436" cy="170" r="1.25"/>
<circle cx="440" cy="160" r="1.25"/>
<circle cx="426" cy="175" r="1.25"/>
<circle cx="432" cy="178" r="1.25"/>
<circle cx="440" cy="182" r="1.25"/>
<circle cx="452" cy="182" r="1.25"/>
<circle cx="466" cy="190" r="1.25"/>
<circle cx="447" cy="171" r="1.25"/>
<circle cx="420" cy="168" r="1.25"/>
<circle cx="415" cy="172" r="1.25"/>
<circle cx="446" cy="152" r="1.25"/>
</g>
<circle cx="385.38" cy="190.73" r="1.1" fill="#e8463e" fill-opacity="0.5"/>
<circle cx="404.59" cy="173.07" r="1.1" fill="#e8463e" fill-opacity="0.5"/>
<circle cx="363.65" cy="188.05" r="1.1" fill="#e8463e" fill-opacity="0.5"/>
<circle cx="367.19" cy="185.22" r="1.1" fill="#e8463e" fill-opacity="0.5"/>
<circle cx="389.72" cy="186.87" r="1.1" fill="#e8463e" fill-opacity="0.5"/>
<circle cx="381.38" cy="193.41" r="1.1" fill="#e8463e" fill-opacity="0.5"/>
<circle cx="396.83" cy="185.3" r="1.1" fill="#e8463e" fill-opacity="0.5"/>
<circle cx="370.82" cy="187.24" r="1.1" fill="#e8463e" fill-opacity="0.5"/>
<circle cx="374.67" cy="189.82" r="1.1" fill="#e8463e" fill-opacity="0.5"/>
<circle cx="407.31" cy="169.54" r="1.1" fill="#e8463e" fill-opacity="0.5"/>
<circle cx="391.44" cy="184.47" r="1.1" fill="#e8463e" fill-opacity="0.5"/>
<circle cx="398.85" cy="182.04" r="1.1" fill="#e8463e" fill-opacity="0.5"/>
<circle cx="368.18" cy="187.08" r="1.1" fill="#e8463e" fill-opacity="0.5"/>
<circle cx="397.88" cy="175.25" r="1.1" fill="#e8463e" fill-opacity="0.5"/>
<circle cx="383.42" cy="189.63" r="1.1" fill="#e8463e" fill-opacity="0.5"/>
<circle cx="373.33" cy="189.77" r="1.1" fill="#e8463e" fill-opacity="0.5"/>
<circle cx="376.72" cy="193.37" r="1.1" fill="#e8463e" fill-opacity="0.5"/>
<circle cx="405.53" cy="175.77" r="1.1" fill="#e8463e" fill-opacity="0.5"/>
<circle cx="405.2" cy="170.76" r="1.1" fill="#e8463e" fill-opacity="0.5"/>
<circle cx="386.75" cy="187.78" r="1.1" fill="#e8463e" fill-opacity="0.5"/>
<circle cx="364.46" cy="188.15" r="1.1" fill="#e8463e" fill-opacity="0.5"/>
<circle cx="368.67" cy="183.82" r="1.1" fill="#e8463e" fill-opacity="0.5"/>
<circle cx="391.75" cy="181.94" r="1.1" fill="#e8463e" fill-opacity="0.5"/>
<circle cx="405.96" cy="170.17" r="1.1" fill="#e8463e" fill-opacity="0.5"/>
<circle cx="373.01" cy="189.45" r="1.1" fill="#e8463e" fill-opacity="0.5"/>
<circle cx="389.03" cy="186.76" r="1.1" fill="#e8463e" fill-opacity="0.5"/>
<circle cx="364.17" cy="179.42" r="1.1" fill="#e8463e" fill-opacity="0.5"/>
<circle cx="407.18" cy="170.24" r="1.1" fill="#e8463e" fill-opacity="0.5"/>
<circle cx="383.34" cy="194.24" r="1.1" fill="#e8463e" fill-opacity="0.5"/>
<circle cx="367.79" cy="183.35" r="1.1" fill="#e8463e" fill-opacity="0.5"/>
<circle cx="390.94" cy="183.49" r="1.1" fill="#e8463e" fill-opacity="0.5"/>
<circle cx="408.96" cy="166.57" r="1.1" fill="#e8463e" fill-opacity="0.5"/>
<circle cx="365.92" cy="187.55" r="1.1" fill="#e8463e" fill-opacity="0.5"/>
<circle cx="370.45" cy="189.35" r="1.1" fill="#e8463e" fill-opacity="0.5"/>
<circle cx="376.11" cy="185" r="1.1" fill="#e8463e" fill-opacity="0.5"/>
<circle cx="369.12" cy="187.2" r="1.1" fill="#e8463e" fill-opacity="0.5"/>
<circle cx="396.92" cy="178.37" r="1.1" fill="#e8463e" fill-opacity="0.5"/>
<circle cx="392.43" cy="184.75" r="1.1" fill="#e8463e" fill-opacity="0.5"/>
<circle cx="365.39" cy="186.28" r="1.1" fill="#e8463e" fill-opacity="0.5"/>
<circle cx="391.44" cy="181.73" r="1.1" fill="#e8463e" fill-opacity="0.5"/>
<circle cx="400.21" cy="175.35" r="1.1" fill="#e8463e" fill-opacity="0.5"/>
<circle cx="404.47" cy="172.87" r="1.1" fill="#e8463e" fill-opacity="0.5"/>
<circle cx="391.15" cy="187.87" r="1.1" fill="#e8463e" fill-opacity="0.5"/>
<circle cx="410.28" cy="168.74" r="1.1" fill="#e8463e" fill-opacity="0.5"/>
<circle cx="390.68" cy="180.5" r="1.1" fill="#e8463e" fill-opacity="0.5"/>
<circle cx="378.99" cy="194.26" r="1.1" fill="#e8463e" fill-opacity="0.5"/>
<circle cx="383.98" cy="190.24" r="1.1" fill="#e8463e" fill-opacity="0.5"/>
<circle cx="378.8" cy="192.57" r="1.1" fill="#e8463e" fill-opacity="0.5"/>
<circle cx="367.57" cy="186.35" r="1.1" fill="#e8463e" fill-opacity="0.5"/>
<circle cx="400.66" cy="178.62" r="1.1" fill="#e8463e" fill-opacity="0.5"/>
<circle cx="364.55" cy="181.68" r="1.1" fill="#e8463e" fill-opacity="0.5"/>
<circle cx="387.01" cy="193.17" r="1.1" fill="#e8463e" fill-opacity="0.5"/>
<circle cx="397.11" cy="180.31" r="1.1" fill="#e8463e" fill-opacity="0.5"/>
<circle cx="383.57" cy="187.08" r="1.1" fill="#e8463e" fill-opacity="0.5"/>
<circle cx="374.33" cy="189.31" r="1.1" fill="#e8463e" fill-opacity="0.5"/>
<circle cx="381.09" cy="193.71" r="1.1" fill="#e8463e" fill-opacity="0.5"/>
<circle cx="404.27" cy="178.07" r="1.1" fill="#e8463e" fill-opacity="0.5"/>
<circle cx="371.48" cy="186.3" r="1.1" fill="#e8463e" fill-opacity="0.5"/>
<circle cx="403.48" cy="175.34" r="1.1" fill="#e8463e" fill-opacity="0.5"/>
<circle cx="409.76" cy="169.1" r="1.1" fill="#e8463e" fill-opacity="0.5"/>
<circle cx="371.56" cy="182.06" r="1.1" fill="#e8463e" fill-opacity="0.5"/>
<circle cx="392.21" cy="187.05" r="1.1" fill="#e8463e" fill-opacity="0.5"/>
<circle cx="363.91" cy="180.24" r="1.1" fill="#e8463e" fill-opacity="0.5"/>
<circle cx="381.85" cy="191.94" r="1.1" fill="#e8463e" fill-opacity="0.5"/>
<circle cx="392.45" cy="181.45" r="1.1" fill="#e8463e" fill-opacity="0.5"/>
<circle cx="370.03" cy="188.27" r="1.1" fill="#e8463e" fill-opacity="0.5"/>
<circle cx="390.09" cy="185.21" r="1.1" fill="#e8463e" fill-opacity="0.5"/>
<circle cx="389.8" cy="185.31" r="1.1" fill="#e8463e" fill-opacity="0.5"/>
<circle cx="396.47" cy="177.82" r="1.1" fill="#e8463e" fill-opacity="0.5"/>
<circle cx="396.84" cy="179.24" r="1.1" fill="#e8463e" fill-opacity="0.5"/>
<circle cx="399.71" cy="183.23" r="1.1" fill="#e8463e" fill-opacity="0.5"/>
<circle cx="371.39" cy="185.39" r="1.1" fill="#e8463e" fill-opacity="0.5"/>
<circle cx="397.4" cy="179.27" r="1.1" fill="#e8463e" fill-opacity="0.5"/>
<circle cx="386.88" cy="193.95" r="1.1" fill="#e8463e" fill-opacity="0.5"/>
<circle cx="368.06" cy="182.75" r="1.1" fill="#e8463e" fill-opacity="0.5"/>
<circle cx="371.59" cy="188.25" r="1.1" fill="#e8463e" fill-opacity="0.5"/>
<circle cx="393.31" cy="179.02" r="1.1" fill="#e8463e" fill-opacity="0.5"/>
<circle cx="373.93" cy="189.18" r="1.1" fill="#e8463e" fill-opacity="0.5"/>
<circle cx="363.96" cy="180.7" r="1.1" fill="#e8463e" fill-opacity="0.5"/>
<circle cx="389.96" cy="183.34" r="1.1" fill="#e8463e" fill-opacity="0.5"/>
<circle cx="381.82" cy="191.29" r="1.1" fill="#e8463e" fill-opacity="0.5"/>
<circle cx="408.39" cy="167.75" r="1.1" fill="#e8463e" fill-opacity="0.5"/>
<circle cx="388.83" cy="186.37" r="1.1" fill="#e8463e" fill-opacity="0.5"/>
<circle cx="410.61" cy="169.89" r="1.1" fill="#e8463e" fill-opacity="0.5"/>
<circle cx="405.66" cy="177.56" r="1.1" fill="#e8463e" fill-opacity="0.5"/>
<circle cx="435.1" cy="126.4" r="1.3" fill="#f0625a"/>
<circle cx="430.4" cy="150.7" r="1.3" fill="#f0625a"/>
<rect x="300.3" y="56.9" width="120.6" height="47.2" fill="#f0f0f0" stroke="#d6d6d6" stroke-width="0.8" />
<circle cx="306.6" cy="65.2" r="3.2" fill="#6d2383"/>
<text x="315.5" y="68.9" font-size="10.6" fill="#2a2a2a" textLength="98" lengthAdjust="spacingAndGlyphs" >Core SURF complex</text>
<circle cx="306.6" cy="79.8" r="3.2" fill="#e3202a"/>
<text x="315.5" y="83.5" font-size="10.6" fill="#2a2a2a" textLength="67" lengthAdjust="spacingAndGlyphs" >NMD pathway</text>
<circle cx="306.6" cy="94.4" r="3.2" fill="#9a9a9a"/>
<text x="315.5" y="98.1" font-size="10.6" fill="#2a2a2a" textLength="60.7" lengthAdjust="spacingAndGlyphs" >Other genes</text>
<circle cx="457.7" cy="69.9" r="1.6" fill="#6a1b7a"/>
<circle cx="433" cy="132.8" r="1.6" fill="#6a1b7a"/>
<circle cx="412.9" cy="154.2" r="1.6" fill="#6a1b7a"/>
<circle cx="424.3" cy="154" r="1.6" fill="#6a1b7a"/>
<circle cx="405" cy="176.6" r="1.6" fill="#6a1b7a"/>
<circle cx="394.3" cy="183.6" r="1.6" fill="#6a1b7a"/>
<circle cx="382.9" cy="191.8" r="1.6" fill="#6a1b7a"/>
<text x="460.1" y="68.9" font-size="10.2" fill="#2a2a2a" textLength="29.7" lengthAdjust="spacingAndGlyphs" >SMG8</text>
<text x="436.4" y="139.5" font-size="10.2" fill="#2a2a2a" textLength="32.3" lengthAdjust="spacingAndGlyphs" >UPF3B</text>
<text x="382.6" y="154.2" font-size="10.2" fill="#2a2a2a" textLength="28.5" lengthAdjust="spacingAndGlyphs" >SMG5</text>
<text x="426.9" y="164.3" font-size="10.2" fill="#2a2a2a" textLength="29.5" lengthAdjust="spacingAndGlyphs" >SMG9</text>
<text x="381.7" y="174.7" font-size="10.2" fill="#2a2a2a" textLength="24" lengthAdjust="spacingAndGlyphs" >UPF1</text>
<text x="357.7" y="188.3" font-size="10.2" fill="#2a2a2a" textLength="28.5" lengthAdjust="spacingAndGlyphs" >SMG7</text>
<text x="394.8" y="193.6" font-size="10.2" fill="#2a2a2a" textLength="24.5" lengthAdjust="spacingAndGlyphs" >UPF2</text>
<path d="M296.8,52.3 H479.7 V195.4 H296.8" fill="none" stroke="#5f5f5f" stroke-width="1"/>
<line x1="296.8" y1="52.3" x2="296.8" y2="195.4" stroke="#a9a9a9" stroke-width="1.6" />
<line x1="310.3" y1="195.4" x2="310.3" y2="198.7" stroke="#5f5f5f" stroke-width="1" />
<text x="310.3" y="212" font-size="9" text-anchor="middle" fill="#333" >−1.0</text>
<line x1="344.3" y1="195.4" x2="344.3" y2="198.7" stroke="#5f5f5f" stroke-width="1" />
<text x="344.3" y="212" font-size="9" text-anchor="middle" fill="#333" >−0.5</text>
<line x1="378.3" y1="195.4" x2="378.3" y2="198.7" stroke="#5f5f5f" stroke-width="1" />
<text x="378.3" y="212" font-size="9" text-anchor="middle" fill="#333" >0</text>
<line x1="412.3" y1="195.4" x2="412.3" y2="198.7" stroke="#5f5f5f" stroke-width="1" />
<text x="412.3" y="212" font-size="9" text-anchor="middle" fill="#333" >0.5</text>
<line x1="446.3" y1="195.4" x2="446.3" y2="198.7" stroke="#5f5f5f" stroke-width="1" />
<text x="446.3" y="212" font-size="9" text-anchor="middle" fill="#333" >1.0</text>
<line x1="480.3" y1="195.4" x2="480.3" y2="198.7" stroke="#5f5f5f" stroke-width="1" />
<text x="480.3" y="212" font-size="9" text-anchor="middle" fill="#333" >1.5</text>
<line x1="293.5" y1="195.4" x2="296.8" y2="195.4" stroke="#5f5f5f" stroke-width="1" />
<text x="289" y="198.6" font-size="9" text-anchor="end" fill="#333" >0</text>
<line x1="293.5" y1="166.8" x2="296.8" y2="166.8" stroke="#5f5f5f" stroke-width="1" />
<text x="289" y="170" font-size="9" text-anchor="end" fill="#333" >1</text>
<line x1="293.5" y1="138.2" x2="296.8" y2="138.2" stroke="#5f5f5f" stroke-width="1" />
<text x="289" y="141.4" font-size="9" text-anchor="end" fill="#333" >2</text>
<line x1="293.5" y1="109.6" x2="296.8" y2="109.6" stroke="#5f5f5f" stroke-width="1" />
<text x="289" y="112.8" font-size="9" text-anchor="end" fill="#333" >3</text>
<line x1="293.5" y1="81" x2="296.8" y2="81" stroke="#5f5f5f" stroke-width="1" />
<text x="289" y="84.2" font-size="9" text-anchor="end" fill="#333" >4</text>
<line x1="293.5" y1="52.4" x2="296.8" y2="52.4" stroke="#5f5f5f" stroke-width="1" />
<text x="289" y="55.6" font-size="9" text-anchor="end" fill="#333" >5</text>
<text x="388.25" y="226.5" font-size="10.5" text-anchor="middle" fill="#2a2a2a" textLength="81" lengthAdjust="spacingAndGlyphs" >log(fold change)</text>
<text transform="translate(274.3,123.8) rotate(-90)" font-size="10.5" text-anchor="middle" fill="#2a2a2a" >−log <tspan font-style="italic">P</tspan></text>
<line x1="286.4" y1="304.2" x2="286.4" y2="307.5" stroke="#5f5f5f" stroke-width="1" />
<text x="286.4" y="318.8" font-size="9" text-anchor="middle" fill="#333" >0</text>
<line x1="338.3" y1="304.2" x2="338.3" y2="307.5" stroke="#5f5f5f" stroke-width="1" />
<text x="338.3" y="318.8" font-size="9" text-anchor="middle" fill="#333" >5,000</text>
<line x1="390.2" y1="304.2" x2="390.2" y2="307.5" stroke="#5f5f5f" stroke-width="1" />
<text x="390.2" y="318.8" font-size="9" text-anchor="middle" fill="#333" >10,000</text>
<line x1="442.1" y1="304.2" x2="442.1" y2="307.5" stroke="#5f5f5f" stroke-width="1" />
<text x="442.1" y="318.8" font-size="9" text-anchor="middle" fill="#333" >15,000</text>
<line x1="273.3" y1="252.4" x2="276.6" y2="252.4" stroke="#5f5f5f" stroke-width="1" />
<text x="268.8" y="255.6" font-size="9" text-anchor="end" fill="#333" >0</text>
<line x1="273.3" y1="270.3" x2="276.6" y2="270.3" stroke="#5f5f5f" stroke-width="1" />
<text x="268.8" y="273.5" font-size="9" text-anchor="end" fill="#333" >−0.2</text>
<line x1="273.3" y1="288.2" x2="276.6" y2="288.2" stroke="#5f5f5f" stroke-width="1" />
<text x="268.8" y="291.4" font-size="9" text-anchor="end" fill="#333" >−0.4</text>
<line x1="276.6" y1="252.4" x2="493.7" y2="252.4" stroke="#3a3a3a" stroke-width="0.8" />
<line x1="291.6" y1="249" x2="291.6" y2="255.8" stroke="#111" stroke-width="0.6" stroke-opacity="0.86"/>
<line x1="294.2" y1="249" x2="294.2" y2="255.8" stroke="#111" stroke-width="0.6" stroke-opacity="0.87"/>
<line x1="296.8" y1="249" x2="296.8" y2="255.8" stroke="#111" stroke-width="0.6" stroke-opacity="0.72"/>
<line x1="303.4" y1="249" x2="303.4" y2="255.8" stroke="#111" stroke-width="0.6" stroke-opacity="0.62"/>
<line x1="307.8" y1="249" x2="307.8" y2="255.8" stroke="#111" stroke-width="0.6" stroke-opacity="0.5"/>
<line x1="312.1" y1="249" x2="312.1" y2="255.8" stroke="#111" stroke-width="0.6" stroke-opacity="0.8"/>
<line x1="314.3" y1="249" x2="314.3" y2="255.8" stroke="#111" stroke-width="0.6" stroke-opacity="0.71"/>
<line x1="318.3" y1="249" x2="318.3" y2="255.8" stroke="#111" stroke-width="0.6" stroke-opacity="0.84"/>
<line x1="320.9" y1="249" x2="320.9" y2="255.8" stroke="#111" stroke-width="0.6" stroke-opacity="0.67"/>
<line x1="326.6" y1="249" x2="326.6" y2="255.8" stroke="#111" stroke-width="0.6" stroke-opacity="0.85"/>
<line x1="331.4" y1="249" x2="331.4" y2="255.8" stroke="#111" stroke-width="0.6" stroke-opacity="0.62"/>
<line x1="333.6" y1="249" x2="333.6" y2="255.8" stroke="#111" stroke-width="0.6" stroke-opacity="0.86"/>
<line x1="336.7" y1="249" x2="336.7" y2="255.8" stroke="#111" stroke-width="0.6" stroke-opacity="0.83"/>
<line x1="341.3" y1="249" x2="341.3" y2="255.8" stroke="#111" stroke-width="0.6" stroke-opacity="0.69"/>
<line x1="344.4" y1="249" x2="344.4" y2="255.8" stroke="#111" stroke-width="0.6" stroke-opacity="0.74"/>
<line x1="346.3" y1="249" x2="346.3" y2="255.8" stroke="#111" stroke-width="0.6" stroke-opacity="0.81"/>
<line x1="349.8" y1="249" x2="349.8" y2="255.8" stroke="#111" stroke-width="0.6" stroke-opacity="0.59"/>
<line x1="351.4" y1="249" x2="351.4" y2="255.8" stroke="#111" stroke-width="0.6" stroke-opacity="0.75"/>
<line x1="352.7" y1="249" x2="352.7" y2="255.8" stroke="#111" stroke-width="0.6" stroke-opacity="0.86"/>
<line x1="364.1" y1="249" x2="364.1" y2="255.8" stroke="#111" stroke-width="0.6" stroke-opacity="0.62"/>
<line x1="365.4" y1="249" x2="365.4" y2="255.8" stroke="#111" stroke-width="0.6" stroke-opacity="0.86"/>
<line x1="367.6" y1="249" x2="367.6" y2="255.8" stroke="#111" stroke-width="0.6" stroke-opacity="0.81"/>
<line x1="369.8" y1="249" x2="369.8" y2="255.8" stroke="#111" stroke-width="0.6" stroke-opacity="0.88"/>
<line x1="370.6" y1="249" x2="370.6" y2="255.8" stroke="#111" stroke-width="0.6" stroke-opacity="0.65"/>
<line x1="382.5" y1="249" x2="382.5" y2="255.8" stroke="#111" stroke-width="0.6" stroke-opacity="0.54"/>
<line x1="385.5" y1="249" x2="385.5" y2="255.8" stroke="#111" stroke-width="0.6" stroke-opacity="0.86"/>
<line x1="386.8" y1="249" x2="386.8" y2="255.8" stroke="#111" stroke-width="0.6" stroke-opacity="0.86"/>
<line x1="388.2" y1="249" x2="388.2" y2="255.8" stroke="#111" stroke-width="0.6" stroke-opacity="0.7"/>
<line x1="389.5" y1="249" x2="389.5" y2="255.8" stroke="#111" stroke-width="0.6" stroke-opacity="0.54"/>
<line x1="390.4" y1="249" x2="390.4" y2="255.8" stroke="#111" stroke-width="0.6" stroke-opacity="0.59"/>
<line x1="395.6" y1="249" x2="395.6" y2="255.8" stroke="#111" stroke-width="0.6" stroke-opacity="0.79"/>
<line x1="396.9" y1="249" x2="396.9" y2="255.8" stroke="#111" stroke-width="0.6" stroke-opacity="0.63"/>
<line x1="405.5" y1="249" x2="405.5" y2="255.8" stroke="#111" stroke-width="0.6" stroke-opacity="0.93"/>
<line x1="410.3" y1="249" x2="410.3" y2="255.8" stroke="#111" stroke-width="0.6" stroke-opacity="0.76"/>
<line x1="412.5" y1="249" x2="412.5" y2="255.8" stroke="#111" stroke-width="0.6" stroke-opacity="0.59"/>
<line x1="414.3" y1="249" x2="414.3" y2="255.8" stroke="#111" stroke-width="0.6" stroke-opacity="0.79"/>
<line x1="417.3" y1="249" x2="417.3" y2="255.8" stroke="#111" stroke-width="0.6" stroke-opacity="0.66"/>
<line x1="418.6" y1="249" x2="418.6" y2="255.8" stroke="#111" stroke-width="0.6" stroke-opacity="0.92"/>
<line x1="420.4" y1="249" x2="420.4" y2="255.8" stroke="#111" stroke-width="0.6" stroke-opacity="0.91"/>
<line x1="421.7" y1="249" x2="421.7" y2="255.8" stroke="#111" stroke-width="0.6" stroke-opacity="0.73"/>
<line x1="424.8" y1="249" x2="424.8" y2="255.8" stroke="#111" stroke-width="0.6" stroke-opacity="0.79"/>
<line x1="426.1" y1="249" x2="426.1" y2="255.8" stroke="#111" stroke-width="0.6" stroke-opacity="0.81"/>
<line x1="428.7" y1="249" x2="428.7" y2="255.8" stroke="#111" stroke-width="0.6" stroke-opacity="0.86"/>
<line x1="430" y1="249" x2="430" y2="255.8" stroke="#111" stroke-width="0.6" stroke-opacity="0.94"/>
<line x1="432.7" y1="249" x2="432.7" y2="255.8" stroke="#111" stroke-width="0.6" stroke-opacity="0.51"/>
<line x1="439.2" y1="249" x2="439.2" y2="255.8" stroke="#111" stroke-width="0.6" stroke-opacity="0.66"/>
<line x1="440.5" y1="249" x2="440.5" y2="255.8" stroke="#111" stroke-width="0.6" stroke-opacity="0.77"/>
<line x1="444.5" y1="249" x2="444.5" y2="255.8" stroke="#111" stroke-width="0.6" stroke-opacity="0.64"/>
<line x1="446.2" y1="249" x2="446.2" y2="255.8" stroke="#111" stroke-width="0.6" stroke-opacity="0.77"/>
<line x1="447.5" y1="249" x2="447.5" y2="255.8" stroke="#111" stroke-width="0.6" stroke-opacity="0.54"/>
<line x1="448.9" y1="249" x2="448.9" y2="255.8" stroke="#111" stroke-width="0.6" stroke-opacity="0.9"/>
<line x1="451.4" y1="249" x2="451.4" y2="255.8" stroke="#111" stroke-width="0.6" stroke-opacity="0.74"/>
<line x1="455.6" y1="249" x2="455.6" y2="255.8" stroke="#111" stroke-width="0.6" stroke-opacity="0.55"/>
<line x1="456.6" y1="249" x2="456.6" y2="255.8" stroke="#111" stroke-width="0.6" stroke-opacity="0.8"/>
<line x1="457.6" y1="249" x2="457.6" y2="255.8" stroke="#111" stroke-width="0.6" stroke-opacity="0.64"/>
<line x1="459.5" y1="249" x2="459.5" y2="255.8" stroke="#111" stroke-width="0.6" stroke-opacity="0.59"/>
<line x1="460.8" y1="249" x2="460.8" y2="255.8" stroke="#111" stroke-width="0.6" stroke-opacity="0.72"/>
<line x1="461.8" y1="249" x2="461.8" y2="255.8" stroke="#111" stroke-width="0.6" stroke-opacity="0.56"/>
<line x1="463.5" y1="249" x2="463.5" y2="255.8" stroke="#111" stroke-width="0.6" stroke-opacity="0.59"/>
<line x1="464.8" y1="249" x2="464.8" y2="255.8" stroke="#111" stroke-width="0.6" stroke-opacity="0.89"/>
<line x1="466.1" y1="249" x2="466.1" y2="255.8" stroke="#111" stroke-width="0.6" stroke-opacity="0.81"/>
<line x1="470.4" y1="249" x2="470.4" y2="255.8" stroke="#111" stroke-width="0.6" stroke-opacity="0.51"/>
<line x1="474" y1="249" x2="474" y2="255.8" stroke="#111" stroke-width="0.6" stroke-opacity="0.85"/>
<line x1="475" y1="249" x2="475" y2="255.8" stroke="#111" stroke-width="0.6" stroke-opacity="0.51"/>
<line x1="477.4" y1="249" x2="477.4" y2="255.8" stroke="#111" stroke-width="0.6" stroke-opacity="0.65"/>
<line x1="481.5" y1="249" x2="481.5" y2="255.8" stroke="#111" stroke-width="0.6" stroke-opacity="0.91"/>
<line x1="483.5" y1="249" x2="483.5" y2="255.8" stroke="#111" stroke-width="0.6" stroke-opacity="0.78"/>
<path d="M286.4,252.4 L287.79,253.09 L289.17,253.77 L290.56,254.46 L291.94,255.14 L293.33,255.83 L294.71,256.51 L296.1,257.2 L297.43,257.88 L298.77,258.55 L300.1,259.23 L301.43,259.9 L302.77,260.57 L304.1,261.25 L305.43,261.93 L306.77,262.6 L308.1,263.27 L309.43,263.95 L310.77,264.62 L312.1,265.3 L313.44,265.9 L314.78,266.5 L316.12,267.1 L317.47,267.7 L318.81,268.3 L320.15,268.9 L321.49,269.5 L322.83,270.1 L324.18,270.7 L325.52,271.3 L326.86,271.9 L328.2,272.5 L329.53,273.03 L330.87,273.57 L332.2,274.1 L333.53,274.63 L334.87,275.17 L336.2,275.7 L337.53,276.23 L338.87,276.77 L340.2,277.3 L341.53,277.83 L342.87,278.37 L344.2,278.9 L345.54,279.32 L346.88,279.75 L348.23,280.17 L349.57,280.6 L350.91,281.02 L352.25,281.45 L353.59,281.88 L354.93,282.3 L356.27,282.73 L357.62,283.15 L358.96,283.57 L360.3,284 L361.9,284.43 L363.5,284.87 L365.1,285.3 L366.7,285.57 L368.3,285.83 L369.9,286.1 L371.2,286.74 L372.5,287.38 L373.8,288.02 L375.1,288.66 L376.4,289.3 L378,290 L379.6,290.7 L381.2,291.43 L382.8,292.47 L384.23,292.74 L385.67,292.01 L387.1,292.67 L388.53,292.68 L389.97,292.71 L391.4,292.13 L392.79,292.38 L394.17,293.15 L395.56,293.92 L396.94,293.67 L398.33,294.32 L399.71,294.44 L401.1,295.42 L402.43,295.98 L403.77,295.78 L405.1,296.95 L406.43,296.27 L407.77,297.63 L409.1,298.15 L410.43,297.41 L411.77,298.21 L413.1,298.17 L414.43,298.78 L415.77,298.02 L417.1,298.55 L418.49,298.92 L419.87,298.58 L421.26,298.14 L422.64,297.83 L424.03,298.81 L425.41,298.21 L426.8,298.8 L428.4,297.97 L430,298.97 L431.6,299.18 L433.2,299.5 L434.8,298.95 L436.4,299.9 L438,300.04 L439.6,301.4 L441.2,300.59 L442.8,300.98 L444.4,299.95 L446,299.8 L447.6,299.27 L449.2,297.89 L450.55,297.87 L451.9,297.95 L453.25,297.03 L454.6,296.43 L455.95,295.92 L457.3,296.14 L458.63,295.16 L459.97,295.39 L461.3,295.07 L462.63,294.8 L463.97,294.02 L465.3,294.39 L466.9,294.4 L468.5,293.38 L470.1,293.1 L471.7,293.49 L473.3,292.09 L474.9,290.73 L477.3,285.51 L479.7,284 L482.2,282.1 L483,278.1 L483.3,266.1 L483.3,252.4" fill="none" stroke="#8c8c8c" stroke-width="1.1" stroke-linejoin="round"/>
<line x1="276.6" y1="247.5" x2="276.6" y2="304.2" stroke="#5f5f5f" stroke-width="1" />
<line x1="276.6" y1="304.2" x2="493.7" y2="304.2" stroke="#5f5f5f" stroke-width="1" />
<text x="312.6" y="283.5" font-size="9.4" text-anchor="middle" fill="#4d4d4d" textLength="47.5" lengthAdjust="spacingAndGlyphs" >Enrichment</text>
<text x="312.6" y="294.03" font-size="9.4" text-anchor="middle" fill="#4d4d4d" >score</text>
<text x="427.5" y="280.9" font-size="12.8" fill="#2a2a2a" textLength="30.5" lengthAdjust="spacingAndGlyphs" >NMD</text>
<rect x="556.7" y="89.3" width="21.6" height="100.5" fill="#cbc7e3" />
<rect x="578.3" y="89.3" width="22.2" height="100.5" fill="#c3e3ec" />
<rect x="605.3" y="109.4" width="21.6" height="80.4" fill="#cbc7e3" />
<rect x="626.9" y="66.19" width="22.4" height="123.61" fill="#c3e3ec" />
<circle cx="566.2" cy="85.9" r="2.7" fill="#5c57aa"/>
<circle cx="566.2" cy="93.2" r="2.7" fill="#5c57aa"/>
<circle cx="614" cy="106.9" r="2.7" fill="#5c57aa"/>
<circle cx="616.1" cy="111" r="2.7" fill="#5c57aa"/>
<circle cx="591" cy="84.8" r="2.7" fill="#3ea7c6"/>
<circle cx="591" cy="93.7" r="2.7" fill="#3ea7c6"/>
<circle cx="639.6" cy="63.5" r="2.7" fill="#3ea7c6"/>
<circle cx="639.6" cy="69.7" r="2.7" fill="#3ea7c6"/>
<line x1="549.1" y1="24" x2="549.1" y2="197.3" stroke="#5f5f5f" stroke-width="1" />
<line x1="549.1" y1="197.3" x2="656.6" y2="197.3" stroke="#5f5f5f" stroke-width="1" />
<line x1="545.8" y1="189.8" x2="549.1" y2="189.8" stroke="#5f5f5f" stroke-width="1" />
<text x="542.3" y="193" font-size="9" text-anchor="end" fill="#333" >0</text>
<line x1="545.8" y1="149.6" x2="549.1" y2="149.6" stroke="#5f5f5f" stroke-width="1" />
<text x="542.3" y="152.8" font-size="9" text-anchor="end" fill="#333" >0.2</text>
<line x1="545.8" y1="109.4" x2="549.1" y2="109.4" stroke="#5f5f5f" stroke-width="1" />
<text x="542.3" y="112.6" font-size="9" text-anchor="end" fill="#333" >0.4</text>
<line x1="545.8" y1="69.2" x2="549.1" y2="69.2" stroke="#5f5f5f" stroke-width="1" />
<text x="542.3" y="72.4" font-size="9" text-anchor="end" fill="#333" >0.6</text>
<line x1="545.8" y1="29" x2="549.1" y2="29" stroke="#5f5f5f" stroke-width="1" />
<text x="542.3" y="32.2" font-size="9" text-anchor="end" fill="#333" >0.8</text>
<line x1="578.3" y1="197.3" x2="578.3" y2="200.6" stroke="#5f5f5f" stroke-width="1" />
<line x1="627.5" y1="197.3" x2="627.5" y2="200.6" stroke="#5f5f5f" stroke-width="1" />
<text transform="translate(585,213) rotate(-45)" font-size="10" text-anchor="end" fill="#2a2a2a" textLength="23.5" lengthAdjust="spacingAndGlyphs" >Input</text>
<text transform="translate(631.5,212.5) rotate(-45)" font-size="10" text-anchor="end" fill="#2a2a2a" >IP</text>
<text x="554.8" y="44" font-size="9" fill="#2a2a2a" textLength="50" lengthAdjust="spacingAndGlyphs" >logFC = 0.41</text>
<text x="554.8" y="57.5" font-size="8.8" fill="#2a2a2a" textLength="38" lengthAdjust="spacingAndGlyphs" ><tspan font-style="italic">P</tspan> &lt; 2e−16</text>
<text transform="translate(521.8,110.3) rotate(-90)" font-size="11" text-anchor="middle" fill="#2a2a2a" textLength="156.5" lengthAdjust="spacingAndGlyphs" >Fraction of variant in population</text>
<text x="539.7" y="269.1" font-size="10.8" fill="#2a2a2a" textLength="49.8" lengthAdjust="spacingAndGlyphs" >Sequence</text>
<text x="539.7" y="281.3" font-size="10.8" fill="#2a2a2a" textLength="33.5" lengthAdjust="spacingAndGlyphs" >variant</text>
<rect x="602" y="250.8" width="16.3" height="16.2" fill="#cbc7e3" />
<circle cx="610.2" cy="258.9" r="2.6" fill="#5c57aa"/>
<rect x="602" y="274" width="16.3" height="15.4" fill="#c3e3ec" />
<circle cx="610.2" cy="281.7" r="2.6" fill="#3ea7c6"/>
<text x="624.2" y="256.2" font-size="8.8" fill="#2a2a2a" >Box 2</text>
<text x="624.2" y="266.6" font-size="8.8" fill="#2a2a2a" textLength="28.7" lengthAdjust="spacingAndGlyphs" >mutant</text>
<text x="623.4" y="284.8" font-size="8.8" fill="#2a2a2a" textLength="39.4" lengthAdjust="spacingAndGlyphs" >Wild type</text>
<rect x="78.4" y="397.1" width="19" height="151.5" fill="#fff" stroke="#8a8a8a" stroke-width="0.9" />
<rect x="101.9" y="438.6" width="19.1" height="110" fill="#fff" stroke="#8a8a8a" stroke-width="0.9" />
<rect x="125.5" y="452.6" width="19.1" height="96" fill="#fff" stroke="#8a8a8a" stroke-width="0.9" />
<rect x="149" y="452.1" width="19.7" height="96.5" fill="#fff" stroke="#8a8a8a" stroke-width="0.9" />
<rect x="173.1" y="467.6" width="19.2" height="81" fill="#fff" stroke="#8a8a8a" stroke-width="0.9" />
<rect x="196.7" y="472.6" width="19.9" height="76" fill="#fff" stroke="#8a8a8a" stroke-width="0.9" />
<rect x="220.3" y="513.6" width="19.4" height="35" fill="#fff" stroke="#8a8a8a" stroke-width="0.9" />
<rect x="83.35" y="397.25" width="4.5" height="4.5" fill="#000" />
<rect x="85.35" y="392.45" width="4.5" height="4.5" fill="#000" />
<rect x="111.35" y="435.95" width="4.5" height="4.5" fill="#000" />
<rect x="132.95" y="448.15" width="4.5" height="4.5" fill="#000" />
<rect x="131.15" y="452.55" width="4.5" height="4.5" fill="#000" />
<rect x="155.25" y="448.85" width="4.5" height="4.5" fill="#000" />
<rect x="156.55" y="449.85" width="4.5" height="4.5" fill="#000" />
<rect x="178.35" y="458.55" width="4.5" height="4.5" fill="#000" />
<rect x="178.35" y="471.75" width="4.5" height="4.5" fill="#000" />
<rect x="202.65" y="467.25" width="4.5" height="4.5" fill="#000" />
<rect x="202.65" y="472.25" width="4.5" height="4.5" fill="#000" />
<rect x="228.35" y="506.05" width="4.5" height="4.5" fill="#000" />
<rect x="229.85" y="515.85" width="4.5" height="4.5" fill="#000" />
<line x1="75.5" y1="387" x2="75.5" y2="548.6" stroke="#5f5f5f" stroke-width="1" />
<line x1="75.5" y1="548.6" x2="242.1" y2="548.6" stroke="#5f5f5f" stroke-width="1" />
<line x1="72.2" y1="548.6" x2="75.5" y2="548.6" stroke="#5f5f5f" stroke-width="1" />
<text x="67.7" y="551.8" font-size="9" text-anchor="end" fill="#333" >0</text>
<line x1="72.2" y1="523.6" x2="75.5" y2="523.6" stroke="#5f5f5f" stroke-width="1" />
<text x="67.7" y="526.8" font-size="9" text-anchor="end" fill="#333" >5</text>
<line x1="72.2" y1="498.6" x2="75.5" y2="498.6" stroke="#5f5f5f" stroke-width="1" />
<text x="67.7" y="501.8" font-size="9" text-anchor="end" fill="#333" >10</text>
<line x1="72.2" y1="473.6" x2="75.5" y2="473.6" stroke="#5f5f5f" stroke-width="1" />
<text x="67.7" y="476.8" font-size="9" text-anchor="end" fill="#333" >15</text>
<line x1="72.2" y1="448.6" x2="75.5" y2="448.6" stroke="#5f5f5f" stroke-width="1" />
<text x="67.7" y="451.8" font-size="9" text-anchor="end" fill="#333" >20</text>
<line x1="72.2" y1="423.6" x2="75.5" y2="423.6" stroke="#5f5f5f" stroke-width="1" />
<text x="67.7" y="426.8" font-size="9" text-anchor="end" fill="#333" >25</text>
<line x1="72.2" y1="398.6" x2="75.5" y2="398.6" stroke="#5f5f5f" stroke-width="1" />
<text x="67.7" y="401.8" font-size="9" text-anchor="end" fill="#333" >30</text>
<line x1="87.9" y1="548.6" x2="87.9" y2="551.9" stroke="#5f5f5f" stroke-width="1" />
<line x1="111.45" y1="548.6" x2="111.45" y2="551.9" stroke="#5f5f5f" stroke-width="1" />
<line x1="135.05" y1="548.6" x2="135.05" y2="551.9" stroke="#5f5f5f" stroke-width="1" />
<line x1="158.85" y1="548.6" x2="158.85" y2="551.9" stroke="#5f5f5f" stroke-width="1" />
<line x1="182.7" y1="548.6" x2="182.7" y2="551.9" stroke="#5f5f5f" stroke-width="1" />
<line x1="206.65" y1="548.6" x2="206.65" y2="551.9" stroke="#5f5f5f" stroke-width="1" />
<line x1="230" y1="548.6" x2="230" y2="551.9" stroke="#5f5f5f" stroke-width="1" />
<text transform="translate(142,362.2) rotate(-35)" font-size="8.9" text-anchor="end" fill="#333" >P = 0.003</text>
<text transform="translate(164.2,362.2) rotate(-35)" font-size="8.9" text-anchor="end" fill="#333" >P = 0.004</text>
<text transform="translate(186.4,362.2) rotate(-35)" font-size="8.9" text-anchor="end" fill="#333" >P = 0.002</text>
<text transform="translate(207.9,362.2) rotate(-35)" font-size="8.9" text-anchor="end" fill="#333" >P = 0.010</text>
<text transform="translate(230.1,362.2) rotate(-35)" font-size="8.9" text-anchor="end" fill="#333" >P = 0.002</text>
<text transform="translate(254.2,362.2) rotate(-35)" font-size="8.9" text-anchor="end" fill="#333" >P = 0.002</text>
<text transform="translate(94.9,562.5) rotate(-45)" font-size="10" text-anchor="end" fill="#2a2a2a" textLength="37.4" lengthAdjust="spacingAndGlyphs" >Control</text>
<text transform="translate(118.45,562.5) rotate(-45)" font-size="10" text-anchor="end" fill="#2a2a2a" textLength="29" lengthAdjust="spacingAndGlyphs" >SMG9</text>
<text transform="translate(142.05,562.5) rotate(-45)" font-size="10" text-anchor="end" fill="#2a2a2a" textLength="29" lengthAdjust="spacingAndGlyphs" >SMG5</text>
<text transform="translate(165.85,562.5) rotate(-45)" font-size="10" text-anchor="end" fill="#2a2a2a" textLength="27" lengthAdjust="spacingAndGlyphs" >UPF2</text>
<text transform="translate(189.7,562.5) rotate(-45)" font-size="10" text-anchor="end" fill="#2a2a2a" textLength="26" lengthAdjust="spacingAndGlyphs" >UPF1</text>
<text transform="translate(213.65,562.5) rotate(-45)" font-size="10" text-anchor="end" fill="#2a2a2a" textLength="33" lengthAdjust="spacingAndGlyphs" >UPF3B</text>
<text transform="translate(237,562.5) rotate(-45)" font-size="10" text-anchor="end" fill="#2a2a2a" textLength="29" lengthAdjust="spacingAndGlyphs" >SMG8</text>
<text x="144.4" y="602.6" font-size="10.8" text-anchor="middle" fill="#2a2a2a" textLength="26.2" lengthAdjust="spacingAndGlyphs" >Gene</text>
<text transform="translate(25,465.6) rotate(-90)" font-size="10.8" text-anchor="middle" fill="#2a2a2a" textLength="100" lengthAdjust="spacingAndGlyphs" >Scrambled sequence</text>
<text transform="translate(37.7,465.6) rotate(-90)" font-size="10.8" text-anchor="middle" fill="#2a2a2a" textLength="73.6" lengthAdjust="spacingAndGlyphs" >to RORC switch</text>
<text transform="translate(50.2,465.6) rotate(-90)" font-size="10.8" text-anchor="middle" fill="#2a2a2a" textLength="118" lengthAdjust="spacingAndGlyphs" >expression difference (%)</text>
<rect x="306.5" y="414.92" width="20.1" height="133.48" fill="#fff" stroke="#8a8a8a" stroke-width="0.9" />
<rect x="331.5" y="404.31" width="19.9" height="144.09" fill="#fff" stroke="#8a8a8a" stroke-width="0.9" />
<rect x="356.2" y="398.56" width="20.1" height="149.84" fill="#fff" stroke="#8a8a8a" stroke-width="0.9" />
<rect x="380.7" y="415.8" width="20.1" height="132.6" fill="#fff" stroke="#8a8a8a" stroke-width="0.9" />
<rect x="312.35" y="410.95" width="4.5" height="4.5" fill="#000" />
<rect x="312.35" y="414.85" width="4.5" height="4.5" fill="#000" />
<rect x="338.15" y="400.65" width="4.5" height="4.5" fill="#000" />
<rect x="341.25" y="403.95" width="4.5" height="4.5" fill="#000" />
<rect x="365.35" y="392.75" width="4.5" height="4.5" fill="#000" />
<rect x="365.35" y="400.45" width="4.5" height="4.5" fill="#000" />
<rect x="388.55" y="409.45" width="4.5" height="4.5" fill="#000" />
<rect x="388.55" y="417.95" width="4.5" height="4.5" fill="#000" />
<line x1="304.3" y1="387.4" x2="304.3" y2="548.4" stroke="#5f5f5f" stroke-width="1" />
<line x1="304.3" y1="548.4" x2="403.1" y2="548.4" stroke="#5f5f5f" stroke-width="1" />
<line x1="301" y1="548.4" x2="304.3" y2="548.4" stroke="#5f5f5f" stroke-width="1" />
<text x="296.5" y="551.6" font-size="9" text-anchor="end" fill="#333" >0</text>
<line x1="301" y1="526.3" x2="304.3" y2="526.3" stroke="#5f5f5f" stroke-width="1" />
<text x="296.5" y="529.5" font-size="9" text-anchor="end" fill="#333" >5</text>
<line x1="301" y1="504.2" x2="304.3" y2="504.2" stroke="#5f5f5f" stroke-width="1" />
<text x="296.5" y="507.4" font-size="9" text-anchor="end" fill="#333" >10</text>
<line x1="301" y1="482.1" x2="304.3" y2="482.1" stroke="#5f5f5f" stroke-width="1" />
<text x="296.5" y="485.3" font-size="9" text-anchor="end" fill="#333" >15</text>
<line x1="301" y1="460" x2="304.3" y2="460" stroke="#5f5f5f" stroke-width="1" />
<text x="296.5" y="463.2" font-size="9" text-anchor="end" fill="#333" >20</text>
<line x1="301" y1="437.9" x2="304.3" y2="437.9" stroke="#5f5f5f" stroke-width="1" />
<text x="296.5" y="441.1" font-size="9" text-anchor="end" fill="#333" >25</text>
<line x1="301" y1="415.8" x2="304.3" y2="415.8" stroke="#5f5f5f" stroke-width="1" />
<text x="296.5" y="419" font-size="9" text-anchor="end" fill="#333" >30</text>
<line x1="301" y1="393.7" x2="304.3" y2="393.7" stroke="#5f5f5f" stroke-width="1" />
<text x="296.5" y="396.9" font-size="9" text-anchor="end" fill="#333" >35</text>
<line x1="316.55" y1="548.4" x2="316.55" y2="551.7" stroke="#5f5f5f" stroke-width="1" />
<line x1="341.45" y1="548.4" x2="341.45" y2="551.7" stroke="#5f5f5f" stroke-width="1" />
<line x1="366.25" y1="548.4" x2="366.25" y2="551.7" stroke="#5f5f5f" stroke-width="1" />
<line x1="390.75" y1="548.4" x2="390.75" y2="551.7" stroke="#5f5f5f" stroke-width="1" />
<text transform="translate(369.4,361.5) rotate(-35)" font-size="8.9" text-anchor="end" fill="#333" >P = 0.065</text>
<text transform="translate(393.1,361.8) rotate(-35)" font-size="8.9" text-anchor="end" fill="#333" >P = 0.068</text>
<text transform="translate(415.4,361.8) rotate(-35)" font-size="8.9" text-anchor="end" fill="#333" >P = 0.897</text>
<text transform="translate(323.55,561.5) rotate(-45)" font-size="10" text-anchor="end" fill="#2a2a2a" textLength="37.4" lengthAdjust="spacingAndGlyphs" >Control</text>
<text transform="translate(348.45,561.5) rotate(-45)" font-size="10" text-anchor="end" fill="#2a2a2a" textLength="37.5" lengthAdjust="spacingAndGlyphs" >RBM8A</text>
<text transform="translate(373.25,561.5) rotate(-45)" font-size="10" text-anchor="end" fill="#2a2a2a" textLength="35.8" lengthAdjust="spacingAndGlyphs" >CASC3</text>
<text transform="translate(397.75,561.5) rotate(-45)" font-size="10" text-anchor="end" fill="#2a2a2a" textLength="41.5" lengthAdjust="spacingAndGlyphs" >MAGOH</text>
<text x="353.8" y="602.8" font-size="10.8" text-anchor="middle" fill="#2a2a2a" textLength="26.2" lengthAdjust="spacingAndGlyphs" >Gene</text>
<line x1="512" y1="359.5" x2="654.3" y2="359.5" stroke="#555" stroke-width="1" />
<path d="M500,355 C503.5,346.8 536.5,346.8 540.5,355" fill="none" stroke="#e2414b" stroke-width="2"/>
<path d="M500,364.6 C502,371 520,370.5 580,371 C640,371.5 660,370 665.3,364.6" fill="none" stroke="#3b5fb5" stroke-width="2"/>
<rect x="488.1" y="355" width="23.7" height="9.6" fill="#fcd4a6" stroke="#c9a27a" stroke-width="0.7" />
<text x="499.95" y="363.2" font-size="9.3" text-anchor="middle" fill="#222" textLength="20.5" lengthAdjust="spacingAndGlyphs" >Box1</text>
<rect x="526.3" y="355" width="23.6" height="9.6" fill="#f5a6ad" stroke="#c27e84" stroke-width="0.7" />
<text x="538.1" y="363.2" font-size="9.3" text-anchor="middle" fill="#222" textLength="20.5" lengthAdjust="spacingAndGlyphs" >Box2</text>
<rect x="654.3" y="355" width="23.7" height="9.6" fill="#ddb7dd" stroke="#a68aa6" stroke-width="0.7" />
<text x="666.15" y="363.2" font-size="9.3" text-anchor="middle" fill="#222" textLength="20.5" lengthAdjust="spacingAndGlyphs" >Box3</text>
<text x="583.2" y="347.8" font-size="10.5" text-anchor="middle" fill="#2a2a2a" textLength="63.1" lengthAdjust="spacingAndGlyphs" >RORC switch</text>
<path d="M485.4,379.4 H680.4 V570.2 H485.4 Z" fill="none" stroke="#5f5f5f" stroke-width="1"/>
<line x1="482.1" y1="544.6" x2="485.4" y2="544.6" stroke="#5f5f5f" stroke-width="1" />
<text x="476.6" y="547.8" font-size="9" text-anchor="end" fill="#333" >1.70</text>
<line x1="482.1" y1="509" x2="485.4" y2="509" stroke="#5f5f5f" stroke-width="1" />
<text x="476.6" y="512.2" font-size="9" text-anchor="end" fill="#333" >1.72</text>
<line x1="482.1" y1="473.6" x2="485.4" y2="473.6" stroke="#5f5f5f" stroke-width="1" />
<text x="476.6" y="476.8" font-size="9" text-anchor="end" fill="#333" >1.74</text>
<line x1="482.1" y1="437.9" x2="485.4" y2="437.9" stroke="#5f5f5f" stroke-width="1" />
<text x="476.6" y="441.1" font-size="9" text-anchor="end" fill="#333" >1.76</text>
<line x1="482.1" y1="402.4" x2="485.4" y2="402.4" stroke="#5f5f5f" stroke-width="1" />
<text x="476.6" y="405.6" font-size="9" text-anchor="end" fill="#333" >1.78</text>
<line x1="528.4" y1="570.2" x2="528.4" y2="573.5" stroke="#5f5f5f" stroke-width="1" />
<text x="528.4" y="587.3" font-size="9" text-anchor="middle" fill="#333" >1.4</text>
<line x1="601" y1="570.2" x2="601" y2="573.5" stroke="#5f5f5f" stroke-width="1" />
<text x="601" y="587.3" font-size="9" text-anchor="middle" fill="#333" >1.5</text>
<line x1="674.5" y1="570.2" x2="674.5" y2="573.5" stroke="#5f5f5f" stroke-width="1" />
<text x="674.5" y="587.3" font-size="9" text-anchor="middle" fill="#333" >1.6</text>
<text x="583" y="603.2" font-size="10.6" text-anchor="middle" fill="#2a2a2a" textLength="84.5" lengthAdjust="spacingAndGlyphs" >Box 2 DMS signal</text>
<text transform="translate(453,474.6) rotate(-90)" font-size="10.6" text-anchor="middle" fill="#2a2a2a" textLength="84.4" lengthAdjust="spacingAndGlyphs" >Box 3 DMS signal</text>
<text x="495.7" y="396.7" font-size="10.3" fill="#2a2a2a" >MCF-7</text>
<circle cx="512.5" cy="431.7" r="3.4" fill="#fbb265" stroke="#ec8a2c" stroke-width="1.1"/>
<circle cx="507.3" cy="461.5" r="3.4" fill="#fbb265" stroke="#ec8a2c" stroke-width="1.1"/>
<circle cx="581.5" cy="421.1" r="3.9" fill="#a19fd9" stroke="#6f6bbd" stroke-width="1"/>
<circle cx="587" cy="436.2" r="3.9" fill="#a19fd9" stroke="#6f6bbd" stroke-width="1"/>
<text x="492" y="423" font-size="10.2" fill="#2a2a2a" textLength="50.8" lengthAdjust="spacingAndGlyphs" >NMDI14_r2</text>
<text x="503.4" y="453.9" font-size="10.2" fill="#2a2a2a" textLength="50.8" lengthAdjust="spacingAndGlyphs" >NMDI14_r1</text>
<text x="590.1" y="423.8" font-size="10.2" fill="#2a2a2a" textLength="42.5" lengthAdjust="spacingAndGlyphs" >DMSO_r1</text>
<text x="595.6" y="439" font-size="10.2" fill="#2a2a2a" textLength="43.8" lengthAdjust="spacingAndGlyphs" >DMSO_r2</text>
<line x1="575.6" y1="431.3" x2="527" y2="440.2" stroke="#3d4f7a" stroke-width="1" stroke-dasharray="3,2"/>
<path d="M524.2,440.8 L530,436.8 L529.5,442.6 Z" fill="#3d4f7a"/>
<line x1="537" y1="494.3" x2="669.8" y2="494.3" stroke="#e3e3e3" stroke-width="0.8" />
<line x1="537" y1="521.4" x2="669.8" y2="521.4" stroke="#e3e3e3" stroke-width="0.8" />
<line x1="537" y1="482" x2="537" y2="534.3" stroke="#5f5f5f" stroke-width="1" />
<line x1="537" y1="534.3" x2="669.8" y2="534.3" stroke="#5f5f5f" stroke-width="1" />
<line x1="533.7" y1="494.3" x2="537" y2="494.3" stroke="#5f5f5f" stroke-width="1" />
<line x1="533.7" y1="521.4" x2="537" y2="521.4" stroke="#5f5f5f" stroke-width="1" />
<text x="531.5" y="498.1" font-size="10.6" text-anchor="end" fill="#2a2a2a" textLength="37" lengthAdjust="spacingAndGlyphs" >NMDI14</text>
<text x="531.5" y="525.3" font-size="10.6" text-anchor="end" fill="#2a2a2a" textLength="31" lengthAdjust="spacingAndGlyphs" >DMSO</text>
<line x1="563.4" y1="534.3" x2="563.4" y2="537.6" stroke="#5f5f5f" stroke-width="1" />
<text x="563.4" y="550.3" font-size="8.8" text-anchor="middle" fill="#333" >0.2</text>
<line x1="603.3" y1="534.3" x2="603.3" y2="537.6" stroke="#5f5f5f" stroke-width="1" />
<text x="603.3" y="550.3" font-size="8.8" text-anchor="middle" fill="#333" >0.3</text>
<line x1="643.1" y1="534.3" x2="643.1" y2="537.6" stroke="#5f5f5f" stroke-width="1" />
<text x="643.1" y="550.3" font-size="8.8" text-anchor="middle" fill="#333" >0.4</text>
<text x="603.5" y="564" font-size="9" text-anchor="middle" fill="#2a2a2a" textLength="46.1" lengthAdjust="spacingAndGlyphs" >DMS signal</text>
<text x="583.7" y="481" font-size="8.8" fill="#2a2a2a" ><tspan font-style="italic">P</tspan> = 0.03</text>
<line x1="559.5" y1="494" x2="567.4" y2="521.1" stroke="#4a48b0" stroke-width="0.8" />
<line x1="560.5" y1="494.6" x2="573.8" y2="521.6" stroke="#4a48b0" stroke-width="0.8" />
<line x1="579.3" y1="495.8" x2="606.7" y2="522.7" stroke="#4a48b0" stroke-width="0.8" />
<line x1="583.5" y1="495.3" x2="607.2" y2="523" stroke="#4a48b0" stroke-width="0.8" />
<line x1="582.3" y1="492.3" x2="586.3" y2="519.1" stroke="#4a48b0" stroke-width="0.8" />
<line x1="591.4" y1="492.6" x2="594.7" y2="519.6" stroke="#4a48b0" stroke-width="0.8" />
<line x1="639.7" y1="497.3" x2="653.2" y2="523.6" stroke="#4a48b0" stroke-width="0.8" />
<line x1="644.2" y1="496.6" x2="656.5" y2="524.3" stroke="#4a48b0" stroke-width="0.8" />
<line x1="589.5" y1="491.5" x2="587" y2="518.6" stroke="#f0782d" stroke-width="0.9" />
<line x1="603.1" y1="493.5" x2="581.8" y2="520.6" stroke="#f0782d" stroke-width="0.9" />
<circle cx="559.5" cy="494" r="1.5" fill="#777"/>
<circle cx="567.4" cy="521.1" r="1.5" fill="#777"/>
<circle cx="560.5" cy="494.6" r="1.5" fill="#777"/>
<circle cx="573.8" cy="521.6" r="1.5" fill="#777"/>
<circle cx="579.3" cy="495.8" r="1.5" fill="#777"/>
<circle cx="606.7" cy="522.7" r="1.5" fill="#777"/>
<circle cx="583.5" cy="495.3" r="1.5" fill="#777"/>
<circle cx="607.2" cy="523" r="1.5" fill="#777"/>
<circle cx="582.3" cy="492.3" r="1.5" fill="#777"/>
<circle cx="586.3" cy="519.1" r="1.5" fill="#777"/>
<circle cx="591.4" cy="492.6" r="1.5" fill="#777"/>
<circle cx="594.7" cy="519.6" r="1.5" fill="#777"/>
<circle cx="639.7" cy="497.3" r="1.5" fill="#777"/>
<circle cx="653.2" cy="523.6" r="1.5" fill="#777"/>
<circle cx="644.2" cy="496.6" r="1.5" fill="#777"/>
<circle cx="656.5" cy="524.3" r="1.5" fill="#777"/>
<circle cx="589.5" cy="491.5" r="1.5" fill="#777"/>
<circle cx="587" cy="518.6" r="1.5" fill="#777"/>
<circle cx="603.1" cy="493.5" r="1.5" fill="#777"/>
<circle cx="581.8" cy="520.6" r="1.5" fill="#777"/>
<rect x="54.8" y="720.1" width="13.6" height="55" fill="#d9d9d9" />
<rect x="75.1" y="689.85" width="13.6" height="85.25" fill="#f9c9bf" />
<circle cx="56.9" cy="718.3" r="2.4" fill="#595959"/>
<circle cx="65.2" cy="714.4" r="2.4" fill="#595959"/>
<circle cx="56.9" cy="724.8" r="2.4" fill="#595959"/>
<circle cx="65.2" cy="724" r="2.4" fill="#595959"/>
<rect x="79.05" y="661.35" width="5.3" height="5.3" fill="#ef6a3f" />
<rect x="79.05" y="669.45" width="5.3" height="5.3" fill="#ef6a3f" />
<rect x="75.05" y="686.95" width="5.3" height="5.3" fill="#ef6a3f" />
<rect x="82.95" y="686.95" width="5.3" height="5.3" fill="#ef6a3f" />
<rect x="79.05" y="696.05" width="5.3" height="5.3" fill="#ef6a3f" />
<rect x="79.05" y="705.75" width="5.3" height="5.3" fill="#ef6a3f" />
<line x1="48.3" y1="660.9" x2="48.3" y2="775.1" stroke="#5f5f5f" stroke-width="1" />
<line x1="48.3" y1="775.1" x2="94.4" y2="775.1" stroke="#5f5f5f" stroke-width="1" />
<line x1="45" y1="775.1" x2="48.3" y2="775.1" stroke="#5f5f5f" stroke-width="1" />
<text x="40.5" y="778.3" font-size="9" text-anchor="end" fill="#333" >0</text>
<line x1="45" y1="720.1" x2="48.3" y2="720.1" stroke="#5f5f5f" stroke-width="1" />
<text x="40.5" y="723.3" font-size="9" text-anchor="end" fill="#333" >1</text>
<line x1="45" y1="665.1" x2="48.3" y2="665.1" stroke="#5f5f5f" stroke-width="1" />
<text x="40.5" y="668.3" font-size="9" text-anchor="end" fill="#333" >2</text>
<line x1="61.6" y1="775.1" x2="61.6" y2="778.4" stroke="#5f5f5f" stroke-width="1" />
<line x1="81.9" y1="775.1" x2="81.9" y2="778.4" stroke="#5f5f5f" stroke-width="1" />
<text x="71.7" y="644.4" font-size="10.3" text-anchor="middle" fill="#2a2a2a" >LNCaP</text>
<text transform="translate(68.3,674.3) rotate(-90)" font-size="8.8" text-anchor="middle" fill="#2a2a2a" ><tspan font-style="italic">P</tspan> = 0.005</text>
<text transform="translate(28.2,717.7) rotate(-90)" font-size="10.6" text-anchor="middle" fill="#2a2a2a" textLength="126.4" lengthAdjust="spacingAndGlyphs" >Relative RORC expression</text>
<text transform="translate(69,788) rotate(-45)" font-size="9.5" text-anchor="end" fill="#2a2a2a" >siCTRL</text>
<text transform="translate(87.6,788.3) rotate(-45)" font-size="9.5" text-anchor="end" fill="#2a2a2a" >siUPF1</text>
<rect x="171.3" y="718.45" width="13.6" height="56.65" fill="#d9d9d9" />
<rect x="191.7" y="698.1" width="13.6" height="77" fill="#fbdcb5" />
<circle cx="177.8" cy="705.2" r="2.4" fill="#595959"/>
<circle cx="177.8" cy="713.8" r="2.4" fill="#595959"/>
<circle cx="177.8" cy="722.2" r="2.4" fill="#595959"/>
<circle cx="177.8" cy="736" r="2.4" fill="#595959"/>
<rect x="196.05" y="681.15" width="5.3" height="5.3" fill="#f28a26" />
<rect x="193.95" y="690.85" width="5.3" height="5.3" fill="#f28a26" />
<rect x="197.85" y="690.85" width="5.3" height="5.3" fill="#f28a26" />
<rect x="195.55" y="700.45" width="5.3" height="5.3" fill="#f28a26" />
<rect x="191.65" y="705.15" width="5.3" height="5.3" fill="#f28a26" />
<rect x="199.95" y="703.85" width="5.3" height="5.3" fill="#f28a26" />
<line x1="164.8" y1="660.9" x2="164.8" y2="775.1" stroke="#5f5f5f" stroke-width="1" />
<line x1="164.8" y1="775.1" x2="211.2" y2="775.1" stroke="#5f5f5f" stroke-width="1" />
<line x1="161.5" y1="775.1" x2="164.8" y2="775.1" stroke="#5f5f5f" stroke-width="1" />
<text x="157" y="778.3" font-size="9" text-anchor="end" fill="#333" >0</text>
<line x1="161.5" y1="720.1" x2="164.8" y2="720.1" stroke="#5f5f5f" stroke-width="1" />
<text x="157" y="723.3" font-size="9" text-anchor="end" fill="#333" >1</text>
<line x1="161.5" y1="665.1" x2="164.8" y2="665.1" stroke="#5f5f5f" stroke-width="1" />
<text x="157" y="668.3" font-size="9" text-anchor="end" fill="#333" >2</text>
<line x1="178.1" y1="775.1" x2="178.1" y2="778.4" stroke="#5f5f5f" stroke-width="1" />
<line x1="198.5" y1="775.1" x2="198.5" y2="778.4" stroke="#5f5f5f" stroke-width="1" />
<text x="188.3" y="644.4" font-size="10.3" text-anchor="middle" fill="#2a2a2a" >MCF-7</text>
<text transform="translate(188.8,673.8) rotate(-90)" font-size="8.8" text-anchor="middle" fill="#2a2a2a" ><tspan font-style="italic">P</tspan> = 0.02</text>
<text transform="translate(144.2,717.7) rotate(-90)" font-size="10.6" text-anchor="middle" fill="#2a2a2a" textLength="126.4" lengthAdjust="spacingAndGlyphs" >Relative RORC expression</text>
<text transform="translate(185.5,788) rotate(-45)" font-size="9.5" text-anchor="end" fill="#2a2a2a" >siCTRL</text>
<text transform="translate(204.2,788.3) rotate(-45)" font-size="9.5" text-anchor="end" fill="#2a2a2a" >siUPF1</text>
<rect x="283.4" y="720.1" width="13.6" height="55" fill="#d9d9d9" />
<rect x="304" y="714.6" width="13.6" height="60.5" fill="#c9dbf1" />
<circle cx="286.5" cy="715.7" r="2.4" fill="#595959"/>
<circle cx="290.4" cy="717.7" r="2.4" fill="#595959"/>
<circle cx="294.4" cy="717" r="2.4" fill="#595959"/>
<circle cx="289.9" cy="730" r="2.4" fill="#595959"/>
<rect x="307.85" y="699.15" width="5.3" height="5.3" fill="#3b6fc2" />
<rect x="311.75" y="704.65" width="5.3" height="5.3" fill="#3b6fc2" />
<rect x="303.45" y="709.65" width="5.3" height="5.3" fill="#3b6fc2" />
<rect x="307.35" y="713.05" width="5.3" height="5.3" fill="#3b6fc2" />
<rect x="311.75" y="714.85" width="5.3" height="5.3" fill="#3b6fc2" />
<rect x="303.45" y="718.25" width="5.3" height="5.3" fill="#3b6fc2" />
<line x1="276.9" y1="660.9" x2="276.9" y2="775.1" stroke="#5f5f5f" stroke-width="1" />
<line x1="276.9" y1="775.1" x2="323.8" y2="775.1" stroke="#5f5f5f" stroke-width="1" />
<line x1="273.6" y1="775.1" x2="276.9" y2="775.1" stroke="#5f5f5f" stroke-width="1" />
<text x="269.1" y="778.3" font-size="9" text-anchor="end" fill="#333" >0</text>
<line x1="273.6" y1="720.1" x2="276.9" y2="720.1" stroke="#5f5f5f" stroke-width="1" />
<text x="269.1" y="723.3" font-size="9" text-anchor="end" fill="#333" >1</text>
<line x1="273.6" y1="665.1" x2="276.9" y2="665.1" stroke="#5f5f5f" stroke-width="1" />
<text x="269.1" y="668.3" font-size="9" text-anchor="end" fill="#333" >2</text>
<line x1="290.2" y1="775.1" x2="290.2" y2="778.4" stroke="#5f5f5f" stroke-width="1" />
<line x1="310.8" y1="775.1" x2="310.8" y2="778.4" stroke="#5f5f5f" stroke-width="1" />
<text x="300.4" y="644.4" font-size="10.3" text-anchor="middle" fill="#2a2a2a" >LS174T</text>
<text transform="translate(304.5,679.8) rotate(-90)" font-size="8.8" text-anchor="middle" fill="#2a2a2a" ><tspan font-style="italic">P</tspan> = 0.09</text>
<text transform="translate(256,717.7) rotate(-90)" font-size="10.6" text-anchor="middle" fill="#2a2a2a" textLength="126.4" lengthAdjust="spacingAndGlyphs" >Relative RORC expression</text>
<text transform="translate(297.6,788) rotate(-45)" font-size="9.5" text-anchor="end" fill="#2a2a2a" >siCTRL</text>
<text transform="translate(316.5,788.3) rotate(-45)" font-size="9.5" text-anchor="end" fill="#2a2a2a" >siUPF1</text>
<rect x="386.9" y="643.4" width="60.5" height="70.4" fill="#fbfbfb" stroke="#e0e0e0" stroke-width="0.9"/>
<path d="M383.5,777.78 L384,777.78 L384.5,777.78 L385,777.78 L385.5,777.78 L386,777.78 L386.5,777.78 L387,777.77 L387.5,777.77 L388,777.77 L388.5,777.77 L389,777.77 L389.5,777.77 L390,777.76 L390.5,777.76 L391,777.76 L391.5,777.76 L392,777.76 L392.5,777.75 L393,777.75 L393.5,777.75 L394,777.75 L394.5,777.74 L395,777.74 L395.5,777.74 L396,777.73 L396.5,777.73 L397,777.72 L397.5,777.72 L398,777.72 L398.5,777.71 L399,777.71 L399.5,777.7 L400,777.7 L400.5,777.69 L401,777.68 L401.5,777.68 L402,777.67 L402.5,777.66 L403,777.66 L403.5,777.65 L404,777.64 L404.5,777.63 L405,777.62 L405.5,777.61 L406,777.6 L406.5,777.59 L407,777.58 L407.5,777.57 L408,777.56 L408.5,777.54 L409,777.53 L409.5,777.52 L410,777.5 L410.5,777.48 L411,777.47 L411.5,777.45 L412,777.43 L412.5,777.41 L413,777.39 L413.5,777.37 L414,777.34 L414.5,777.32 L415,777.29 L415.5,777.26 L416,777.23 L416.5,777.2 L417,777.17 L417.5,777.14 L418,777.1 L418.5,777.06 L419,777.02 L419.5,776.98 L420,776.94 L420.5,776.89 L421,776.84 L421.5,776.79 L422,776.73 L422.5,776.68 L423,776.62 L423.5,776.55 L424,776.49 L424.5,776.42 L425,776.34 L425.5,776.26 L426,776.18 L426.5,776.09 L427,776 L427.5,775.91 L428,775.81 L428.5,775.7 L429,775.59 L429.5,775.47 L430,775.35 L430.5,775.22 L431,775.08 L431.5,774.94 L432,774.79 L432.5,774.63 L433,774.47 L433.5,774.29 L434,774.11 L434.5,773.92 L435,773.72 L435.5,773.51 L436,773.28 L436.5,773.05 L437,772.81 L437.5,772.56 L438,772.29 L438.5,772.01 L439,771.72 L439.5,771.41 L440,771.09 L440.5,770.76 L441,770.41 L441.5,770.05 L442,769.66 L442.5,769.27 L443,768.85 L443.5,768.42 L444,767.97 L444.5,767.51 L445,767.02 L445.5,766.52 L446,765.99 L446.5,765.45 L447,764.88 L447.5,764.3 L448,763.69 L448.5,763.06 L449,762.41 L449.5,761.74 L450,761.05 L450.5,760.34 L451,759.6 L451.5,758.84 L452,758.07 L452.5,757.27 L453,756.45 L453.5,755.61 L454,754.75 L454.5,753.87 L455,752.97 L455.5,752.05 L456,751.12 L456.5,750.17 L457,749.2 L457.5,748.22 L458,747.23 L458.5,746.22 L459,745.2 L459.5,744.18 L460,743.14 L460.5,742.1 L461,741.05 L461.5,740 L462,738.94 L462.5,737.89 L463,736.83 L463.5,735.78 L464,734.73 L464.5,733.68 L465,732.64 L465.5,731.61 L466,730.59 L466.5,729.58 L467,728.58 L467.5,727.59 L468,726.61 L468.5,725.65 L469,724.71 L469.5,723.78 L470,722.87 L470.5,721.98 L471,721.11 L471.5,720.26 L472,719.42 L472.5,718.61 L473,717.82 L473.5,717.05 L474,716.3 L474.5,715.58 L475,714.87 L475.5,714.19 L476,713.53 L476.5,712.88 L477,712.27 L477.5,711.67 L478,711.09 L478.5,710.53 L479,710 L479.5,709.48 L480,708.98 L480.5,708.5 L481,708.04 L481.5,707.6 L482,707.18 L482.5,706.77 L483,706.38 L483.5,706.01 L484,705.65 L484.5,705.31 L485,704.98 L485.5,704.66 L486,704.36 L486.5,704.08 L487,703.8 L487.5,703.54 L488,703.29 L488.5,703.05 L489,702.83 L489.5,702.61 L490,702.4 L490.5,702.2" fill="none" stroke="#4fbf9a" stroke-width="1.1"/>
<path d="M383.5,776.1 L384,776.1 L384.5,776.09 L385,776.09 L385.5,776.09 L386,776.09 L386.5,776.09 L387,776.09 L387.5,776.09 L388,776.09 L388.5,776.09 L389,776.09 L389.5,776.09 L390,776.09 L390.5,776.09 L391,776.09 L391.5,776.09 L392,776.09 L392.5,776.09 L393,776.08 L393.5,776.08 L394,776.08 L394.5,776.08 L395,776.08 L395.5,776.08 L396,776.08 L396.5,776.08 L397,776.07 L397.5,776.07 L398,776.07 L398.5,776.07 L399,776.07 L399.5,776.06 L400,776.06 L400.5,776.06 L401,776.06 L401.5,776.05 L402,776.05 L402.5,776.05 L403,776.04 L403.5,776.04 L404,776.04 L404.5,776.03 L405,776.03 L405.5,776.02 L406,776.02 L406.5,776.01 L407,776.01 L407.5,776 L408,775.99 L408.5,775.99 L409,775.98 L409.5,775.97 L410,775.96 L410.5,775.95 L411,775.94 L411.5,775.93 L412,775.92 L412.5,775.91 L413,775.89 L413.5,775.88 L414,775.87 L414.5,775.85 L415,775.83 L415.5,775.82 L416,775.8 L416.5,775.78 L417,775.76 L417.5,775.73 L418,775.71 L418.5,775.68 L419,775.65 L419.5,775.62 L420,775.59 L420.5,775.56 L421,775.52 L421.5,775.48 L422,775.44 L422.5,775.4 L423,775.35 L423.5,775.3 L424,775.25 L424.5,775.19 L425,775.13 L425.5,775.07 L426,775 L426.5,774.92 L427,774.85 L427.5,774.76 L428,774.67 L428.5,774.58 L429,774.48 L429.5,774.37 L430,774.26 L430.5,774.13 L431,774 L431.5,773.87 L432,773.72 L432.5,773.56 L433,773.4 L433.5,773.22 L434,773.03 L434.5,772.83 L435,772.61 L435.5,772.39 L436,772.14 L436.5,771.89 L437,771.61 L437.5,771.32 L438,771.02 L438.5,770.69 L439,770.34 L439.5,769.97 L440,769.58 L440.5,769.16 L441,768.72 L441.5,768.26 L442,767.76 L442.5,767.24 L443,766.69 L443.5,766.1 L444,765.49 L444.5,764.83 L445,764.14 L445.5,763.42 L446,762.65 L446.5,761.84 L447,760.99 L447.5,760.1 L448,759.16 L448.5,758.17 L449,757.14 L449.5,756.05 L450,754.92 L450.5,753.73 L451,752.49 L451.5,751.19 L452,749.85 L452.5,748.44 L453,746.99 L453.5,745.47 L454,743.91 L454.5,742.28 L455,740.61 L455.5,738.88 L456,737.1 L456.5,735.27 L457,733.39 L457.5,731.47 L458,729.5 L458.5,727.49 L459,725.45 L459.5,723.37 L460,721.26 L460.5,719.13 L461,716.97 L461.5,714.79 L462,712.6 L462.5,710.4 L463,708.2 L463.5,706 L464,703.8 L464.5,701.61 L465,699.43 L465.5,697.27 L466,695.14 L466.5,693.03 L467,690.95 L467.5,688.91 L468,686.9 L468.5,684.93 L469,683.01 L469.5,681.13 L470,679.3 L470.5,677.52 L471,675.79 L471.5,674.12 L472,672.49 L472.5,670.93 L473,669.41 L473.5,667.96 L474,666.55 L474.5,665.21 L475,663.91 L475.5,662.67 L476,661.48 L476.5,660.35 L477,659.26 L477.5,658.23 L478,657.24 L478.5,656.3 L479,655.41 L479.5,654.56 L480,653.75 L480.5,652.98 L481,652.26 L481.5,651.57 L482,650.91 L482.5,650.3 L483,649.71 L483.5,649.16 L484,648.64 L484.5,648.14 L485,647.68 L485.5,647.24 L486,646.82 L486.5,646.43 L487,646.06 L487.5,645.71 L488,645.38 L488.5,645.08 L489,644.79 L489.5,644.51 L490,644.26 L490.5,644.01" fill="none" stroke="#f08a62" stroke-width="1.1"/>
<line x1="383.5" y1="777.2" x2="383.5" y2="780.2" stroke="#4fbf9a" stroke-width="0.7" />
<line x1="382.1" y1="777.2" x2="384.9" y2="777.2" stroke="#4fbf9a" stroke-width="0.7" />
<line x1="382.1" y1="780.2" x2="384.9" y2="780.2" stroke="#4fbf9a" stroke-width="0.7" />
<rect x="381.5" y="776.7" width="4" height="4" fill="#4fbf9a" />
<line x1="399.5" y1="777.2" x2="399.5" y2="780.8" stroke="#4fbf9a" stroke-width="0.7" />
<line x1="398.1" y1="777.2" x2="400.9" y2="777.2" stroke="#4fbf9a" stroke-width="0.7" />
<line x1="398.1" y1="780.8" x2="400.9" y2="780.8" stroke="#4fbf9a" stroke-width="0.7" />
<rect x="397.5" y="777" width="4" height="4" fill="#4fbf9a" />
<line x1="414.3" y1="773.9" x2="414.3" y2="779.9" stroke="#4fbf9a" stroke-width="0.7" />
<line x1="412.9" y1="773.9" x2="415.7" y2="773.9" stroke="#4fbf9a" stroke-width="0.7" />
<line x1="412.9" y1="779.9" x2="415.7" y2="779.9" stroke="#4fbf9a" stroke-width="0.7" />
<rect x="412.3" y="774.9" width="4" height="4" fill="#4fbf9a" />
<line x1="429.7" y1="772" x2="429.7" y2="775" stroke="#4fbf9a" stroke-width="0.7" />
<line x1="428.3" y1="772" x2="431.1" y2="772" stroke="#4fbf9a" stroke-width="0.7" />
<line x1="428.3" y1="775" x2="431.1" y2="775" stroke="#4fbf9a" stroke-width="0.7" />
<rect x="427.7" y="771.5" width="4" height="4" fill="#4fbf9a" />
<line x1="444.8" y1="765" x2="444.8" y2="768" stroke="#4fbf9a" stroke-width="0.7" />
<line x1="443.4" y1="765" x2="446.2" y2="765" stroke="#4fbf9a" stroke-width="0.7" />
<line x1="443.4" y1="768" x2="446.2" y2="768" stroke="#4fbf9a" stroke-width="0.7" />
<rect x="442.8" y="764.5" width="4" height="4" fill="#4fbf9a" />
<line x1="460.2" y1="742.5" x2="460.2" y2="746.1" stroke="#4fbf9a" stroke-width="0.7" />
<line x1="458.8" y1="742.5" x2="461.6" y2="742.5" stroke="#4fbf9a" stroke-width="0.7" />
<line x1="458.8" y1="746.1" x2="461.6" y2="746.1" stroke="#4fbf9a" stroke-width="0.7" />
<rect x="458.2" y="742.3" width="4" height="4" fill="#4fbf9a" />
<line x1="475.6" y1="710.9" x2="475.6" y2="714.1" stroke="#4fbf9a" stroke-width="0.7" />
<line x1="474.2" y1="710.9" x2="477" y2="710.9" stroke="#4fbf9a" stroke-width="0.7" />
<line x1="474.2" y1="714.1" x2="477" y2="714.1" stroke="#4fbf9a" stroke-width="0.7" />
<rect x="473.6" y="710.5" width="4" height="4" fill="#4fbf9a" />
<line x1="490.7" y1="700.3" x2="490.7" y2="705.9" stroke="#4fbf9a" stroke-width="0.7" />
<line x1="489.3" y1="700.3" x2="492.1" y2="700.3" stroke="#4fbf9a" stroke-width="0.7" />
<line x1="489.3" y1="705.9" x2="492.1" y2="705.9" stroke="#4fbf9a" stroke-width="0.7" />
<rect x="488.7" y="701.1" width="4" height="4" fill="#4fbf9a" />
<line x1="383.5" y1="776.7" x2="383.5" y2="779.7" stroke="#f08a62" stroke-width="0.7" />
<line x1="382.1" y1="776.7" x2="384.9" y2="776.7" stroke="#f08a62" stroke-width="0.7" />
<line x1="382.1" y1="779.7" x2="384.9" y2="779.7" stroke="#f08a62" stroke-width="0.7" />
<rect x="381.5" y="776.2" width="4" height="4" fill="#f08a62" />
<line x1="399.5" y1="775.6" x2="399.5" y2="779.2" stroke="#f08a62" stroke-width="0.7" />
<line x1="398.1" y1="775.6" x2="400.9" y2="775.6" stroke="#f08a62" stroke-width="0.7" />
<line x1="398.1" y1="779.2" x2="400.9" y2="779.2" stroke="#f08a62" stroke-width="0.7" />
<rect x="397.5" y="775.4" width="4" height="4" fill="#f08a62" />
<line x1="414.3" y1="773.8" x2="414.3" y2="777.4" stroke="#f08a62" stroke-width="0.7" />
<line x1="412.9" y1="773.8" x2="415.7" y2="773.8" stroke="#f08a62" stroke-width="0.7" />
<line x1="412.9" y1="777.4" x2="415.7" y2="777.4" stroke="#f08a62" stroke-width="0.7" />
<rect x="412.3" y="773.6" width="4" height="4" fill="#f08a62" />
<line x1="429.7" y1="771.9" x2="429.7" y2="775.1" stroke="#f08a62" stroke-width="0.7" />
<line x1="428.3" y1="771.9" x2="431.1" y2="771.9" stroke="#f08a62" stroke-width="0.7" />
<line x1="428.3" y1="775.1" x2="431.1" y2="775.1" stroke="#f08a62" stroke-width="0.7" />
<rect x="427.7" y="771.5" width="4" height="4" fill="#f08a62" />
<line x1="444.8" y1="757.9" x2="444.8" y2="763.5" stroke="#f08a62" stroke-width="0.7" />
<line x1="443.4" y1="757.9" x2="446.2" y2="757.9" stroke="#f08a62" stroke-width="0.7" />
<line x1="443.4" y1="763.5" x2="446.2" y2="763.5" stroke="#f08a62" stroke-width="0.7" />
<rect x="442.8" y="758.7" width="4" height="4" fill="#f08a62" />
<line x1="460.2" y1="719.9" x2="460.2" y2="726.9" stroke="#f08a62" stroke-width="0.7" />
<line x1="458.8" y1="719.9" x2="461.6" y2="719.9" stroke="#f08a62" stroke-width="0.7" />
<line x1="458.8" y1="726.9" x2="461.6" y2="726.9" stroke="#f08a62" stroke-width="0.7" />
<rect x="458.2" y="721.4" width="4" height="4" fill="#f08a62" />
<line x1="475.6" y1="657.5" x2="475.6" y2="661.5" stroke="#f08a62" stroke-width="0.7" />
<line x1="474.2" y1="657.5" x2="477" y2="657.5" stroke="#f08a62" stroke-width="0.7" />
<line x1="474.2" y1="661.5" x2="477" y2="661.5" stroke="#f08a62" stroke-width="0.7" />
<rect x="473.6" y="657.5" width="4" height="4" fill="#f08a62" />
<line x1="490.7" y1="642.5" x2="490.7" y2="648.9" stroke="#f08a62" stroke-width="0.7" />
<line x1="489.3" y1="642.5" x2="492.1" y2="642.5" stroke="#f08a62" stroke-width="0.7" />
<line x1="489.3" y1="648.9" x2="492.1" y2="648.9" stroke="#f08a62" stroke-width="0.7" />
<rect x="488.7" y="643.7" width="4" height="4" fill="#f08a62" />
<line x1="381.7" y1="638.2" x2="381.7" y2="791.7" stroke="#5f5f5f" stroke-width="1" />
<line x1="381.7" y1="791.7" x2="499.6" y2="791.7" stroke="#5f5f5f" stroke-width="1" />
<line x1="378.4" y1="785.2" x2="381.7" y2="785.2" stroke="#5f5f5f" stroke-width="1" />
<text x="374.2" y="788.4" font-size="9.5" text-anchor="end" fill="#333" >0</text>
<line x1="378.4" y1="764.1" x2="381.7" y2="764.1" stroke="#5f5f5f" stroke-width="1" />
<text x="374.2" y="767.3" font-size="9.5" text-anchor="end" fill="#333" >5</text>
<line x1="378.4" y1="743" x2="381.7" y2="743" stroke="#5f5f5f" stroke-width="1" />
<text x="374.2" y="746.2" font-size="9.5" text-anchor="end" fill="#333" >10</text>
<line x1="378.4" y1="721.9" x2="381.7" y2="721.9" stroke="#5f5f5f" stroke-width="1" />
<text x="374.2" y="725.1" font-size="9.5" text-anchor="end" fill="#333" >15</text>
<line x1="378.4" y1="700.8" x2="381.7" y2="700.8" stroke="#5f5f5f" stroke-width="1" />
<text x="374.2" y="704" font-size="9.5" text-anchor="end" fill="#333" >20</text>
<line x1="378.4" y1="679.7" x2="381.7" y2="679.7" stroke="#5f5f5f" stroke-width="1" />
<text x="374.2" y="682.9" font-size="9.5" text-anchor="end" fill="#333" >25</text>
<line x1="378.4" y1="658.6" x2="381.7" y2="658.6" stroke="#5f5f5f" stroke-width="1" />
<text x="374.2" y="661.8" font-size="9.5" text-anchor="end" fill="#333" >30</text>
<line x1="386.9" y1="791.7" x2="386.9" y2="795" stroke="#5f5f5f" stroke-width="1" />
<text x="386.9" y="806.1" font-size="9.5" text-anchor="middle" fill="#333" >0.8</text>
<line x1="417.4" y1="791.7" x2="417.4" y2="795" stroke="#5f5f5f" stroke-width="1" />
<text x="417.4" y="806.1" font-size="9.5" text-anchor="middle" fill="#333" >3</text>
<line x1="449" y1="791.7" x2="449" y2="795" stroke="#5f5f5f" stroke-width="1" />
<text x="449" y="806.1" font-size="9.5" text-anchor="middle" fill="#333" >12</text>
<line x1="479.5" y1="791.7" x2="479.5" y2="795" stroke="#5f5f5f" stroke-width="1" />
<text x="479.5" y="806.1" font-size="9.5" text-anchor="middle" fill="#333" >50</text>
<text x="441.15" y="821.7" font-size="11" text-anchor="middle" fill="#2a2a2a" textLength="96.5" lengthAdjust="spacingAndGlyphs" >Concentration [nM]</text>
<text transform="translate(357.2,714.5) rotate(-90)" font-size="10.6" text-anchor="middle" fill="#2a2a2a" textLength="110.9" lengthAdjust="spacingAndGlyphs" >Expression change (%)</text>
<text x="398.7" y="654.3" font-size="10.8" fill="#2a2a2a" >RORC</text>
<text x="398.7" y="664.1" font-size="10.8" fill="#2a2a2a" >switch</text>
<text x="398.7" y="673.9" font-size="10.8" fill="#2a2a2a" >reporter</text>
<text x="398.7" y="690.3" font-size="10.8" fill="#2a2a2a" >Negative</text>
<text x="398.7" y="699.8" font-size="10.8" fill="#2a2a2a" >control</text>
<text x="398.7" y="709.3" font-size="10.8" fill="#2a2a2a" >reporter</text>
<line x1="391.4" y1="658" x2="391.4" y2="666.4" stroke="#f08a62" stroke-width="0.7" />
<line x1="390" y1="658" x2="392.8" y2="658" stroke="#f08a62" stroke-width="0.7" />
<line x1="390" y1="666.4" x2="392.8" y2="666.4" stroke="#f08a62" stroke-width="0.7" />
<rect x="389.4" y="660.2" width="4" height="4" fill="#f08a62" />
<line x1="391.4" y1="691.1" x2="391.4" y2="699.5" stroke="#4fbf9a" stroke-width="0.7" />
<line x1="390" y1="691.1" x2="392.8" y2="691.1" stroke="#4fbf9a" stroke-width="0.7" />
<line x1="390" y1="699.5" x2="392.8" y2="699.5" stroke="#4fbf9a" stroke-width="0.7" />
<rect x="389.4" y="693.3" width="4" height="4" fill="#4fbf9a" />
<text x="391.6" y="730.5" font-size="9.6" fill="#2a2a2a" textLength="50.6" lengthAdjust="spacingAndGlyphs" >Change diff:</text>
<text x="391.6" y="740.5" font-size="9.6" fill="#2a2a2a" >14%</text>
<text x="391.6" y="750.8" font-size="9.6" fill="#2a2a2a" textLength="45" lengthAdjust="spacingAndGlyphs" ><tspan font-style="italic">P</tspan> &lt; 2.2e−16</text>
<rect x="558.2" y="639.4" width="59.9" height="70.3" fill="#fbfbfb" stroke="#e0e0e0" stroke-width="0.9"/>
<path d="M558.7,779.49 L559.2,779.48 L559.7,779.48 L560.2,779.48 L560.7,779.48 L561.2,779.48 L561.7,779.48 L562.2,779.48 L562.7,779.48 L563.2,779.47 L563.7,779.47 L564.2,779.47 L564.7,779.47 L565.2,779.47 L565.7,779.47 L566.2,779.46 L566.7,779.46 L567.2,779.46 L567.7,779.46 L568.2,779.45 L568.7,779.45 L569.2,779.45 L569.7,779.44 L570.2,779.44 L570.7,779.44 L571.2,779.43 L571.7,779.43 L572.2,779.42 L572.7,779.42 L573.2,779.41 L573.7,779.41 L574.2,779.4 L574.7,779.39 L575.2,779.39 L575.7,779.38 L576.2,779.37 L576.7,779.36 L577.2,779.35 L577.7,779.35 L578.2,779.34 L578.7,779.33 L579.2,779.31 L579.7,779.3 L580.2,779.29 L580.7,779.28 L581.2,779.26 L581.7,779.25 L582.2,779.23 L582.7,779.21 L583.2,779.19 L583.7,779.17 L584.2,779.15 L584.7,779.13 L585.2,779.11 L585.7,779.08 L586.2,779.05 L586.7,779.03 L587.2,779 L587.7,778.96 L588.2,778.93 L588.7,778.89 L589.2,778.85 L589.7,778.81 L590.2,778.77 L590.7,778.72 L591.2,778.67 L591.7,778.62 L592.2,778.56 L592.7,778.5 L593.2,778.44 L593.7,778.37 L594.2,778.3 L594.7,778.23 L595.2,778.14 L595.7,778.06 L596.2,777.97 L596.7,777.87 L597.2,777.77 L597.7,777.66 L598.2,777.54 L598.7,777.42 L599.2,777.29 L599.7,777.15 L600.2,777 L600.7,776.85 L601.2,776.68 L601.7,776.51 L602.2,776.32 L602.7,776.13 L603.2,775.92 L603.7,775.7 L604.2,775.47 L604.7,775.22 L605.2,774.96 L605.7,774.69 L606.2,774.4 L606.7,774.09 L607.2,773.77 L607.7,773.43 L608.2,773.07 L608.7,772.69 L609.2,772.29 L609.7,771.87 L610.2,771.43 L610.7,770.97 L611.2,770.48 L611.7,769.97 L612.2,769.44 L612.7,768.87 L613.2,768.29 L613.7,767.67 L614.2,767.03 L614.7,766.36 L615.2,765.67 L615.7,764.94 L616.2,764.19 L616.7,763.4 L617.2,762.59 L617.7,761.74 L618.2,760.87 L618.7,759.97 L619.2,759.04 L619.7,758.08 L620.2,757.1 L620.7,756.08 L621.2,755.05 L621.7,753.98 L622.2,752.9 L622.7,751.79 L623.2,750.66 L623.7,749.52 L624.2,748.35 L624.7,747.17 L625.2,745.98 L625.7,744.78 L626.2,743.57 L626.7,742.35 L627.2,741.13 L627.7,739.91 L628.2,738.69 L628.7,737.47 L629.2,736.26 L629.7,735.06 L630.2,733.86 L630.7,732.68 L631.2,731.52 L631.7,730.37 L632.2,729.23 L632.7,728.12 L633.2,727.03 L633.7,725.96 L634.2,724.92 L634.7,723.9 L635.2,722.91 L635.7,721.95 L636.2,721.01 L636.7,720.11 L637.2,719.23 L637.7,718.38 L638.2,717.56 L638.7,716.77 L639.2,716.01 L639.7,715.28 L640.2,714.57 L640.7,713.9 L641.2,713.25 L641.7,712.63 L642.2,712.04 L642.7,711.47 L643.2,710.93 L643.7,710.42 L644.2,709.93 L644.7,709.46 L645.2,709.01 L645.7,708.59 L646.2,708.19 L646.7,707.8 L647.2,707.44 L647.7,707.1 L648.2,706.77 L648.7,706.46 L649.2,706.17 L649.7,705.89 L650.2,705.63 L650.7,705.38 L651.2,705.14 L651.7,704.92 L652.2,704.71 L652.7,704.51 L653.2,704.33 L653.7,704.15 L654.2,703.98 L654.7,703.83 L655.2,703.68 L655.7,703.54 L656.2,703.41 L656.7,703.28 L657.2,703.16 L657.7,703.05 L658.2,702.95 L658.7,702.85 L659.2,702.76 L659.7,702.67 L660.2,702.59 L660.7,702.51 L661.2,702.44 L661.7,702.37 L662.2,702.31 L662.7,702.25 L663.2,702.19 L663.7,702.14 L664.2,702.09 L664.7,702.04 L665.2,702 L665.7,701.95 L666.2,701.92 L666.7,701.88 L667.2,701.84 L667.7,701.81 L668.2,701.78 L668.7,701.75 L669.2,701.72 L669.7,701.7 L670.2,701.67 L670.7,701.65 L671.2,701.63 L671.7,701.61 L672.2,701.59 L672.7,701.57 L673.2,701.56 L673.7,701.54 L674.2,701.53 L674.7,701.51 L675.2,701.5 L675.7,701.49 L676.2,701.48 L676.7,701.47 L677.2,701.46 L677.7,701.45 L678.2,701.44 L678.7,701.43" fill="none" stroke="#4fbf9a" stroke-width="1.1"/>
<path d="M558.7,780.3 L559.2,780.3 L559.7,780.3 L560.2,780.3 L560.7,780.3 L561.2,780.3 L561.7,780.3 L562.2,780.3 L562.7,780.3 L563.2,780.3 L563.7,780.3 L564.2,780.3 L564.7,780.3 L565.2,780.3 L565.7,780.3 L566.2,780.3 L566.7,780.3 L567.2,780.3 L567.7,780.3 L568.2,780.3 L568.7,780.3 L569.2,780.3 L569.7,780.3 L570.2,780.3 L570.7,780.3 L571.2,780.3 L571.7,780.3 L572.2,780.3 L572.7,780.3 L573.2,780.29 L573.7,780.29 L574.2,780.29 L574.7,780.29 L575.2,780.29 L575.7,780.29 L576.2,780.29 L576.7,780.29 L577.2,780.29 L577.7,780.29 L578.2,780.28 L578.7,780.28 L579.2,780.28 L579.7,780.28 L580.2,780.28 L580.7,780.27 L581.2,780.27 L581.7,780.27 L582.2,780.26 L582.7,780.26 L583.2,780.26 L583.7,780.25 L584.2,780.25 L584.7,780.24 L585.2,780.23 L585.7,780.23 L586.2,780.22 L586.7,780.21 L587.2,780.2 L587.7,780.19 L588.2,780.18 L588.7,780.17 L589.2,780.15 L589.7,780.13 L590.2,780.12 L590.7,780.1 L591.2,780.07 L591.7,780.05 L592.2,780.02 L592.7,779.99 L593.2,779.96 L593.7,779.92 L594.2,779.88 L594.7,779.84 L595.2,779.79 L595.7,779.73 L596.2,779.67 L596.7,779.6 L597.2,779.53 L597.7,779.44 L598.2,779.35 L598.7,779.25 L599.2,779.14 L599.7,779.01 L600.2,778.87 L600.7,778.72 L601.2,778.55 L601.7,778.37 L602.2,778.16 L602.7,777.93 L603.2,777.68 L603.7,777.4 L604.2,777.1 L604.7,776.76 L605.2,776.39 L605.7,775.98 L606.2,775.53 L606.7,775.03 L607.2,774.49 L607.7,773.89 L608.2,773.23 L608.7,772.51 L609.2,771.73 L609.7,770.87 L610.2,769.93 L610.7,768.91 L611.2,767.8 L611.7,766.6 L612.2,765.29 L612.7,763.89 L613.2,762.37 L613.7,760.73 L614.2,758.98 L614.7,757.11 L615.2,755.11 L615.7,752.99 L616.2,750.75 L616.7,748.38 L617.2,745.9 L617.7,743.3 L618.2,740.6 L618.7,737.8 L619.2,734.91 L619.7,731.94 L620.2,728.91 L620.7,725.84 L621.2,722.73 L621.7,719.6 L622.2,716.47 L622.7,713.36 L623.2,710.29 L623.7,707.26 L624.2,704.29 L624.7,701.4 L625.2,698.6 L625.7,695.9 L626.2,693.3 L626.7,690.82 L627.2,688.45 L627.7,686.21 L628.2,684.09 L628.7,682.09 L629.2,680.22 L629.7,678.47 L630.2,676.83 L630.7,675.31 L631.2,673.91 L631.7,672.6 L632.2,671.4 L632.7,670.29 L633.2,669.27 L633.7,668.33 L634.2,667.47 L634.7,666.69 L635.2,665.97 L635.7,665.31 L636.2,664.71 L636.7,664.17 L637.2,663.67 L637.7,663.22 L638.2,662.81 L638.7,662.44 L639.2,662.1 L639.7,661.8 L640.2,661.52 L640.7,661.27 L641.2,661.04 L641.7,660.83 L642.2,660.65 L642.7,660.48 L643.2,660.33 L643.7,660.19 L644.2,660.06 L644.7,659.95 L645.2,659.85 L645.7,659.76 L646.2,659.67 L646.7,659.6 L647.2,659.53 L647.7,659.47 L648.2,659.41 L648.7,659.36 L649.2,659.32 L649.7,659.28 L650.2,659.24 L650.7,659.21 L651.2,659.18 L651.7,659.15 L652.2,659.13 L652.7,659.1 L653.2,659.08 L653.7,659.07 L654.2,659.05 L654.7,659.03 L655.2,659.02 L655.7,659.01 L656.2,659 L656.7,658.99 L657.2,658.98 L657.7,658.97 L658.2,658.97 L658.7,658.96 L659.2,658.95 L659.7,658.95 L660.2,658.94 L660.7,658.94 L661.2,658.94 L661.7,658.93 L662.2,658.93 L662.7,658.93 L663.2,658.92 L663.7,658.92 L664.2,658.92 L664.7,658.92 L665.2,658.92 L665.7,658.91 L666.2,658.91 L666.7,658.91 L667.2,658.91 L667.7,658.91 L668.2,658.91 L668.7,658.91 L669.2,658.91 L669.7,658.91 L670.2,658.91 L670.7,658.9 L671.2,658.9 L671.7,658.9 L672.2,658.9 L672.7,658.9 L673.2,658.9 L673.7,658.9 L674.2,658.9 L674.7,658.9 L675.2,658.9 L675.7,658.9 L676.2,658.9 L676.7,658.9 L677.2,658.9 L677.7,658.9 L678.2,658.9 L678.7,658.9" fill="none" stroke="#f08a62" stroke-width="1.1"/>
<line x1="558.7" y1="779.1" x2="558.7" y2="782.1" stroke="#4fbf9a" stroke-width="0.7" />
<line x1="557.3" y1="779.1" x2="560.1" y2="779.1" stroke="#4fbf9a" stroke-width="0.7" />
<line x1="557.3" y1="782.1" x2="560.1" y2="782.1" stroke="#4fbf9a" stroke-width="0.7" />
<rect x="556.7" y="778.6" width="4" height="4" fill="#4fbf9a" />
<line x1="573.3" y1="778.6" x2="573.3" y2="782.6" stroke="#4fbf9a" stroke-width="0.7" />
<line x1="571.9" y1="778.6" x2="574.7" y2="778.6" stroke="#4fbf9a" stroke-width="0.7" />
<line x1="571.9" y1="782.6" x2="574.7" y2="782.6" stroke="#4fbf9a" stroke-width="0.7" />
<rect x="571.3" y="778.6" width="4" height="4" fill="#4fbf9a" />
<line x1="588.6" y1="775" x2="588.6" y2="781" stroke="#4fbf9a" stroke-width="0.7" />
<line x1="587.2" y1="775" x2="590" y2="775" stroke="#4fbf9a" stroke-width="0.7" />
<line x1="587.2" y1="781" x2="590" y2="781" stroke="#4fbf9a" stroke-width="0.7" />
<rect x="586.6" y="776" width="4" height="4" fill="#4fbf9a" />
<line x1="603.2" y1="773.1" x2="603.2" y2="776.1" stroke="#4fbf9a" stroke-width="0.7" />
<line x1="601.8" y1="773.1" x2="604.6" y2="773.1" stroke="#4fbf9a" stroke-width="0.7" />
<line x1="601.8" y1="776.1" x2="604.6" y2="776.1" stroke="#4fbf9a" stroke-width="0.7" />
<rect x="601.2" y="772.6" width="4" height="4" fill="#4fbf9a" />
<line x1="618.6" y1="758.2" x2="618.6" y2="761.2" stroke="#4fbf9a" stroke-width="0.7" />
<line x1="617.2" y1="758.2" x2="620" y2="758.2" stroke="#4fbf9a" stroke-width="0.7" />
<line x1="617.2" y1="761.2" x2="620" y2="761.2" stroke="#4fbf9a" stroke-width="0.7" />
<rect x="616.6" y="757.7" width="4" height="4" fill="#4fbf9a" />
<line x1="633.7" y1="724.9" x2="633.7" y2="730.5" stroke="#4fbf9a" stroke-width="0.7" />
<line x1="632.3" y1="724.9" x2="635.1" y2="724.9" stroke="#4fbf9a" stroke-width="0.7" />
<line x1="632.3" y1="730.5" x2="635.1" y2="730.5" stroke="#4fbf9a" stroke-width="0.7" />
<rect x="631.7" y="725.7" width="4" height="4" fill="#4fbf9a" />
<line x1="648.8" y1="703.1" x2="648.8" y2="703.3" stroke="#4fbf9a" stroke-width="0.7" />
<line x1="647.4" y1="703.1" x2="650.2" y2="703.1" stroke="#4fbf9a" stroke-width="0.7" />
<line x1="647.4" y1="703.3" x2="650.2" y2="703.3" stroke="#4fbf9a" stroke-width="0.7" />
<rect x="646.8" y="701.2" width="4" height="4" fill="#4fbf9a" />
<line x1="663.6" y1="698" x2="663.6" y2="701.6" stroke="#4fbf9a" stroke-width="0.7" />
<line x1="662.2" y1="698" x2="665" y2="698" stroke="#4fbf9a" stroke-width="0.7" />
<line x1="662.2" y1="701.6" x2="665" y2="701.6" stroke="#4fbf9a" stroke-width="0.7" />
<rect x="661.6" y="697.8" width="4" height="4" fill="#4fbf9a" />
<line x1="678.8" y1="701.3" x2="678.8" y2="710.3" stroke="#4fbf9a" stroke-width="0.7" />
<line x1="677.4" y1="701.3" x2="680.2" y2="701.3" stroke="#4fbf9a" stroke-width="0.7" />
<line x1="677.4" y1="710.3" x2="680.2" y2="710.3" stroke="#4fbf9a" stroke-width="0.7" />
<rect x="676.8" y="703.8" width="4" height="4" fill="#4fbf9a" />
<line x1="558.7" y1="781.2" x2="558.7" y2="784.2" stroke="#f08a62" stroke-width="0.7" />
<line x1="557.3" y1="781.2" x2="560.1" y2="781.2" stroke="#f08a62" stroke-width="0.7" />
<line x1="557.3" y1="784.2" x2="560.1" y2="784.2" stroke="#f08a62" stroke-width="0.7" />
<rect x="556.7" y="780.7" width="4" height="4" fill="#f08a62" />
<line x1="573.3" y1="779.4" x2="573.3" y2="784.4" stroke="#f08a62" stroke-width="0.7" />
<line x1="571.9" y1="779.4" x2="574.7" y2="779.4" stroke="#f08a62" stroke-width="0.7" />
<line x1="571.9" y1="784.4" x2="574.7" y2="784.4" stroke="#f08a62" stroke-width="0.7" />
<rect x="571.3" y="779.9" width="4" height="4" fill="#f08a62" />
<line x1="588.6" y1="775.8" x2="588.6" y2="782.8" stroke="#f08a62" stroke-width="0.7" />
<line x1="587.2" y1="775.8" x2="590" y2="775.8" stroke="#f08a62" stroke-width="0.7" />
<line x1="587.2" y1="782.8" x2="590" y2="782.8" stroke="#f08a62" stroke-width="0.7" />
<rect x="586.6" y="777.3" width="4" height="4" fill="#f08a62" />
<line x1="603.2" y1="771.6" x2="603.2" y2="776.6" stroke="#f08a62" stroke-width="0.7" />
<line x1="601.8" y1="771.6" x2="604.6" y2="771.6" stroke="#f08a62" stroke-width="0.7" />
<line x1="601.8" y1="776.6" x2="604.6" y2="776.6" stroke="#f08a62" stroke-width="0.7" />
<rect x="601.2" y="772.1" width="4" height="4" fill="#f08a62" />
<line x1="618.6" y1="735.4" x2="618.6" y2="742.4" stroke="#f08a62" stroke-width="0.7" />
<line x1="617.2" y1="735.4" x2="620" y2="735.4" stroke="#f08a62" stroke-width="0.7" />
<line x1="617.2" y1="742.4" x2="620" y2="742.4" stroke="#f08a62" stroke-width="0.7" />
<rect x="616.6" y="736.9" width="4" height="4" fill="#f08a62" />
<line x1="633.7" y1="667.1" x2="633.7" y2="670.1" stroke="#f08a62" stroke-width="0.7" />
<line x1="632.3" y1="667.1" x2="635.1" y2="667.1" stroke="#f08a62" stroke-width="0.7" />
<line x1="632.3" y1="670.1" x2="635.1" y2="670.1" stroke="#f08a62" stroke-width="0.7" />
<rect x="631.7" y="666.6" width="4" height="4" fill="#f08a62" />
<line x1="648.8" y1="645.8" x2="648.8" y2="646" stroke="#f08a62" stroke-width="0.7" />
<line x1="647.4" y1="645.8" x2="650.2" y2="645.8" stroke="#f08a62" stroke-width="0.7" />
<line x1="647.4" y1="646" x2="650.2" y2="646" stroke="#f08a62" stroke-width="0.7" />
<rect x="646.8" y="643.9" width="4" height="4" fill="#f08a62" />
<line x1="663.6" y1="655" x2="663.6" y2="661.4" stroke="#f08a62" stroke-width="0.7" />
<line x1="662.2" y1="655" x2="665" y2="655" stroke="#f08a62" stroke-width="0.7" />
<line x1="662.2" y1="661.4" x2="665" y2="661.4" stroke="#f08a62" stroke-width="0.7" />
<rect x="661.6" y="656.2" width="4" height="4" fill="#f08a62" />
<line x1="678.8" y1="664.5" x2="678.8" y2="680.5" stroke="#f08a62" stroke-width="0.7" />
<line x1="677.4" y1="664.5" x2="680.2" y2="664.5" stroke="#f08a62" stroke-width="0.7" />
<line x1="677.4" y1="680.5" x2="680.2" y2="680.5" stroke="#f08a62" stroke-width="0.7" />
<rect x="676.8" y="670.5" width="4" height="4" fill="#f08a62" />
<line x1="552.4" y1="637.3" x2="552.4" y2="791.5" stroke="#5f5f5f" stroke-width="1" />
<line x1="552.4" y1="791.5" x2="685" y2="791.5" stroke="#5f5f5f" stroke-width="1" />
<line x1="549.1" y1="786" x2="552.4" y2="786" stroke="#5f5f5f" stroke-width="1" />
<text x="544.9" y="789.2" font-size="9.5" text-anchor="end" fill="#333" >0</text>
<line x1="549.1" y1="765.9" x2="552.4" y2="765.9" stroke="#5f5f5f" stroke-width="1" />
<text x="544.9" y="769.1" font-size="9.5" text-anchor="end" fill="#333" >5</text>
<line x1="549.1" y1="745.8" x2="552.4" y2="745.8" stroke="#5f5f5f" stroke-width="1" />
<text x="544.9" y="749" font-size="9.5" text-anchor="end" fill="#333" >10</text>
<line x1="549.1" y1="725.7" x2="552.4" y2="725.7" stroke="#5f5f5f" stroke-width="1" />
<text x="544.9" y="728.9" font-size="9.5" text-anchor="end" fill="#333" >15</text>
<line x1="549.1" y1="705.6" x2="552.4" y2="705.6" stroke="#5f5f5f" stroke-width="1" />
<text x="544.9" y="708.8" font-size="9.5" text-anchor="end" fill="#333" >20</text>
<line x1="549.1" y1="685.5" x2="552.4" y2="685.5" stroke="#5f5f5f" stroke-width="1" />
<text x="544.9" y="688.7" font-size="9.5" text-anchor="end" fill="#333" >25</text>
<line x1="549.1" y1="665.4" x2="552.4" y2="665.4" stroke="#5f5f5f" stroke-width="1" />
<text x="544.9" y="668.6" font-size="9.5" text-anchor="end" fill="#333" >30</text>
<line x1="549.1" y1="645.3" x2="552.4" y2="645.3" stroke="#5f5f5f" stroke-width="1" />
<text x="544.9" y="648.5" font-size="9.5" text-anchor="end" fill="#333" >35</text>
<line x1="573.3" y1="791.5" x2="573.3" y2="794.8" stroke="#5f5f5f" stroke-width="1" />
<text x="573.3" y="806.1" font-size="9.5" text-anchor="middle" fill="#333" >0.8</text>
<line x1="603.2" y1="791.5" x2="603.2" y2="794.8" stroke="#5f5f5f" stroke-width="1" />
<text x="603.2" y="806.1" font-size="9.5" text-anchor="middle" fill="#333" >3</text>
<line x1="633.7" y1="791.5" x2="633.7" y2="794.8" stroke="#5f5f5f" stroke-width="1" />
<text x="633.7" y="806.1" font-size="9.5" text-anchor="middle" fill="#333" >12</text>
<line x1="663.6" y1="791.5" x2="663.6" y2="794.8" stroke="#5f5f5f" stroke-width="1" />
<text x="663.6" y="806.1" font-size="9.5" text-anchor="middle" fill="#333" >50</text>
<text x="619.2" y="821.7" font-size="11" text-anchor="middle" fill="#2a2a2a" textLength="96.5" lengthAdjust="spacingAndGlyphs" >Concentration [nM]</text>
<text transform="translate(527.9,714.5) rotate(-90)" font-size="10.6" text-anchor="middle" fill="#2a2a2a" textLength="110.9" lengthAdjust="spacingAndGlyphs" >Expression change (%)</text>
<text x="569.4" y="650.4" font-size="10.8" fill="#2a2a2a" >RORC</text>
<text x="569.4" y="660.2" font-size="10.8" fill="#2a2a2a" >switch</text>
<text x="569.4" y="670" font-size="10.8" fill="#2a2a2a" >reporter</text>
<text x="569.4" y="686.4" font-size="10.8" fill="#2a2a2a" >Negative</text>
<text x="569.4" y="695.9" font-size="10.8" fill="#2a2a2a" >control</text>
<text x="569.4" y="705.4" font-size="10.8" fill="#2a2a2a" >reporter</text>
<line x1="562.1" y1="653.5" x2="562.1" y2="661.9" stroke="#f08a62" stroke-width="0.7" />
<line x1="560.7" y1="653.5" x2="563.5" y2="653.5" stroke="#f08a62" stroke-width="0.7" />
<line x1="560.7" y1="661.9" x2="563.5" y2="661.9" stroke="#f08a62" stroke-width="0.7" />
<rect x="560.1" y="655.7" width="4" height="4" fill="#f08a62" />
<line x1="562.1" y1="688.6" x2="562.1" y2="697" stroke="#4fbf9a" stroke-width="0.7" />
<line x1="560.7" y1="688.6" x2="563.5" y2="688.6" stroke="#4fbf9a" stroke-width="0.7" />
<line x1="560.7" y1="697" x2="563.5" y2="697" stroke="#4fbf9a" stroke-width="0.7" />
<rect x="560.1" y="690.8" width="4" height="4" fill="#4fbf9a" />
<text x="627.7" y="751.9" font-size="9.6" fill="#2a2a2a" textLength="50.6" lengthAdjust="spacingAndGlyphs" >Change diff:</text>
<text x="627.7" y="761.9" font-size="9.6" fill="#2a2a2a" >10%</text>
<text x="627.7" y="772.2" font-size="9.6" fill="#2a2a2a" textLength="45" lengthAdjust="spacingAndGlyphs" ><tspan font-style="italic">P</tspan> &lt; 2.2e−16</text>
</svg></body></html>
